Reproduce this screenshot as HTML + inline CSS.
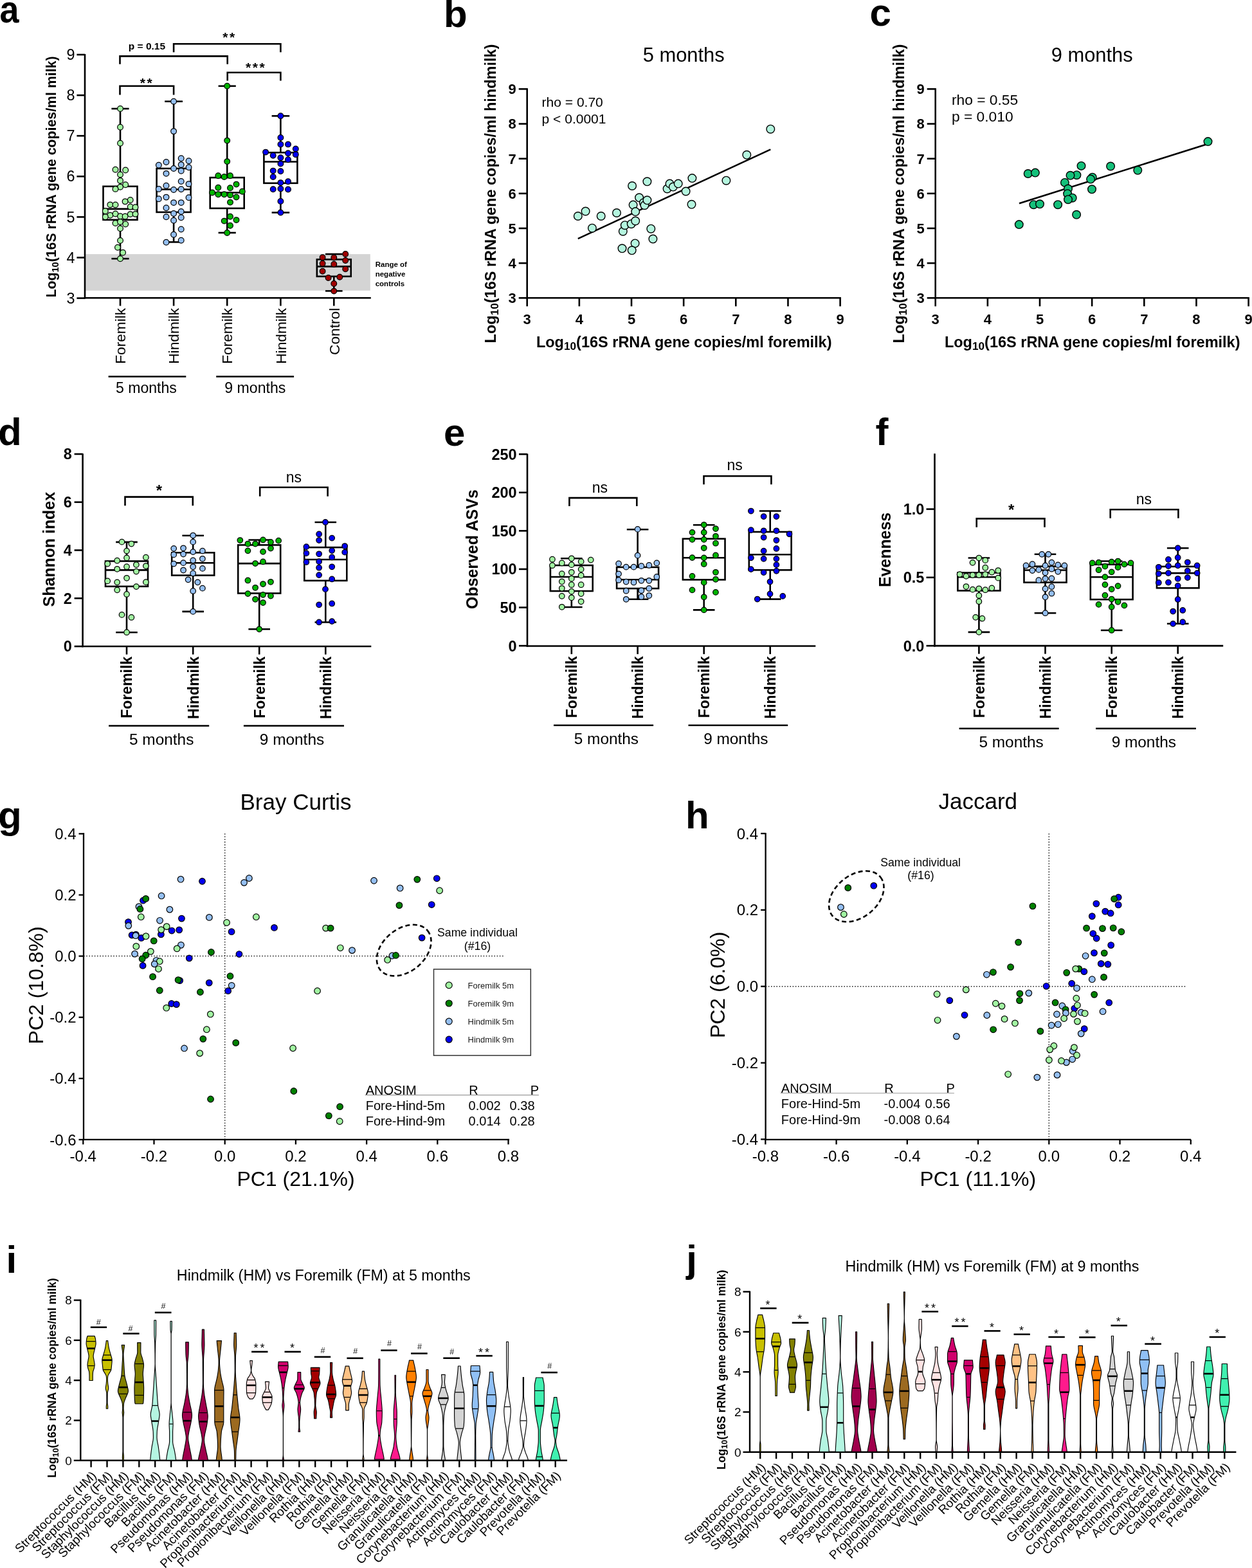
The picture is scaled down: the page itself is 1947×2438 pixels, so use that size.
<!DOCTYPE html>
<html><head><meta charset="utf-8"><title>Figure</title>
<style>html,body{margin:0;padding:0;background:#fff;}svg{display:block;}</style>
</head><body>
<svg width="1947" height="2438" viewBox="0 0 1947 2438" font-family="'Liberation Sans', Arial, sans-serif">
<rect width="1947" height="2438" fill="#fff"/>
<text transform="translate(-0.5 34.5) scale(0.9 1)" font-size="60" font-weight="bold">a</text>
<rect x="132" y="395.1" width="443.8" height="56.7" fill="#d4d4d4" stroke="none" stroke-width="0"/>
<line x1="132" y1="84" x2="132" y2="464.6" stroke="#000" stroke-width="2.6" stroke-linecap="butt"/>
<line x1="130.7" y1="463.3" x2="576.8" y2="463.3" stroke="#000" stroke-width="2.6" stroke-linecap="butt"/>
<line x1="119.4" y1="463.6" x2="132" y2="463.6" stroke="#000" stroke-width="2.6" stroke-linecap="butt"/>
<text x="116.5" y="471.7" font-size="23.4" text-anchor="end" fill="#000">3</text>
<line x1="119.4" y1="400.5" x2="132" y2="400.5" stroke="#000" stroke-width="2.6" stroke-linecap="butt"/>
<text x="116.5" y="408.6" font-size="23.4" text-anchor="end" fill="#000">4</text>
<line x1="119.4" y1="337.4" x2="132" y2="337.4" stroke="#000" stroke-width="2.6" stroke-linecap="butt"/>
<text x="116.5" y="345.5" font-size="23.4" text-anchor="end" fill="#000">5</text>
<line x1="119.4" y1="274.3" x2="132" y2="274.3" stroke="#000" stroke-width="2.6" stroke-linecap="butt"/>
<text x="116.5" y="282.4" font-size="23.4" text-anchor="end" fill="#000">6</text>
<line x1="119.4" y1="211.2" x2="132" y2="211.2" stroke="#000" stroke-width="2.6" stroke-linecap="butt"/>
<text x="116.5" y="219.3" font-size="23.4" text-anchor="end" fill="#000">7</text>
<line x1="119.4" y1="148.1" x2="132" y2="148.1" stroke="#000" stroke-width="2.6" stroke-linecap="butt"/>
<text x="116.5" y="156.2" font-size="23.4" text-anchor="end" fill="#000">8</text>
<line x1="119.4" y1="85" x2="132" y2="85" stroke="#000" stroke-width="2.6" stroke-linecap="butt"/>
<text x="116.5" y="93.1" font-size="23.4" text-anchor="end" fill="#000">9</text>
<line x1="187" y1="463.3" x2="187" y2="475.6" stroke="#000" stroke-width="2.6" stroke-linecap="butt"/>
<line x1="270.1" y1="463.3" x2="270.1" y2="475.6" stroke="#000" stroke-width="2.6" stroke-linecap="butt"/>
<line x1="353.2" y1="463.3" x2="353.2" y2="475.6" stroke="#000" stroke-width="2.6" stroke-linecap="butt"/>
<line x1="436.4" y1="463.3" x2="436.4" y2="475.6" stroke="#000" stroke-width="2.6" stroke-linecap="butt"/>
<line x1="519.3" y1="463.3" x2="519.3" y2="475.6" stroke="#000" stroke-width="2.6" stroke-linecap="butt"/>
<text transform="translate(86.6 275) rotate(-90)" font-size="21.3" font-weight="bold" text-anchor="middle" fill="#000">Log<tspan font-size="14.6" dy="4.2">10</tspan><tspan dy="-4.2">(16S rRNA gene copies/ml milk)</tspan></text>
<text transform="translate(195.2 478.8) rotate(-90)" font-size="22.7" text-anchor="end" fill="#000">Foremilk</text>
<text transform="translate(278.3 478.8) rotate(-90)" font-size="22.7" text-anchor="end" fill="#000">Hindmilk</text>
<text transform="translate(361.4 478.8) rotate(-90)" font-size="22.7" text-anchor="end" fill="#000">Foremilk</text>
<text transform="translate(444.6 478.8) rotate(-90)" font-size="22.7" text-anchor="end" fill="#000">Hindmilk</text>
<text transform="translate(527.5 478.8) rotate(-90)" font-size="22.7" text-anchor="end" fill="#000">Control</text>
<line x1="168.6" y1="585.5" x2="289.3" y2="585.5" stroke="#000" stroke-width="2.6" stroke-linecap="butt"/>
<line x1="336.2" y1="585.5" x2="457.1" y2="585.5" stroke="#000" stroke-width="2.6" stroke-linecap="butt"/>
<text x="227.4" y="611.2" font-size="23.1" text-anchor="middle" fill="#000">5 months</text>
<text x="396.8" y="611.2" font-size="23.1" text-anchor="middle" fill="#000">9 months</text>
<line x1="187" y1="169" x2="187" y2="289.8" stroke="#000" stroke-width="2.6" stroke-linecap="butt"/>
<line x1="187" y1="341.8" x2="187" y2="402.2" stroke="#000" stroke-width="2.6" stroke-linecap="butt"/>
<line x1="173.4" y1="169" x2="200.6" y2="169" stroke="#000" stroke-width="2.6" stroke-linecap="butt"/>
<line x1="173.4" y1="402.2" x2="200.6" y2="402.2" stroke="#000" stroke-width="2.6" stroke-linecap="butt"/>
<rect x="160.5" y="289.8" width="53" height="52" fill="none" stroke="#000" stroke-width="2.6"/>
<line x1="160.5" y1="324.9" x2="213.5" y2="324.9" stroke="#000" stroke-width="2.6" stroke-linecap="butt"/>
<line x1="270.1" y1="157.7" x2="270.1" y2="262" stroke="#000" stroke-width="2.6" stroke-linecap="butt"/>
<line x1="270.1" y1="329.9" x2="270.1" y2="376.4" stroke="#000" stroke-width="2.6" stroke-linecap="butt"/>
<line x1="256.2" y1="157.7" x2="284" y2="157.7" stroke="#000" stroke-width="2.6" stroke-linecap="butt"/>
<line x1="256.2" y1="376.4" x2="284" y2="376.4" stroke="#000" stroke-width="2.6" stroke-linecap="butt"/>
<rect x="243.6" y="262" width="53" height="67.9" fill="none" stroke="#000" stroke-width="2.6"/>
<line x1="243.6" y1="294.5" x2="296.6" y2="294.5" stroke="#000" stroke-width="2.6" stroke-linecap="butt"/>
<line x1="353.2" y1="133.8" x2="353.2" y2="276.1" stroke="#000" stroke-width="2.6" stroke-linecap="butt"/>
<line x1="353.2" y1="323.9" x2="353.2" y2="361.9" stroke="#000" stroke-width="2.6" stroke-linecap="butt"/>
<line x1="339.6" y1="133.8" x2="366.8" y2="133.8" stroke="#000" stroke-width="2.6" stroke-linecap="butt"/>
<line x1="339.6" y1="361.9" x2="366.8" y2="361.9" stroke="#000" stroke-width="2.6" stroke-linecap="butt"/>
<rect x="326.7" y="276.1" width="53" height="47.8" fill="none" stroke="#000" stroke-width="2.6"/>
<line x1="326.7" y1="299.5" x2="379.7" y2="299.5" stroke="#000" stroke-width="2.6" stroke-linecap="butt"/>
<line x1="436.4" y1="180.3" x2="436.4" y2="237.2" stroke="#000" stroke-width="2.6" stroke-linecap="butt"/>
<line x1="436.4" y1="284.8" x2="436.4" y2="330.5" stroke="#000" stroke-width="2.6" stroke-linecap="butt"/>
<line x1="422.6" y1="180.3" x2="450.2" y2="180.3" stroke="#000" stroke-width="2.6" stroke-linecap="butt"/>
<line x1="422.6" y1="330.5" x2="450.2" y2="330.5" stroke="#000" stroke-width="2.6" stroke-linecap="butt"/>
<rect x="410.4" y="237.2" width="52" height="47.6" fill="none" stroke="#000" stroke-width="2.6"/>
<line x1="410.4" y1="251.5" x2="462.4" y2="251.5" stroke="#000" stroke-width="2.6" stroke-linecap="butt"/>
<line x1="519.3" y1="395.1" x2="519.3" y2="403.4" stroke="#000" stroke-width="2.6" stroke-linecap="butt"/>
<line x1="519.3" y1="429.8" x2="519.3" y2="452.4" stroke="#000" stroke-width="2.6" stroke-linecap="butt"/>
<line x1="506" y1="395.1" x2="532.6" y2="395.1" stroke="#000" stroke-width="2.6" stroke-linecap="butt"/>
<line x1="506" y1="452.4" x2="532.6" y2="452.4" stroke="#000" stroke-width="2.6" stroke-linecap="butt"/>
<rect x="492.85" y="403.4" width="52.9" height="26.4" fill="none" stroke="#000" stroke-width="2.6"/>
<line x1="492.85" y1="414.4" x2="545.75" y2="414.4" stroke="#000" stroke-width="2.6" stroke-linecap="butt"/>
<circle cx="187.04" cy="169.04" r="4.35" fill="#a2f5a2" stroke="#000" stroke-width="1.25"/>
<circle cx="187.04" cy="197.72" r="4.35" fill="#a2f5a2" stroke="#000" stroke-width="1.25"/>
<circle cx="187.04" cy="222.69" r="4.35" fill="#a2f5a2" stroke="#000" stroke-width="1.25"/>
<circle cx="179.49" cy="263.69" r="4.35" fill="#a2f5a2" stroke="#000" stroke-width="1.25"/>
<circle cx="195.17" cy="264.51" r="4.35" fill="#a2f5a2" stroke="#000" stroke-width="1.25"/>
<circle cx="187.04" cy="271.48" r="4.35" fill="#a2f5a2" stroke="#000" stroke-width="1.25"/>
<circle cx="187.04" cy="280.88" r="4.35" fill="#a2f5a2" stroke="#000" stroke-width="1.25"/>
<circle cx="195.17" cy="287.27" r="4.35" fill="#a2f5a2" stroke="#000" stroke-width="1.25"/>
<circle cx="187.04" cy="290.75" r="4.35" fill="#a2f5a2" stroke="#000" stroke-width="1.25"/>
<circle cx="179.49" cy="293.89" r="4.35" fill="#a2f5a2" stroke="#000" stroke-width="1.25"/>
<circle cx="202.72" cy="311.03" r="4.35" fill="#a2f5a2" stroke="#000" stroke-width="1.25"/>
<circle cx="194.59" cy="313.36" r="4.35" fill="#a2f5a2" stroke="#000" stroke-width="1.25"/>
<circle cx="171.36" cy="318.35" r="4.35" fill="#a2f5a2" stroke="#000" stroke-width="1.25"/>
<circle cx="179.49" cy="318.58" r="4.35" fill="#a2f5a2" stroke="#000" stroke-width="1.25"/>
<circle cx="202.72" cy="321.49" r="4.35" fill="#a2f5a2" stroke="#000" stroke-width="1.25"/>
<circle cx="210.5" cy="322.3" r="4.35" fill="#a2f5a2" stroke="#000" stroke-width="1.25"/>
<circle cx="163.81" cy="328.22" r="4.35" fill="#a2f5a2" stroke="#000" stroke-width="1.25"/>
<circle cx="171.36" cy="334.84" r="4.35" fill="#a2f5a2" stroke="#000" stroke-width="1.25"/>
<circle cx="179.49" cy="332.52" r="4.35" fill="#a2f5a2" stroke="#000" stroke-width="1.25"/>
<circle cx="187.04" cy="336.24" r="4.35" fill="#a2f5a2" stroke="#000" stroke-width="1.25"/>
<circle cx="194.59" cy="336.59" r="4.35" fill="#a2f5a2" stroke="#000" stroke-width="1.25"/>
<circle cx="202.72" cy="333.1" r="4.35" fill="#a2f5a2" stroke="#000" stroke-width="1.25"/>
<circle cx="210.5" cy="332.87" r="4.35" fill="#a2f5a2" stroke="#000" stroke-width="1.25"/>
<circle cx="163.81" cy="337.17" r="4.35" fill="#a2f5a2" stroke="#000" stroke-width="1.25"/>
<circle cx="179.49" cy="347.04" r="4.35" fill="#a2f5a2" stroke="#000" stroke-width="1.25"/>
<circle cx="187.04" cy="345.06" r="4.35" fill="#a2f5a2" stroke="#000" stroke-width="1.25"/>
<circle cx="195.17" cy="348.55" r="4.35" fill="#a2f5a2" stroke="#000" stroke-width="1.25"/>
<circle cx="187.04" cy="355.17" r="4.35" fill="#a2f5a2" stroke="#000" stroke-width="1.25"/>
<circle cx="187.04" cy="373.98" r="4.35" fill="#a2f5a2" stroke="#000" stroke-width="1.25"/>
<circle cx="182.97" cy="384.79" r="4.35" fill="#a2f5a2" stroke="#000" stroke-width="1.25"/>
<circle cx="191.1" cy="392.68" r="4.35" fill="#a2f5a2" stroke="#000" stroke-width="1.25"/>
<circle cx="187.04" cy="402.21" r="4.35" fill="#a2f5a2" stroke="#000" stroke-width="1.25"/>
<circle cx="270.08" cy="157.65" r="4.35" fill="#94bff2" stroke="#000" stroke-width="1.25"/>
<circle cx="270.08" cy="204.11" r="4.35" fill="#94bff2" stroke="#000" stroke-width="1.25"/>
<circle cx="246.85" cy="256.72" r="4.35" fill="#94bff2" stroke="#000" stroke-width="1.25"/>
<circle cx="258.47" cy="252.08" r="4.35" fill="#94bff2" stroke="#000" stroke-width="1.25"/>
<circle cx="281.7" cy="246.27" r="4.35" fill="#94bff2" stroke="#000" stroke-width="1.25"/>
<circle cx="293.54" cy="250.34" r="4.35" fill="#94bff2" stroke="#000" stroke-width="1.25"/>
<circle cx="281.7" cy="256.14" r="4.35" fill="#94bff2" stroke="#000" stroke-width="1.25"/>
<circle cx="270.08" cy="261.95" r="4.35" fill="#94bff2" stroke="#000" stroke-width="1.25"/>
<circle cx="293.54" cy="260.21" r="4.35" fill="#94bff2" stroke="#000" stroke-width="1.25"/>
<circle cx="281.7" cy="265.67" r="4.35" fill="#94bff2" stroke="#000" stroke-width="1.25"/>
<circle cx="258.47" cy="269.85" r="4.35" fill="#94bff2" stroke="#000" stroke-width="1.25"/>
<circle cx="281.7" cy="281.93" r="4.35" fill="#94bff2" stroke="#000" stroke-width="1.25"/>
<circle cx="293.54" cy="286.11" r="4.35" fill="#94bff2" stroke="#000" stroke-width="1.25"/>
<circle cx="258.47" cy="288.66" r="4.35" fill="#94bff2" stroke="#000" stroke-width="1.25"/>
<circle cx="246.85" cy="293.89" r="4.35" fill="#94bff2" stroke="#000" stroke-width="1.25"/>
<circle cx="270.08" cy="295.05" r="4.35" fill="#94bff2" stroke="#000" stroke-width="1.25"/>
<circle cx="281.7" cy="294.24" r="4.35" fill="#94bff2" stroke="#000" stroke-width="1.25"/>
<circle cx="246.85" cy="309.29" r="4.35" fill="#94bff2" stroke="#000" stroke-width="1.25"/>
<circle cx="258.47" cy="306.62" r="4.35" fill="#94bff2" stroke="#000" stroke-width="1.25"/>
<circle cx="293.54" cy="307.2" r="4.35" fill="#94bff2" stroke="#000" stroke-width="1.25"/>
<circle cx="270.08" cy="315.1" r="4.35" fill="#94bff2" stroke="#000" stroke-width="1.25"/>
<circle cx="281.7" cy="315.1" r="4.35" fill="#94bff2" stroke="#000" stroke-width="1.25"/>
<circle cx="258.47" cy="323.23" r="4.35" fill="#94bff2" stroke="#000" stroke-width="1.25"/>
<circle cx="270.08" cy="331.94" r="4.35" fill="#94bff2" stroke="#000" stroke-width="1.25"/>
<circle cx="281.7" cy="329.04" r="4.35" fill="#94bff2" stroke="#000" stroke-width="1.25"/>
<circle cx="258.47" cy="337.17" r="4.35" fill="#94bff2" stroke="#000" stroke-width="1.25"/>
<circle cx="281.7" cy="338.33" r="4.35" fill="#94bff2" stroke="#000" stroke-width="1.25"/>
<circle cx="270.08" cy="342.74" r="4.35" fill="#94bff2" stroke="#000" stroke-width="1.25"/>
<circle cx="281.7" cy="356.56" r="4.35" fill="#94bff2" stroke="#000" stroke-width="1.25"/>
<circle cx="270.08" cy="364.81" r="4.35" fill="#94bff2" stroke="#000" stroke-width="1.25"/>
<circle cx="258.47" cy="376.66" r="4.35" fill="#94bff2" stroke="#000" stroke-width="1.25"/>
<circle cx="281.7" cy="373.75" r="4.35" fill="#94bff2" stroke="#000" stroke-width="1.25"/>
<circle cx="353.2" cy="133.8" r="4.35" fill="#00b400" stroke="#000" stroke-width="1.25"/>
<circle cx="353.2" cy="218.6" r="4.35" fill="#00b400" stroke="#000" stroke-width="1.25"/>
<circle cx="353.2" cy="251.1" r="4.35" fill="#00b400" stroke="#000" stroke-width="1.25"/>
<circle cx="339.3" cy="273.2" r="4.35" fill="#00b400" stroke="#000" stroke-width="1.25"/>
<circle cx="348.7" cy="274.9" r="4.35" fill="#00b400" stroke="#000" stroke-width="1.25"/>
<circle cx="358" cy="273.2" r="4.35" fill="#00b400" stroke="#000" stroke-width="1.25"/>
<circle cx="367.5" cy="286.6" r="4.35" fill="#00b400" stroke="#000" stroke-width="1.25"/>
<circle cx="339.3" cy="291.7" r="4.35" fill="#00b400" stroke="#000" stroke-width="1.25"/>
<circle cx="358" cy="292.2" r="4.35" fill="#00b400" stroke="#000" stroke-width="1.25"/>
<circle cx="330" cy="299.5" r="4.35" fill="#00b400" stroke="#000" stroke-width="1.25"/>
<circle cx="376.8" cy="297.8" r="4.35" fill="#00b400" stroke="#000" stroke-width="1.25"/>
<circle cx="339.3" cy="302.3" r="4.35" fill="#00b400" stroke="#000" stroke-width="1.25"/>
<circle cx="348.7" cy="302.3" r="4.35" fill="#00b400" stroke="#000" stroke-width="1.25"/>
<circle cx="358" cy="303.3" r="4.35" fill="#00b400" stroke="#000" stroke-width="1.25"/>
<circle cx="367.5" cy="306.5" r="4.35" fill="#00b400" stroke="#000" stroke-width="1.25"/>
<circle cx="358" cy="314.6" r="4.35" fill="#00b400" stroke="#000" stroke-width="1.25"/>
<circle cx="358" cy="336.7" r="4.35" fill="#00b400" stroke="#000" stroke-width="1.25"/>
<circle cx="348.7" cy="343.6" r="4.35" fill="#00b400" stroke="#000" stroke-width="1.25"/>
<circle cx="367.5" cy="342.1" r="4.35" fill="#00b400" stroke="#000" stroke-width="1.25"/>
<circle cx="358" cy="350.8" r="4.35" fill="#00b400" stroke="#000" stroke-width="1.25"/>
<circle cx="353.2" cy="361.9" r="4.35" fill="#00b400" stroke="#000" stroke-width="1.25"/>
<circle cx="436.4" cy="180.3" r="4.35" fill="#0000f0" stroke="#000" stroke-width="1.25"/>
<circle cx="436.4" cy="214" r="4.35" fill="#0000f0" stroke="#000" stroke-width="1.25"/>
<circle cx="436.4" cy="224.4" r="4.35" fill="#0000f0" stroke="#000" stroke-width="1.25"/>
<circle cx="448" cy="224.4" r="4.35" fill="#0000f0" stroke="#000" stroke-width="1.25"/>
<circle cx="459.8" cy="231.4" r="4.35" fill="#0000f0" stroke="#000" stroke-width="1.25"/>
<circle cx="413.1" cy="236.6" r="4.35" fill="#0000f0" stroke="#000" stroke-width="1.25"/>
<circle cx="424.7" cy="241.8" r="4.35" fill="#0000f0" stroke="#000" stroke-width="1.25"/>
<circle cx="448" cy="238.3" r="4.35" fill="#0000f0" stroke="#000" stroke-width="1.25"/>
<circle cx="459.8" cy="240.3" r="4.35" fill="#0000f0" stroke="#000" stroke-width="1.25"/>
<circle cx="436.4" cy="245.3" r="4.35" fill="#0000f0" stroke="#000" stroke-width="1.25"/>
<circle cx="448" cy="248.2" r="4.35" fill="#0000f0" stroke="#000" stroke-width="1.25"/>
<circle cx="436.4" cy="254.6" r="4.35" fill="#0000f0" stroke="#000" stroke-width="1.25"/>
<circle cx="424.7" cy="265.6" r="4.35" fill="#0000f0" stroke="#000" stroke-width="1.25"/>
<circle cx="436.4" cy="266.2" r="4.35" fill="#0000f0" stroke="#000" stroke-width="1.25"/>
<circle cx="424.7" cy="274.9" r="4.35" fill="#0000f0" stroke="#000" stroke-width="1.25"/>
<circle cx="436.4" cy="284.1" r="4.35" fill="#0000f0" stroke="#000" stroke-width="1.25"/>
<circle cx="448" cy="282.3" r="4.35" fill="#0000f0" stroke="#000" stroke-width="1.25"/>
<circle cx="424.7" cy="294.2" r="4.35" fill="#0000f0" stroke="#000" stroke-width="1.25"/>
<circle cx="436.4" cy="293.4" r="4.35" fill="#0000f0" stroke="#000" stroke-width="1.25"/>
<circle cx="448" cy="294.5" r="4.35" fill="#0000f0" stroke="#000" stroke-width="1.25"/>
<circle cx="436.4" cy="312.9" r="4.35" fill="#0000f0" stroke="#000" stroke-width="1.25"/>
<circle cx="436.4" cy="330.5" r="4.35" fill="#0000f0" stroke="#000" stroke-width="1.25"/>
<circle cx="501.6" cy="400.3" r="4.35" fill="#a00000" stroke="#000" stroke-width="1.25"/>
<circle cx="519.3" cy="400.5" r="4.35" fill="#a00000" stroke="#000" stroke-width="1.25"/>
<circle cx="537.2" cy="394.9" r="4.35" fill="#a00000" stroke="#000" stroke-width="1.25"/>
<circle cx="501.6" cy="409.7" r="4.35" fill="#a00000" stroke="#000" stroke-width="1.25"/>
<circle cx="519.3" cy="410.8" r="4.35" fill="#a00000" stroke="#000" stroke-width="1.25"/>
<circle cx="537.2" cy="405" r="4.35" fill="#a00000" stroke="#000" stroke-width="1.25"/>
<circle cx="501.6" cy="421.7" r="4.35" fill="#a00000" stroke="#000" stroke-width="1.25"/>
<circle cx="537.2" cy="418.3" r="4.35" fill="#a00000" stroke="#000" stroke-width="1.25"/>
<circle cx="510.6" cy="431.9" r="4.35" fill="#a00000" stroke="#000" stroke-width="1.25"/>
<circle cx="528.3" cy="430.8" r="4.35" fill="#a00000" stroke="#000" stroke-width="1.25"/>
<circle cx="519.3" cy="440.9" r="4.35" fill="#a00000" stroke="#000" stroke-width="1.25"/>
<circle cx="519.3" cy="452.6" r="4.35" fill="#a00000" stroke="#000" stroke-width="1.25"/>
<polyline points="270.1,81.3 270.1,68.2 436.4,68.2 436.4,81.3" fill="none" stroke="#000" stroke-width="2.6" stroke-linejoin="miter" stroke-linecap="butt"/>
<text x="356.9" y="65.2" font-size="21" font-weight="bold" text-anchor="middle" fill="#000" letter-spacing="2.6">**</text>
<polyline points="186.5,99.8 186.5,87.4 353.7,87.4 353.7,99.8" fill="none" stroke="#000" stroke-width="2.6" stroke-linejoin="miter" stroke-linecap="butt"/>
<text x="199.8" y="77.2" font-size="15.5" font-weight="bold" fill="#000">p = 0.15</text>
<polyline points="353.7,125.5 353.7,112.8 436.4,112.8 436.4,125.5" fill="none" stroke="#000" stroke-width="2.6" stroke-linejoin="miter" stroke-linecap="butt"/>
<text x="398.2" y="111.7" font-size="21" font-weight="bold" text-anchor="middle" fill="#000" letter-spacing="2.6">***</text>
<polyline points="186.5,147.4 186.5,133.8 270.1,133.8 270.1,147.4" fill="none" stroke="#000" stroke-width="2.6" stroke-linejoin="miter" stroke-linecap="butt"/>
<text x="228.6" y="135.9" font-size="21" font-weight="bold" text-anchor="middle" fill="#000" letter-spacing="2.6">**</text>
<text x="583.7" y="415.2" font-size="11.5" font-weight="bold" fill="#000">Range of</text>
<text x="583.7" y="430" font-size="11.5" font-weight="bold" fill="#000">negative</text>
<text x="583.7" y="444.7" font-size="11.5" font-weight="bold" fill="#000">controls</text>
<text x="690" y="41.8" font-size="60" font-weight="bold" fill="#000">b</text>
<line x1="819.7" y1="137.2" x2="819.7" y2="464.6" stroke="#000" stroke-width="2.6" stroke-linecap="butt"/>
<line x1="818.4" y1="463.3" x2="1307.9" y2="463.3" stroke="#000" stroke-width="2.6" stroke-linecap="butt"/>
<line x1="806.7" y1="463.3" x2="819.7" y2="463.3" stroke="#000" stroke-width="2.6" stroke-linecap="butt"/>
<text x="802.7" y="471.2" font-size="22" font-weight="bold" text-anchor="end" fill="#000">3</text>
<line x1="819.7" y1="463.3" x2="819.7" y2="476.3" stroke="#000" stroke-width="2.6" stroke-linecap="butt"/>
<text x="819.7" y="504" font-size="22" font-weight="bold" text-anchor="middle" fill="#000">3</text>
<line x1="806.7" y1="409.15" x2="819.7" y2="409.15" stroke="#000" stroke-width="2.6" stroke-linecap="butt"/>
<text x="802.7" y="417.05" font-size="22" font-weight="bold" text-anchor="end" fill="#000">4</text>
<line x1="900.85" y1="463.3" x2="900.85" y2="476.3" stroke="#000" stroke-width="2.6" stroke-linecap="butt"/>
<text x="900.85" y="504" font-size="22" font-weight="bold" text-anchor="middle" fill="#000">4</text>
<line x1="806.7" y1="355" x2="819.7" y2="355" stroke="#000" stroke-width="2.6" stroke-linecap="butt"/>
<text x="802.7" y="362.9" font-size="22" font-weight="bold" text-anchor="end" fill="#000">5</text>
<line x1="982" y1="463.3" x2="982" y2="476.3" stroke="#000" stroke-width="2.6" stroke-linecap="butt"/>
<text x="982" y="504" font-size="22" font-weight="bold" text-anchor="middle" fill="#000">5</text>
<line x1="806.7" y1="300.85" x2="819.7" y2="300.85" stroke="#000" stroke-width="2.6" stroke-linecap="butt"/>
<text x="802.7" y="308.75" font-size="22" font-weight="bold" text-anchor="end" fill="#000">6</text>
<line x1="1063.15" y1="463.3" x2="1063.15" y2="476.3" stroke="#000" stroke-width="2.6" stroke-linecap="butt"/>
<text x="1063.15" y="504" font-size="22" font-weight="bold" text-anchor="middle" fill="#000">6</text>
<line x1="806.7" y1="246.7" x2="819.7" y2="246.7" stroke="#000" stroke-width="2.6" stroke-linecap="butt"/>
<text x="802.7" y="254.6" font-size="22" font-weight="bold" text-anchor="end" fill="#000">7</text>
<line x1="1144.3" y1="463.3" x2="1144.3" y2="476.3" stroke="#000" stroke-width="2.6" stroke-linecap="butt"/>
<text x="1144.3" y="504" font-size="22" font-weight="bold" text-anchor="middle" fill="#000">7</text>
<line x1="806.7" y1="192.55" x2="819.7" y2="192.55" stroke="#000" stroke-width="2.6" stroke-linecap="butt"/>
<text x="802.7" y="200.45" font-size="22" font-weight="bold" text-anchor="end" fill="#000">8</text>
<line x1="1225.45" y1="463.3" x2="1225.45" y2="476.3" stroke="#000" stroke-width="2.6" stroke-linecap="butt"/>
<text x="1225.45" y="504" font-size="22" font-weight="bold" text-anchor="middle" fill="#000">8</text>
<line x1="806.7" y1="138.4" x2="819.7" y2="138.4" stroke="#000" stroke-width="2.6" stroke-linecap="butt"/>
<text x="802.7" y="146.3" font-size="22" font-weight="bold" text-anchor="end" fill="#000">9</text>
<line x1="1306.6" y1="463.3" x2="1306.6" y2="476.3" stroke="#000" stroke-width="2.6" stroke-linecap="butt"/>
<text x="1306.6" y="504" font-size="22" font-weight="bold" text-anchor="middle" fill="#000">9</text>
<text transform="translate(770.7 301) rotate(-90)" font-size="23.5" font-weight="bold" text-anchor="middle" fill="#000">Log<tspan font-size="17.2" dy="4.4">10</tspan><tspan dy="-4.4">(16S rRNA gene copies/ml hindmilk)</tspan></text>
<text x="1063.7" y="539.7" font-size="23.5" font-weight="bold" text-anchor="middle" fill="#000">Log<tspan font-size="17.2" dy="4.4">10</tspan><tspan dy="-4.4">(16S rRNA gene copies/ml foremilk)</tspan></text>
<text x="1063.2" y="96.4" font-size="30.9" text-anchor="middle" fill="#000">5 months</text>
<text x="842.6" y="166.3" font-size="21" fill="#000">rho = 0.70</text>
<text x="842.6" y="192" font-size="21" fill="#000">p &lt; 0.0001</text>
<line x1="898.8" y1="371.1" x2="1198.3" y2="232.3" stroke="#000" stroke-width="2.5" stroke-linecap="butt"/>
<circle cx="898.8" cy="336" r="6.3" fill="#b4f5de" stroke="#000" stroke-width="1.4"/>
<circle cx="910.6" cy="328.5" r="6.3" fill="#b4f5de" stroke="#000" stroke-width="1.4"/>
<circle cx="920.9" cy="354.7" r="6.3" fill="#b4f5de" stroke="#000" stroke-width="1.4"/>
<circle cx="934.7" cy="336" r="6.3" fill="#b4f5de" stroke="#000" stroke-width="1.4"/>
<circle cx="959" cy="331" r="6.3" fill="#b4f5de" stroke="#000" stroke-width="1.4"/>
<circle cx="968.8" cy="359.7" r="6.3" fill="#b4f5de" stroke="#000" stroke-width="1.4"/>
<circle cx="971.8" cy="350.2" r="6.3" fill="#b4f5de" stroke="#000" stroke-width="1.4"/>
<circle cx="981.7" cy="348.2" r="6.3" fill="#b4f5de" stroke="#000" stroke-width="1.4"/>
<circle cx="988.2" cy="343.5" r="6.3" fill="#b4f5de" stroke="#000" stroke-width="1.4"/>
<circle cx="983.1" cy="289" r="6.3" fill="#b4f5de" stroke="#000" stroke-width="1.4"/>
<circle cx="1006.4" cy="282.3" r="6.3" fill="#b4f5de" stroke="#000" stroke-width="1.4"/>
<circle cx="984.6" cy="318.6" r="6.3" fill="#b4f5de" stroke="#000" stroke-width="1.4"/>
<circle cx="988.2" cy="329.1" r="6.3" fill="#b4f5de" stroke="#000" stroke-width="1.4"/>
<circle cx="994.1" cy="307.3" r="6.3" fill="#b4f5de" stroke="#000" stroke-width="1.4"/>
<circle cx="1000.8" cy="315.2" r="6.3" fill="#b4f5de" stroke="#000" stroke-width="1.4"/>
<circle cx="1002.4" cy="319.2" r="6.3" fill="#b4f5de" stroke="#000" stroke-width="1.4"/>
<circle cx="1006.4" cy="311.3" r="6.3" fill="#b4f5de" stroke="#000" stroke-width="1.4"/>
<circle cx="1012.3" cy="355.7" r="6.3" fill="#b4f5de" stroke="#000" stroke-width="1.4"/>
<circle cx="1015.4" cy="371.5" r="6.3" fill="#b4f5de" stroke="#000" stroke-width="1.4"/>
<circle cx="987.6" cy="378.4" r="6.3" fill="#b4f5de" stroke="#000" stroke-width="1.4"/>
<circle cx="967.5" cy="386.3" r="6.3" fill="#b4f5de" stroke="#000" stroke-width="1.4"/>
<circle cx="982.7" cy="389.3" r="6.3" fill="#b4f5de" stroke="#000" stroke-width="1.4"/>
<circle cx="1037.6" cy="293.5" r="6.3" fill="#b4f5de" stroke="#000" stroke-width="1.4"/>
<circle cx="1041.5" cy="285.6" r="6.3" fill="#b4f5de" stroke="#000" stroke-width="1.4"/>
<circle cx="1046.8" cy="290.6" r="6.3" fill="#b4f5de" stroke="#000" stroke-width="1.4"/>
<circle cx="1054.7" cy="285.6" r="6.3" fill="#b4f5de" stroke="#000" stroke-width="1.4"/>
<circle cx="1066.6" cy="297.5" r="6.3" fill="#b4f5de" stroke="#000" stroke-width="1.4"/>
<circle cx="1076.4" cy="277.1" r="6.3" fill="#b4f5de" stroke="#000" stroke-width="1.4"/>
<circle cx="1075.5" cy="317.8" r="6.3" fill="#b4f5de" stroke="#000" stroke-width="1.4"/>
<circle cx="1129.4" cy="280.7" r="6.3" fill="#b4f5de" stroke="#000" stroke-width="1.4"/>
<circle cx="1161.3" cy="240.8" r="6.3" fill="#b4f5de" stroke="#000" stroke-width="1.4"/>
<circle cx="1198.3" cy="200.7" r="6.3" fill="#b4f5de" stroke="#000" stroke-width="1.4"/>
<text x="1352.5" y="39.6" font-size="60" font-weight="bold" fill="#000">c</text>
<line x1="1454.7" y1="137.2" x2="1454.7" y2="464.6" stroke="#000" stroke-width="2.6" stroke-linecap="butt"/>
<line x1="1453.4" y1="463.3" x2="1942.9" y2="463.3" stroke="#000" stroke-width="2.6" stroke-linecap="butt"/>
<line x1="1441.7" y1="463.3" x2="1454.7" y2="463.3" stroke="#000" stroke-width="2.6" stroke-linecap="butt"/>
<text x="1437.7" y="471.2" font-size="22" font-weight="bold" text-anchor="end" fill="#000">3</text>
<line x1="1454.7" y1="463.3" x2="1454.7" y2="476.3" stroke="#000" stroke-width="2.6" stroke-linecap="butt"/>
<text x="1454.7" y="504" font-size="22" font-weight="bold" text-anchor="middle" fill="#000">3</text>
<line x1="1441.7" y1="409.15" x2="1454.7" y2="409.15" stroke="#000" stroke-width="2.6" stroke-linecap="butt"/>
<text x="1437.7" y="417.05" font-size="22" font-weight="bold" text-anchor="end" fill="#000">4</text>
<line x1="1535.85" y1="463.3" x2="1535.85" y2="476.3" stroke="#000" stroke-width="2.6" stroke-linecap="butt"/>
<text x="1535.85" y="504" font-size="22" font-weight="bold" text-anchor="middle" fill="#000">4</text>
<line x1="1441.7" y1="355" x2="1454.7" y2="355" stroke="#000" stroke-width="2.6" stroke-linecap="butt"/>
<text x="1437.7" y="362.9" font-size="22" font-weight="bold" text-anchor="end" fill="#000">5</text>
<line x1="1617" y1="463.3" x2="1617" y2="476.3" stroke="#000" stroke-width="2.6" stroke-linecap="butt"/>
<text x="1617" y="504" font-size="22" font-weight="bold" text-anchor="middle" fill="#000">5</text>
<line x1="1441.7" y1="300.85" x2="1454.7" y2="300.85" stroke="#000" stroke-width="2.6" stroke-linecap="butt"/>
<text x="1437.7" y="308.75" font-size="22" font-weight="bold" text-anchor="end" fill="#000">6</text>
<line x1="1698.15" y1="463.3" x2="1698.15" y2="476.3" stroke="#000" stroke-width="2.6" stroke-linecap="butt"/>
<text x="1698.15" y="504" font-size="22" font-weight="bold" text-anchor="middle" fill="#000">6</text>
<line x1="1441.7" y1="246.7" x2="1454.7" y2="246.7" stroke="#000" stroke-width="2.6" stroke-linecap="butt"/>
<text x="1437.7" y="254.6" font-size="22" font-weight="bold" text-anchor="end" fill="#000">7</text>
<line x1="1779.3" y1="463.3" x2="1779.3" y2="476.3" stroke="#000" stroke-width="2.6" stroke-linecap="butt"/>
<text x="1779.3" y="504" font-size="22" font-weight="bold" text-anchor="middle" fill="#000">7</text>
<line x1="1441.7" y1="192.55" x2="1454.7" y2="192.55" stroke="#000" stroke-width="2.6" stroke-linecap="butt"/>
<text x="1437.7" y="200.45" font-size="22" font-weight="bold" text-anchor="end" fill="#000">8</text>
<line x1="1860.45" y1="463.3" x2="1860.45" y2="476.3" stroke="#000" stroke-width="2.6" stroke-linecap="butt"/>
<text x="1860.45" y="504" font-size="22" font-weight="bold" text-anchor="middle" fill="#000">8</text>
<line x1="1441.7" y1="138.4" x2="1454.7" y2="138.4" stroke="#000" stroke-width="2.6" stroke-linecap="butt"/>
<text x="1437.7" y="146.3" font-size="22" font-weight="bold" text-anchor="end" fill="#000">9</text>
<line x1="1941.6" y1="463.3" x2="1941.6" y2="476.3" stroke="#000" stroke-width="2.6" stroke-linecap="butt"/>
<text x="1941.6" y="504" font-size="22" font-weight="bold" text-anchor="middle" fill="#000">9</text>
<text transform="translate(1405.7 301) rotate(-90)" font-size="23.5" font-weight="bold" text-anchor="middle" fill="#000">Log<tspan font-size="17.2" dy="4.4">10</tspan><tspan dy="-4.4">(16S rRNA gene copies/ml hindmilk)</tspan></text>
<text x="1698.7" y="539.7" font-size="23.5" font-weight="bold" text-anchor="middle" fill="#000">Log<tspan font-size="17.2" dy="4.4">10</tspan><tspan dy="-4.4">(16S rRNA gene copies/ml foremilk)</tspan></text>
<text x="1698.2" y="96.4" font-size="30.9" text-anchor="middle" fill="#000">9 months</text>
<text x="1479.9" y="163" font-size="22.8" fill="#000">rho = 0.55</text>
<text x="1479.9" y="188.8" font-size="22.8" fill="#000">p = 0.010</text>
<line x1="1585" y1="316.3" x2="1877.6" y2="224" stroke="#000" stroke-width="2.5" stroke-linecap="butt"/>
<circle cx="1598.7" cy="270" r="6.3" fill="#14c07a" stroke="#000" stroke-width="1.4"/>
<circle cx="1609.9" cy="268.6" r="6.3" fill="#14c07a" stroke="#000" stroke-width="1.4"/>
<circle cx="1681.5" cy="257.9" r="6.3" fill="#14c07a" stroke="#000" stroke-width="1.4"/>
<circle cx="1727.1" cy="258.5" r="6.3" fill="#14c07a" stroke="#000" stroke-width="1.4"/>
<circle cx="1769.3" cy="264.8" r="6.3" fill="#14c07a" stroke="#000" stroke-width="1.4"/>
<circle cx="1674.4" cy="272.2" r="6.3" fill="#14c07a" stroke="#000" stroke-width="1.4"/>
<circle cx="1664.5" cy="272.8" r="6.3" fill="#14c07a" stroke="#000" stroke-width="1.4"/>
<circle cx="1655.9" cy="283.9" r="6.3" fill="#14c07a" stroke="#000" stroke-width="1.4"/>
<circle cx="1661" cy="293.5" r="6.3" fill="#14c07a" stroke="#000" stroke-width="1.4"/>
<circle cx="1660.1" cy="301.2" r="6.3" fill="#14c07a" stroke="#000" stroke-width="1.4"/>
<circle cx="1667.7" cy="307.7" r="6.3" fill="#14c07a" stroke="#000" stroke-width="1.4"/>
<circle cx="1661" cy="310.2" r="6.3" fill="#14c07a" stroke="#000" stroke-width="1.4"/>
<circle cx="1698.8" cy="275.7" r="6.3" fill="#14c07a" stroke="#000" stroke-width="1.4"/>
<circle cx="1696.1" cy="278.6" r="6.3" fill="#14c07a" stroke="#000" stroke-width="1.4"/>
<circle cx="1698" cy="294.3" r="6.3" fill="#14c07a" stroke="#000" stroke-width="1.4"/>
<circle cx="1607.4" cy="318.2" r="6.3" fill="#14c07a" stroke="#000" stroke-width="1.4"/>
<circle cx="1617" cy="317.3" r="6.3" fill="#14c07a" stroke="#000" stroke-width="1.4"/>
<circle cx="1645.1" cy="318.2" r="6.3" fill="#14c07a" stroke="#000" stroke-width="1.4"/>
<circle cx="1674.1" cy="333.8" r="6.3" fill="#14c07a" stroke="#000" stroke-width="1.4"/>
<circle cx="1584.8" cy="349.1" r="6.3" fill="#14c07a" stroke="#000" stroke-width="1.4"/>
<circle cx="1878.5" cy="220.1" r="6.3" fill="#14c07a" stroke="#000" stroke-width="1.4"/>
<text x="-3" y="692" font-size="60" font-weight="bold" fill="#000">d</text>
<line x1="128.6" y1="705.2" x2="128.6" y2="1006.3" stroke="#000" stroke-width="2.6" stroke-linecap="butt"/>
<line x1="127.3" y1="1005" x2="577.3" y2="1005" stroke="#000" stroke-width="2.6" stroke-linecap="butt"/>
<line x1="115.6" y1="1005" x2="128.6" y2="1005" stroke="#000" stroke-width="2.6" stroke-linecap="butt"/>
<text x="111.8" y="1013.4" font-size="23.5" font-weight="bold" text-anchor="end" fill="#000">0</text>
<line x1="115.6" y1="930.25" x2="128.6" y2="930.25" stroke="#000" stroke-width="2.6" stroke-linecap="butt"/>
<text x="111.8" y="938.65" font-size="23.5" font-weight="bold" text-anchor="end" fill="#000">2</text>
<line x1="115.6" y1="855.5" x2="128.6" y2="855.5" stroke="#000" stroke-width="2.6" stroke-linecap="butt"/>
<text x="111.8" y="863.9" font-size="23.5" font-weight="bold" text-anchor="end" fill="#000">4</text>
<line x1="115.6" y1="780.75" x2="128.6" y2="780.75" stroke="#000" stroke-width="2.6" stroke-linecap="butt"/>
<text x="111.8" y="789.15" font-size="23.5" font-weight="bold" text-anchor="end" fill="#000">6</text>
<line x1="115.6" y1="706" x2="128.6" y2="706" stroke="#000" stroke-width="2.6" stroke-linecap="butt"/>
<text x="111.8" y="714.4" font-size="23.5" font-weight="bold" text-anchor="end" fill="#000">8</text>
<text transform="translate(84.5 854.2) rotate(-90)" font-size="24.9" font-weight="bold" text-anchor="middle" fill="#000">Shannon index</text>
<line x1="197" y1="1005" x2="197" y2="1017.6" stroke="#000" stroke-width="2.6" stroke-linecap="butt"/>
<text transform="translate(205.3 1020.8) rotate(-90)" font-size="23" font-weight="bold" text-anchor="end" fill="#000">Foremilk</text>
<line x1="300.2" y1="1005" x2="300.2" y2="1017.6" stroke="#000" stroke-width="2.6" stroke-linecap="butt"/>
<text transform="translate(308.5 1020.8) rotate(-90)" font-size="23" font-weight="bold" text-anchor="end" fill="#000">Hindmilk</text>
<line x1="403.2" y1="1005" x2="403.2" y2="1017.6" stroke="#000" stroke-width="2.6" stroke-linecap="butt"/>
<text transform="translate(411.5 1020.8) rotate(-90)" font-size="23" font-weight="bold" text-anchor="end" fill="#000">Foremilk</text>
<line x1="506.3" y1="1005" x2="506.3" y2="1017.6" stroke="#000" stroke-width="2.6" stroke-linecap="butt"/>
<text transform="translate(514.6 1020.8) rotate(-90)" font-size="23" font-weight="bold" text-anchor="end" fill="#000">Hindmilk</text>
<line x1="169.1" y1="1128.5" x2="325.2" y2="1128.5" stroke="#000" stroke-width="2.6" stroke-linecap="butt"/>
<line x1="378.9" y1="1128.5" x2="535" y2="1128.5" stroke="#000" stroke-width="2.6" stroke-linecap="butt"/>
<text x="251.2" y="1158.2" font-size="24.4" text-anchor="middle" fill="#000">5 months</text>
<text x="454" y="1158.2" font-size="24.4" text-anchor="middle" fill="#000">9 months</text>
<polyline points="194.5,786.3 194.5,772.6 299.8,772.6 299.8,786.3" fill="none" stroke="#000" stroke-width="2.6" stroke-linejoin="miter" stroke-linecap="butt"/>
<text x="247.5" y="771.4" font-size="24" font-weight="bold" text-anchor="middle" fill="#000">*</text>
<polyline points="404.2,771.7 404.2,757.7 509.6,757.7 509.6,771.7" fill="none" stroke="#000" stroke-width="2.6" stroke-linejoin="miter" stroke-linecap="butt"/>
<text x="456.9" y="750" font-size="23" text-anchor="middle" fill="#000">ns</text>
<line x1="197" y1="842.9" x2="197" y2="872.5" stroke="#000" stroke-width="2.6" stroke-linecap="butt"/>
<line x1="197" y1="911.8" x2="197" y2="983.2" stroke="#000" stroke-width="2.6" stroke-linecap="butt"/>
<line x1="180.2" y1="842.9" x2="213.8" y2="842.9" stroke="#000" stroke-width="2.6" stroke-linecap="butt"/>
<line x1="180.2" y1="983.2" x2="213.8" y2="983.2" stroke="#000" stroke-width="2.6" stroke-linecap="butt"/>
<rect x="164" y="872.5" width="66" height="39.3" fill="none" stroke="#000" stroke-width="2.6"/>
<line x1="164" y1="886.4" x2="230" y2="886.4" stroke="#000" stroke-width="2.6" stroke-linecap="butt"/>
<line x1="300.2" y1="832.8" x2="300.2" y2="859.3" stroke="#000" stroke-width="2.6" stroke-linecap="butt"/>
<line x1="300.2" y1="894.6" x2="300.2" y2="950.9" stroke="#000" stroke-width="2.6" stroke-linecap="butt"/>
<line x1="283.4" y1="832.8" x2="317" y2="832.8" stroke="#000" stroke-width="2.6" stroke-linecap="butt"/>
<line x1="283.4" y1="950.9" x2="317" y2="950.9" stroke="#000" stroke-width="2.6" stroke-linecap="butt"/>
<rect x="267.2" y="859.3" width="66" height="35.3" fill="none" stroke="#000" stroke-width="2.6"/>
<line x1="267.2" y1="875.2" x2="333.2" y2="875.2" stroke="#000" stroke-width="2.6" stroke-linecap="butt"/>
<line x1="403.2" y1="839.5" x2="403.2" y2="847.4" stroke="#000" stroke-width="2.6" stroke-linecap="butt"/>
<line x1="403.2" y1="922.5" x2="403.2" y2="978.3" stroke="#000" stroke-width="2.6" stroke-linecap="butt"/>
<line x1="386.4" y1="839.5" x2="420" y2="839.5" stroke="#000" stroke-width="2.6" stroke-linecap="butt"/>
<line x1="386.4" y1="978.3" x2="420" y2="978.3" stroke="#000" stroke-width="2.6" stroke-linecap="butt"/>
<rect x="370.2" y="847.4" width="66" height="75.1" fill="none" stroke="#000" stroke-width="2.6"/>
<line x1="370.2" y1="876.1" x2="436.2" y2="876.1" stroke="#000" stroke-width="2.6" stroke-linecap="butt"/>
<line x1="506.3" y1="812" x2="506.3" y2="851.1" stroke="#000" stroke-width="2.6" stroke-linecap="butt"/>
<line x1="506.3" y1="902.8" x2="506.3" y2="967.5" stroke="#000" stroke-width="2.6" stroke-linecap="butt"/>
<line x1="489.5" y1="812" x2="523.1" y2="812" stroke="#000" stroke-width="2.6" stroke-linecap="butt"/>
<line x1="489.5" y1="967.5" x2="523.1" y2="967.5" stroke="#000" stroke-width="2.6" stroke-linecap="butt"/>
<rect x="473.3" y="851.1" width="66" height="51.7" fill="none" stroke="#000" stroke-width="2.6"/>
<line x1="473.3" y1="870" x2="539.3" y2="870" stroke="#000" stroke-width="2.6" stroke-linecap="butt"/>
<circle cx="189.49" cy="842.65" r="4.25" fill="#a2f5a2" stroke="#000" stroke-width="1.25"/>
<circle cx="204.36" cy="845.55" r="4.25" fill="#a2f5a2" stroke="#000" stroke-width="1.25"/>
<circle cx="197.04" cy="856.59" r="4.25" fill="#a2f5a2" stroke="#000" stroke-width="1.25"/>
<circle cx="197.04" cy="867.39" r="4.25" fill="#a2f5a2" stroke="#000" stroke-width="1.25"/>
<circle cx="226.89" cy="866.69" r="4.25" fill="#a2f5a2" stroke="#000" stroke-width="1.25"/>
<circle cx="182.17" cy="871.68" r="4.25" fill="#a2f5a2" stroke="#000" stroke-width="1.25"/>
<circle cx="167.19" cy="876.56" r="4.25" fill="#a2f5a2" stroke="#000" stroke-width="1.25"/>
<circle cx="211.9" cy="878.07" r="4.25" fill="#a2f5a2" stroke="#000" stroke-width="1.25"/>
<circle cx="197.04" cy="881.21" r="4.25" fill="#a2f5a2" stroke="#000" stroke-width="1.25"/>
<circle cx="226.89" cy="880.05" r="4.25" fill="#a2f5a2" stroke="#000" stroke-width="1.25"/>
<circle cx="182.17" cy="884.81" r="4.25" fill="#a2f5a2" stroke="#000" stroke-width="1.25"/>
<circle cx="211.9" cy="888.52" r="4.25" fill="#a2f5a2" stroke="#000" stroke-width="1.25"/>
<circle cx="197.04" cy="898.75" r="4.25" fill="#a2f5a2" stroke="#000" stroke-width="1.25"/>
<circle cx="167.19" cy="903.39" r="4.25" fill="#a2f5a2" stroke="#000" stroke-width="1.25"/>
<circle cx="182.17" cy="905.37" r="4.25" fill="#a2f5a2" stroke="#000" stroke-width="1.25"/>
<circle cx="226.89" cy="905.13" r="4.25" fill="#a2f5a2" stroke="#000" stroke-width="1.25"/>
<circle cx="211.9" cy="912.1" r="4.25" fill="#a2f5a2" stroke="#000" stroke-width="1.25"/>
<circle cx="182.17" cy="917.33" r="4.25" fill="#a2f5a2" stroke="#000" stroke-width="1.25"/>
<circle cx="197.04" cy="923.95" r="4.25" fill="#a2f5a2" stroke="#000" stroke-width="1.25"/>
<circle cx="189.49" cy="955.89" r="4.25" fill="#a2f5a2" stroke="#000" stroke-width="1.25"/>
<circle cx="204.36" cy="959.95" r="4.25" fill="#a2f5a2" stroke="#000" stroke-width="1.25"/>
<circle cx="197.04" cy="983.18" r="4.25" fill="#a2f5a2" stroke="#000" stroke-width="1.25"/>
<circle cx="300.17" cy="832.54" r="4.25" fill="#94bff2" stroke="#000" stroke-width="1.25"/>
<circle cx="300.17" cy="842.65" r="4.25" fill="#94bff2" stroke="#000" stroke-width="1.25"/>
<circle cx="270.21" cy="852.87" r="4.25" fill="#94bff2" stroke="#000" stroke-width="1.25"/>
<circle cx="285.08" cy="852.29" r="4.25" fill="#94bff2" stroke="#000" stroke-width="1.25"/>
<circle cx="300.17" cy="858.1" r="4.25" fill="#94bff2" stroke="#000" stroke-width="1.25"/>
<circle cx="314.92" cy="856.59" r="4.25" fill="#94bff2" stroke="#000" stroke-width="1.25"/>
<circle cx="270.21" cy="862.39" r="4.25" fill="#94bff2" stroke="#000" stroke-width="1.25"/>
<circle cx="285.08" cy="861.58" r="4.25" fill="#94bff2" stroke="#000" stroke-width="1.25"/>
<circle cx="314.92" cy="868.78" r="4.25" fill="#94bff2" stroke="#000" stroke-width="1.25"/>
<circle cx="300.17" cy="871.34" r="4.25" fill="#94bff2" stroke="#000" stroke-width="1.25"/>
<circle cx="270.21" cy="876.56" r="4.25" fill="#94bff2" stroke="#000" stroke-width="1.25"/>
<circle cx="285.08" cy="875.17" r="4.25" fill="#94bff2" stroke="#000" stroke-width="1.25"/>
<circle cx="300.17" cy="881.32" r="4.25" fill="#94bff2" stroke="#000" stroke-width="1.25"/>
<circle cx="314.92" cy="883.88" r="4.25" fill="#94bff2" stroke="#000" stroke-width="1.25"/>
<circle cx="285.08" cy="886.55" r="4.25" fill="#94bff2" stroke="#000" stroke-width="1.25"/>
<circle cx="300.17" cy="891.43" r="4.25" fill="#94bff2" stroke="#000" stroke-width="1.25"/>
<circle cx="292.62" cy="901.3" r="4.25" fill="#94bff2" stroke="#000" stroke-width="1.25"/>
<circle cx="307.38" cy="905.37" r="4.25" fill="#94bff2" stroke="#000" stroke-width="1.25"/>
<circle cx="314.92" cy="914.66" r="4.25" fill="#94bff2" stroke="#000" stroke-width="1.25"/>
<circle cx="300.17" cy="918.95" r="4.25" fill="#94bff2" stroke="#000" stroke-width="1.25"/>
<circle cx="300.17" cy="950.89" r="4.25" fill="#94bff2" stroke="#000" stroke-width="1.25"/>
<circle cx="373.35" cy="840.07" r="4.25" fill="#00b400" stroke="#000" stroke-width="1.25"/>
<circle cx="385.43" cy="845.53" r="4.25" fill="#00b400" stroke="#000" stroke-width="1.25"/>
<circle cx="397.04" cy="845.53" r="4.25" fill="#00b400" stroke="#000" stroke-width="1.25"/>
<circle cx="409.01" cy="839.49" r="4.25" fill="#00b400" stroke="#000" stroke-width="1.25"/>
<circle cx="420.97" cy="842.97" r="4.25" fill="#00b400" stroke="#000" stroke-width="1.25"/>
<circle cx="433.16" cy="840.65" r="4.25" fill="#00b400" stroke="#000" stroke-width="1.25"/>
<circle cx="385.43" cy="856.33" r="4.25" fill="#00b400" stroke="#000" stroke-width="1.25"/>
<circle cx="409.01" cy="857.84" r="4.25" fill="#00b400" stroke="#000" stroke-width="1.25"/>
<circle cx="420.97" cy="852.5" r="4.25" fill="#00b400" stroke="#000" stroke-width="1.25"/>
<circle cx="397.04" cy="876.07" r="4.25" fill="#00b400" stroke="#000" stroke-width="1.25"/>
<circle cx="409.01" cy="873.4" r="4.25" fill="#00b400" stroke="#000" stroke-width="1.25"/>
<circle cx="385.43" cy="902.44" r="4.25" fill="#00b400" stroke="#000" stroke-width="1.25"/>
<circle cx="409.01" cy="908.01" r="4.25" fill="#00b400" stroke="#000" stroke-width="1.25"/>
<circle cx="420.97" cy="904.76" r="4.25" fill="#00b400" stroke="#000" stroke-width="1.25"/>
<circle cx="397.04" cy="913.82" r="4.25" fill="#00b400" stroke="#000" stroke-width="1.25"/>
<circle cx="385.43" cy="923.11" r="4.25" fill="#00b400" stroke="#000" stroke-width="1.25"/>
<circle cx="409.01" cy="924.85" r="4.25" fill="#00b400" stroke="#000" stroke-width="1.25"/>
<circle cx="420.97" cy="926.6" r="4.25" fill="#00b400" stroke="#000" stroke-width="1.25"/>
<circle cx="397.04" cy="931.82" r="4.25" fill="#00b400" stroke="#000" stroke-width="1.25"/>
<circle cx="409.01" cy="937.05" r="4.25" fill="#00b400" stroke="#000" stroke-width="1.25"/>
<circle cx="403.2" cy="978.28" r="4.25" fill="#00b400" stroke="#000" stroke-width="1.25"/>
<circle cx="505.99" cy="811.96" r="4.25" fill="#0000f0" stroke="#000" stroke-width="1.25"/>
<circle cx="496.11" cy="830.43" r="4.25" fill="#0000f0" stroke="#000" stroke-width="1.25"/>
<circle cx="516.21" cy="836.59" r="4.25" fill="#0000f0" stroke="#000" stroke-width="1.25"/>
<circle cx="496.11" cy="840.07" r="4.25" fill="#0000f0" stroke="#000" stroke-width="1.25"/>
<circle cx="476.37" cy="850.17" r="4.25" fill="#0000f0" stroke="#000" stroke-width="1.25"/>
<circle cx="536.18" cy="849.01" r="4.25" fill="#0000f0" stroke="#000" stroke-width="1.25"/>
<circle cx="516.21" cy="856.1" r="4.25" fill="#0000f0" stroke="#000" stroke-width="1.25"/>
<circle cx="536.18" cy="858.65" r="4.25" fill="#0000f0" stroke="#000" stroke-width="1.25"/>
<circle cx="476.37" cy="860.16" r="4.25" fill="#0000f0" stroke="#000" stroke-width="1.25"/>
<circle cx="496.11" cy="861.32" r="4.25" fill="#0000f0" stroke="#000" stroke-width="1.25"/>
<circle cx="516.21" cy="866.43" r="4.25" fill="#0000f0" stroke="#000" stroke-width="1.25"/>
<circle cx="476.37" cy="873.98" r="4.25" fill="#0000f0" stroke="#000" stroke-width="1.25"/>
<circle cx="496.11" cy="873.17" r="4.25" fill="#0000f0" stroke="#000" stroke-width="1.25"/>
<circle cx="496.11" cy="882.69" r="4.25" fill="#0000f0" stroke="#000" stroke-width="1.25"/>
<circle cx="516.21" cy="881.3" r="4.25" fill="#0000f0" stroke="#000" stroke-width="1.25"/>
<circle cx="496.11" cy="894.08" r="4.25" fill="#0000f0" stroke="#000" stroke-width="1.25"/>
<circle cx="516.21" cy="900.46" r="4.25" fill="#0000f0" stroke="#000" stroke-width="1.25"/>
<circle cx="505.99" cy="916.14" r="4.25" fill="#0000f0" stroke="#000" stroke-width="1.25"/>
<circle cx="496.11" cy="940.3" r="4.25" fill="#0000f0" stroke="#000" stroke-width="1.25"/>
<circle cx="516.21" cy="938.44" r="4.25" fill="#0000f0" stroke="#000" stroke-width="1.25"/>
<circle cx="496.11" cy="967.48" r="4.25" fill="#0000f0" stroke="#000" stroke-width="1.25"/>
<circle cx="516.21" cy="966.09" r="4.25" fill="#0000f0" stroke="#000" stroke-width="1.25"/>
<text x="690" y="693" font-size="60" font-weight="bold" fill="#000">e</text>
<line x1="820" y1="705.4" x2="820" y2="1005.8" stroke="#000" stroke-width="2.6" stroke-linecap="butt"/>
<line x1="818.7" y1="1004.5" x2="1268.3" y2="1004.5" stroke="#000" stroke-width="2.6" stroke-linecap="butt"/>
<line x1="807" y1="1004.1" x2="820" y2="1004.1" stroke="#000" stroke-width="2.6" stroke-linecap="butt"/>
<text x="803.6" y="1012.5" font-size="23.5" font-weight="bold" text-anchor="end" fill="#000">0</text>
<line x1="807" y1="944.52" x2="820" y2="944.52" stroke="#000" stroke-width="2.6" stroke-linecap="butt"/>
<text x="803.6" y="952.92" font-size="23.5" font-weight="bold" text-anchor="end" fill="#000">50</text>
<line x1="807" y1="884.94" x2="820" y2="884.94" stroke="#000" stroke-width="2.6" stroke-linecap="butt"/>
<text x="803.6" y="893.34" font-size="23.5" font-weight="bold" text-anchor="end" fill="#000">100</text>
<line x1="807" y1="825.36" x2="820" y2="825.36" stroke="#000" stroke-width="2.6" stroke-linecap="butt"/>
<text x="803.6" y="833.76" font-size="23.5" font-weight="bold" text-anchor="end" fill="#000">150</text>
<line x1="807" y1="765.78" x2="820" y2="765.78" stroke="#000" stroke-width="2.6" stroke-linecap="butt"/>
<text x="803.6" y="774.18" font-size="23.5" font-weight="bold" text-anchor="end" fill="#000">200</text>
<line x1="807" y1="706.2" x2="820" y2="706.2" stroke="#000" stroke-width="2.6" stroke-linecap="butt"/>
<text x="803.6" y="714.6" font-size="23.5" font-weight="bold" text-anchor="end" fill="#000">250</text>
<text transform="translate(742.5 854) rotate(-90)" font-size="24.9" font-weight="bold" text-anchor="middle" fill="#000">Observed ASVs</text>
<line x1="888.8" y1="1004.5" x2="888.8" y2="1017.1" stroke="#000" stroke-width="2.6" stroke-linecap="butt"/>
<text transform="translate(897.1 1020.3) rotate(-90)" font-size="23" font-weight="bold" text-anchor="end" fill="#000">Foremilk</text>
<line x1="991.6" y1="1004.5" x2="991.6" y2="1017.1" stroke="#000" stroke-width="2.6" stroke-linecap="butt"/>
<text transform="translate(999.9 1020.3) rotate(-90)" font-size="23" font-weight="bold" text-anchor="end" fill="#000">Hindmilk</text>
<line x1="1094.7" y1="1004.5" x2="1094.7" y2="1017.1" stroke="#000" stroke-width="2.6" stroke-linecap="butt"/>
<text transform="translate(1103 1020.3) rotate(-90)" font-size="23" font-weight="bold" text-anchor="end" fill="#000">Foremilk</text>
<line x1="1197.7" y1="1004.5" x2="1197.7" y2="1017.1" stroke="#000" stroke-width="2.6" stroke-linecap="butt"/>
<text transform="translate(1206 1020.3) rotate(-90)" font-size="23" font-weight="bold" text-anchor="end" fill="#000">Hindmilk</text>
<line x1="861" y1="1127.8" x2="1016.1" y2="1127.8" stroke="#000" stroke-width="2.6" stroke-linecap="butt"/>
<line x1="1070.5" y1="1127.8" x2="1225.2" y2="1127.8" stroke="#000" stroke-width="2.6" stroke-linecap="butt"/>
<text x="942.9" y="1157.4" font-size="24.4" text-anchor="middle" fill="#000">5 months</text>
<text x="1144.3" y="1157.4" font-size="24.4" text-anchor="middle" fill="#000">9 months</text>
<polyline points="885.4,787 885.4,774.1 990.3,774.1 990.3,787" fill="none" stroke="#000" stroke-width="2.6" stroke-linejoin="miter" stroke-linecap="butt"/>
<text x="932.8" y="766.1" font-size="23" text-anchor="middle" fill="#000">ns</text>
<polyline points="1094.5,753.2 1094.5,740.3 1199.4,740.3 1199.4,753.2" fill="none" stroke="#000" stroke-width="2.6" stroke-linejoin="miter" stroke-linecap="butt"/>
<text x="1142.6" y="731.3" font-size="23" text-anchor="middle" fill="#000">ns</text>
<line x1="888.8" y1="868.3" x2="888.8" y2="879" stroke="#000" stroke-width="2.6" stroke-linecap="butt"/>
<line x1="888.8" y1="919" x2="888.8" y2="944" stroke="#000" stroke-width="2.6" stroke-linecap="butt"/>
<line x1="872" y1="868.3" x2="905.6" y2="868.3" stroke="#000" stroke-width="2.6" stroke-linecap="butt"/>
<line x1="872" y1="944" x2="905.6" y2="944" stroke="#000" stroke-width="2.6" stroke-linecap="butt"/>
<rect x="855.9" y="879" width="65.8" height="40" fill="none" stroke="#000" stroke-width="2.6"/>
<line x1="855.9" y1="897" x2="921.7" y2="897" stroke="#000" stroke-width="2.6" stroke-linecap="butt"/>
<line x1="991.6" y1="823.2" x2="991.6" y2="881.9" stroke="#000" stroke-width="2.6" stroke-linecap="butt"/>
<line x1="991.6" y1="915" x2="991.6" y2="931.8" stroke="#000" stroke-width="2.6" stroke-linecap="butt"/>
<line x1="974.8" y1="823.2" x2="1008.4" y2="823.2" stroke="#000" stroke-width="2.6" stroke-linecap="butt"/>
<line x1="974.8" y1="931.8" x2="1008.4" y2="931.8" stroke="#000" stroke-width="2.6" stroke-linecap="butt"/>
<rect x="959.1" y="881.9" width="65" height="33.1" fill="none" stroke="#000" stroke-width="2.6"/>
<line x1="959.1" y1="901.3" x2="1024.1" y2="901.3" stroke="#000" stroke-width="2.6" stroke-linecap="butt"/>
<line x1="1094.7" y1="816.2" x2="1094.7" y2="837.7" stroke="#000" stroke-width="2.6" stroke-linecap="butt"/>
<line x1="1094.7" y1="901.4" x2="1094.7" y2="948.4" stroke="#000" stroke-width="2.6" stroke-linecap="butt"/>
<line x1="1077.9" y1="816.2" x2="1111.5" y2="816.2" stroke="#000" stroke-width="2.6" stroke-linecap="butt"/>
<line x1="1077.9" y1="948.4" x2="1111.5" y2="948.4" stroke="#000" stroke-width="2.6" stroke-linecap="butt"/>
<rect x="1061.9" y="837.7" width="65.6" height="63.7" fill="none" stroke="#000" stroke-width="2.6"/>
<line x1="1061.9" y1="867.3" x2="1127.5" y2="867.3" stroke="#000" stroke-width="2.6" stroke-linecap="butt"/>
<line x1="1197.7" y1="794.5" x2="1197.7" y2="827" stroke="#000" stroke-width="2.6" stroke-linecap="butt"/>
<line x1="1197.7" y1="886.3" x2="1197.7" y2="931.6" stroke="#000" stroke-width="2.6" stroke-linecap="butt"/>
<line x1="1180.9" y1="794.5" x2="1214.5" y2="794.5" stroke="#000" stroke-width="2.6" stroke-linecap="butt"/>
<line x1="1180.9" y1="931.6" x2="1214.5" y2="931.6" stroke="#000" stroke-width="2.6" stroke-linecap="butt"/>
<rect x="1164.8" y="827" width="65.8" height="59.3" fill="none" stroke="#000" stroke-width="2.6"/>
<line x1="1164.8" y1="862.2" x2="1230.6" y2="862.2" stroke="#000" stroke-width="2.6" stroke-linecap="butt"/>
<circle cx="858.94" cy="869.69" r="4.25" fill="#a2f5a2" stroke="#000" stroke-width="1.25"/>
<circle cx="888.79" cy="868.29" r="4.25" fill="#a2f5a2" stroke="#000" stroke-width="1.25"/>
<circle cx="918.75" cy="870.62" r="4.25" fill="#a2f5a2" stroke="#000" stroke-width="1.25"/>
<circle cx="873.8" cy="875.49" r="4.25" fill="#a2f5a2" stroke="#000" stroke-width="1.25"/>
<circle cx="903.65" cy="873.17" r="4.25" fill="#a2f5a2" stroke="#000" stroke-width="1.25"/>
<circle cx="858.94" cy="879.21" r="4.25" fill="#a2f5a2" stroke="#000" stroke-width="1.25"/>
<circle cx="888.79" cy="878.16" r="4.25" fill="#a2f5a2" stroke="#000" stroke-width="1.25"/>
<circle cx="903.65" cy="885.13" r="4.25" fill="#a2f5a2" stroke="#000" stroke-width="1.25"/>
<circle cx="873.8" cy="892.1" r="4.25" fill="#a2f5a2" stroke="#000" stroke-width="1.25"/>
<circle cx="888.79" cy="889.78" r="4.25" fill="#a2f5a2" stroke="#000" stroke-width="1.25"/>
<circle cx="903.65" cy="894.66" r="4.25" fill="#a2f5a2" stroke="#000" stroke-width="1.25"/>
<circle cx="888.79" cy="899.65" r="4.25" fill="#a2f5a2" stroke="#000" stroke-width="1.25"/>
<circle cx="873.8" cy="904.3" r="4.25" fill="#a2f5a2" stroke="#000" stroke-width="1.25"/>
<circle cx="888.79" cy="909.18" r="4.25" fill="#a2f5a2" stroke="#000" stroke-width="1.25"/>
<circle cx="903.65" cy="909.18" r="4.25" fill="#a2f5a2" stroke="#000" stroke-width="1.25"/>
<circle cx="873.8" cy="914.75" r="4.25" fill="#a2f5a2" stroke="#000" stroke-width="1.25"/>
<circle cx="888.79" cy="919.63" r="4.25" fill="#a2f5a2" stroke="#000" stroke-width="1.25"/>
<circle cx="903.65" cy="923.11" r="4.25" fill="#a2f5a2" stroke="#000" stroke-width="1.25"/>
<circle cx="873.8" cy="926.83" r="4.25" fill="#a2f5a2" stroke="#000" stroke-width="1.25"/>
<circle cx="888.79" cy="929.27" r="4.25" fill="#a2f5a2" stroke="#000" stroke-width="1.25"/>
<circle cx="903.65" cy="935.31" r="4.25" fill="#a2f5a2" stroke="#000" stroke-width="1.25"/>
<circle cx="873.8" cy="943.79" r="4.25" fill="#a2f5a2" stroke="#000" stroke-width="1.25"/>
<circle cx="991.57" cy="822.88" r="4.25" fill="#94bff2" stroke="#000" stroke-width="1.25"/>
<circle cx="991.57" cy="863.65" r="4.25" fill="#94bff2" stroke="#000" stroke-width="1.25"/>
<circle cx="962.07" cy="876.42" r="4.25" fill="#94bff2" stroke="#000" stroke-width="1.25"/>
<circle cx="973.69" cy="881.65" r="4.25" fill="#94bff2" stroke="#000" stroke-width="1.25"/>
<circle cx="985.53" cy="881.65" r="4.25" fill="#94bff2" stroke="#000" stroke-width="1.25"/>
<circle cx="997.38" cy="880.14" r="4.25" fill="#94bff2" stroke="#000" stroke-width="1.25"/>
<circle cx="1009.34" cy="878.98" r="4.25" fill="#94bff2" stroke="#000" stroke-width="1.25"/>
<circle cx="1021.31" cy="875.49" r="4.25" fill="#94bff2" stroke="#000" stroke-width="1.25"/>
<circle cx="962.07" cy="892.33" r="4.25" fill="#94bff2" stroke="#000" stroke-width="1.25"/>
<circle cx="1021.31" cy="896.98" r="4.25" fill="#94bff2" stroke="#000" stroke-width="1.25"/>
<circle cx="962.07" cy="901.97" r="4.25" fill="#94bff2" stroke="#000" stroke-width="1.25"/>
<circle cx="973.69" cy="904.53" r="4.25" fill="#94bff2" stroke="#000" stroke-width="1.25"/>
<circle cx="985.53" cy="905.46" r="4.25" fill="#94bff2" stroke="#000" stroke-width="1.25"/>
<circle cx="997.38" cy="902.79" r="4.25" fill="#94bff2" stroke="#000" stroke-width="1.25"/>
<circle cx="1009.34" cy="902.79" r="4.25" fill="#94bff2" stroke="#000" stroke-width="1.25"/>
<circle cx="973.69" cy="918.7" r="4.25" fill="#94bff2" stroke="#000" stroke-width="1.25"/>
<circle cx="997.38" cy="918.23" r="4.25" fill="#94bff2" stroke="#000" stroke-width="1.25"/>
<circle cx="1009.34" cy="914.98" r="4.25" fill="#94bff2" stroke="#000" stroke-width="1.25"/>
<circle cx="997.38" cy="927.99" r="4.25" fill="#94bff2" stroke="#000" stroke-width="1.25"/>
<circle cx="1009.34" cy="926.02" r="4.25" fill="#94bff2" stroke="#000" stroke-width="1.25"/>
<circle cx="973.69" cy="931.82" r="4.25" fill="#94bff2" stroke="#000" stroke-width="1.25"/>
<circle cx="1094.72" cy="816" r="4.25" fill="#00b400" stroke="#000" stroke-width="1.25"/>
<circle cx="1112.95" cy="822.04" r="4.25" fill="#00b400" stroke="#000" stroke-width="1.25"/>
<circle cx="1076.48" cy="827.85" r="4.25" fill="#00b400" stroke="#000" stroke-width="1.25"/>
<circle cx="1094.72" cy="827.85" r="4.25" fill="#00b400" stroke="#000" stroke-width="1.25"/>
<circle cx="1112.95" cy="833.77" r="4.25" fill="#00b400" stroke="#000" stroke-width="1.25"/>
<circle cx="1076.48" cy="838.89" r="4.25" fill="#00b400" stroke="#000" stroke-width="1.25"/>
<circle cx="1094.72" cy="838.89" r="4.25" fill="#00b400" stroke="#000" stroke-width="1.25"/>
<circle cx="1112.95" cy="844.69" r="4.25" fill="#00b400" stroke="#000" stroke-width="1.25"/>
<circle cx="1094.72" cy="852.01" r="4.25" fill="#00b400" stroke="#000" stroke-width="1.25"/>
<circle cx="1076.48" cy="867.11" r="4.25" fill="#00b400" stroke="#000" stroke-width="1.25"/>
<circle cx="1094.72" cy="867.34" r="4.25" fill="#00b400" stroke="#000" stroke-width="1.25"/>
<circle cx="1112.95" cy="863.39" r="4.25" fill="#00b400" stroke="#000" stroke-width="1.25"/>
<circle cx="1094.72" cy="876.98" r="4.25" fill="#00b400" stroke="#000" stroke-width="1.25"/>
<circle cx="1112.95" cy="889.76" r="4.25" fill="#00b400" stroke="#000" stroke-width="1.25"/>
<circle cx="1076.48" cy="895.91" r="4.25" fill="#00b400" stroke="#000" stroke-width="1.25"/>
<circle cx="1112.95" cy="900.79" r="4.25" fill="#00b400" stroke="#000" stroke-width="1.25"/>
<circle cx="1094.72" cy="905.67" r="4.25" fill="#00b400" stroke="#000" stroke-width="1.25"/>
<circle cx="1076.48" cy="917.4" r="4.25" fill="#00b400" stroke="#000" stroke-width="1.25"/>
<circle cx="1112.95" cy="920.88" r="4.25" fill="#00b400" stroke="#000" stroke-width="1.25"/>
<circle cx="1094.72" cy="928.32" r="4.25" fill="#00b400" stroke="#000" stroke-width="1.25"/>
<circle cx="1094.72" cy="948.41" r="4.25" fill="#00b400" stroke="#000" stroke-width="1.25"/>
<circle cx="1167.89" cy="794.52" r="4.25" fill="#0000f0" stroke="#000" stroke-width="1.25"/>
<circle cx="1187.63" cy="803" r="4.25" fill="#0000f0" stroke="#000" stroke-width="1.25"/>
<circle cx="1207.38" cy="803" r="4.25" fill="#0000f0" stroke="#000" stroke-width="1.25"/>
<circle cx="1167.89" cy="824.13" r="4.25" fill="#0000f0" stroke="#000" stroke-width="1.25"/>
<circle cx="1187.63" cy="825.3" r="4.25" fill="#0000f0" stroke="#000" stroke-width="1.25"/>
<circle cx="1207.38" cy="825.3" r="4.25" fill="#0000f0" stroke="#000" stroke-width="1.25"/>
<circle cx="1227.47" cy="830.29" r="4.25" fill="#0000f0" stroke="#000" stroke-width="1.25"/>
<circle cx="1187.63" cy="835.52" r="4.25" fill="#0000f0" stroke="#000" stroke-width="1.25"/>
<circle cx="1207.38" cy="840.05" r="4.25" fill="#0000f0" stroke="#000" stroke-width="1.25"/>
<circle cx="1207.38" cy="852.94" r="4.25" fill="#0000f0" stroke="#000" stroke-width="1.25"/>
<circle cx="1187.63" cy="856.66" r="4.25" fill="#0000f0" stroke="#000" stroke-width="1.25"/>
<circle cx="1167.89" cy="867.34" r="4.25" fill="#0000f0" stroke="#000" stroke-width="1.25"/>
<circle cx="1187.63" cy="868.85" r="4.25" fill="#0000f0" stroke="#000" stroke-width="1.25"/>
<circle cx="1207.38" cy="868.85" r="4.25" fill="#0000f0" stroke="#000" stroke-width="1.25"/>
<circle cx="1207.38" cy="878.14" r="4.25" fill="#0000f0" stroke="#000" stroke-width="1.25"/>
<circle cx="1167.89" cy="885.11" r="4.25" fill="#0000f0" stroke="#000" stroke-width="1.25"/>
<circle cx="1187.63" cy="890.1" r="4.25" fill="#0000f0" stroke="#000" stroke-width="1.25"/>
<circle cx="1207.38" cy="887.78" r="4.25" fill="#0000f0" stroke="#000" stroke-width="1.25"/>
<circle cx="1197.5" cy="904.51" r="4.25" fill="#0000f0" stroke="#000" stroke-width="1.25"/>
<circle cx="1197.5" cy="923.44" r="4.25" fill="#0000f0" stroke="#000" stroke-width="1.25"/>
<circle cx="1217.25" cy="926.92" r="4.25" fill="#0000f0" stroke="#000" stroke-width="1.25"/>
<circle cx="1177.76" cy="931.57" r="4.25" fill="#0000f0" stroke="#000" stroke-width="1.25"/>
<text x="1361.5" y="692.2" font-size="60" font-weight="bold" fill="#000">f</text>
<line x1="1453.5" y1="705.2" x2="1453.5" y2="1005.4" stroke="#000" stroke-width="2.6" stroke-linecap="butt"/>
<line x1="1452.2" y1="1004.1" x2="1902.2" y2="1004.1" stroke="#000" stroke-width="2.6" stroke-linecap="butt"/>
<line x1="1440.5" y1="1004.1" x2="1453.5" y2="1004.1" stroke="#000" stroke-width="2.6" stroke-linecap="butt"/>
<text x="1437.4" y="1012.5" font-size="23.5" font-weight="bold" text-anchor="end" fill="#000">0.0</text>
<line x1="1440.5" y1="897.85" x2="1453.5" y2="897.85" stroke="#000" stroke-width="2.6" stroke-linecap="butt"/>
<text x="1437.4" y="906.25" font-size="23.5" font-weight="bold" text-anchor="end" fill="#000">0.5</text>
<line x1="1440.5" y1="791.6" x2="1453.5" y2="791.6" stroke="#000" stroke-width="2.6" stroke-linecap="butt"/>
<text x="1437.4" y="800" font-size="23.5" font-weight="bold" text-anchor="end" fill="#000">1.0</text>
<text transform="translate(1384.7 855) rotate(-90)" font-size="24.9" font-weight="bold" text-anchor="middle" fill="#000">Evenness</text>
<line x1="1522.4" y1="1004.1" x2="1522.4" y2="1016.7" stroke="#000" stroke-width="2.6" stroke-linecap="butt"/>
<text transform="translate(1530.7 1020.3) rotate(-90)" font-size="23" font-weight="bold" text-anchor="end" fill="#000">Foremilk</text>
<line x1="1625.5" y1="1004.1" x2="1625.5" y2="1016.7" stroke="#000" stroke-width="2.6" stroke-linecap="butt"/>
<text transform="translate(1633.8 1020.3) rotate(-90)" font-size="23" font-weight="bold" text-anchor="end" fill="#000">Hindmilk</text>
<line x1="1728.7" y1="1004.1" x2="1728.7" y2="1016.7" stroke="#000" stroke-width="2.6" stroke-linecap="butt"/>
<text transform="translate(1737 1020.3) rotate(-90)" font-size="23" font-weight="bold" text-anchor="end" fill="#000">Foremilk</text>
<line x1="1831.7" y1="1004.1" x2="1831.7" y2="1016.7" stroke="#000" stroke-width="2.6" stroke-linecap="butt"/>
<text transform="translate(1840 1020.3) rotate(-90)" font-size="23" font-weight="bold" text-anchor="end" fill="#000">Hindmilk</text>
<line x1="1491.6" y1="1132.8" x2="1646.7" y2="1132.8" stroke="#000" stroke-width="2.6" stroke-linecap="butt"/>
<line x1="1704.1" y1="1132.8" x2="1859.9" y2="1132.8" stroke="#000" stroke-width="2.6" stroke-linecap="butt"/>
<text x="1572.6" y="1161.7" font-size="24.4" text-anchor="middle" fill="#000">5 months</text>
<text x="1778.8" y="1161.7" font-size="24.4" text-anchor="middle" fill="#000">9 months</text>
<polyline points="1518.7,819.8 1518.7,806.4 1624.5,806.4 1624.5,819.8" fill="none" stroke="#000" stroke-width="2.6" stroke-linejoin="miter" stroke-linecap="butt"/>
<text x="1572.6" y="800.8" font-size="24" font-weight="bold" text-anchor="middle" fill="#000">*</text>
<polyline points="1726.7,805.7 1726.7,792.3 1832.4,792.3 1832.4,805.7" fill="none" stroke="#000" stroke-width="2.6" stroke-linejoin="miter" stroke-linecap="butt"/>
<text x="1778.8" y="783.8" font-size="23" text-anchor="middle" fill="#000">ns</text>
<line x1="1522.4" y1="867.5" x2="1522.4" y2="890.5" stroke="#000" stroke-width="2.6" stroke-linecap="butt"/>
<line x1="1522.4" y1="918.4" x2="1522.4" y2="982.9" stroke="#000" stroke-width="2.6" stroke-linecap="butt"/>
<line x1="1505.6" y1="867.5" x2="1539.2" y2="867.5" stroke="#000" stroke-width="2.6" stroke-linecap="butt"/>
<line x1="1505.6" y1="982.9" x2="1539.2" y2="982.9" stroke="#000" stroke-width="2.6" stroke-linecap="butt"/>
<rect x="1489.4" y="890.5" width="66" height="27.9" fill="none" stroke="#000" stroke-width="2.6"/>
<line x1="1489.4" y1="897.3" x2="1555.4" y2="897.3" stroke="#000" stroke-width="2.6" stroke-linecap="butt"/>
<line x1="1625.5" y1="861.8" x2="1625.5" y2="880.6" stroke="#000" stroke-width="2.6" stroke-linecap="butt"/>
<line x1="1625.5" y1="905.6" x2="1625.5" y2="953.2" stroke="#000" stroke-width="2.6" stroke-linecap="butt"/>
<line x1="1608.7" y1="861.8" x2="1642.3" y2="861.8" stroke="#000" stroke-width="2.6" stroke-linecap="butt"/>
<line x1="1608.7" y1="953.2" x2="1642.3" y2="953.2" stroke="#000" stroke-width="2.6" stroke-linecap="butt"/>
<rect x="1592.5" y="880.6" width="66" height="25" fill="none" stroke="#000" stroke-width="2.6"/>
<line x1="1592.5" y1="886.5" x2="1658.5" y2="886.5" stroke="#000" stroke-width="2.6" stroke-linecap="butt"/>
<line x1="1728.7" y1="872.5" x2="1728.7" y2="877.7" stroke="#000" stroke-width="2.6" stroke-linecap="butt"/>
<line x1="1728.7" y1="932.1" x2="1728.7" y2="980" stroke="#000" stroke-width="2.6" stroke-linecap="butt"/>
<line x1="1711.9" y1="872.5" x2="1745.5" y2="872.5" stroke="#000" stroke-width="2.6" stroke-linecap="butt"/>
<line x1="1711.9" y1="980" x2="1745.5" y2="980" stroke="#000" stroke-width="2.6" stroke-linecap="butt"/>
<rect x="1695.8" y="877.7" width="65.8" height="54.4" fill="none" stroke="#000" stroke-width="2.6"/>
<line x1="1695.8" y1="897.3" x2="1761.6" y2="897.3" stroke="#000" stroke-width="2.6" stroke-linecap="butt"/>
<line x1="1831.7" y1="852.2" x2="1831.7" y2="880.9" stroke="#000" stroke-width="2.6" stroke-linecap="butt"/>
<line x1="1831.7" y1="914.3" x2="1831.7" y2="969.8" stroke="#000" stroke-width="2.6" stroke-linecap="butt"/>
<line x1="1814.9" y1="852.2" x2="1848.5" y2="852.2" stroke="#000" stroke-width="2.6" stroke-linecap="butt"/>
<line x1="1814.9" y1="969.8" x2="1848.5" y2="969.8" stroke="#000" stroke-width="2.6" stroke-linecap="butt"/>
<rect x="1798.95" y="880.9" width="65.5" height="33.4" fill="none" stroke="#000" stroke-width="2.6"/>
<line x1="1798.95" y1="891.1" x2="1864.45" y2="891.1" stroke="#000" stroke-width="2.6" stroke-linecap="butt"/>
<circle cx="1522.39" cy="867.53" r="4.25" fill="#a2f5a2" stroke="#000" stroke-width="1.25"/>
<circle cx="1512.52" cy="874.84" r="4.25" fill="#a2f5a2" stroke="#000" stroke-width="1.25"/>
<circle cx="1532.26" cy="871.13" r="4.25" fill="#a2f5a2" stroke="#000" stroke-width="1.25"/>
<circle cx="1532.26" cy="882.74" r="4.25" fill="#a2f5a2" stroke="#000" stroke-width="1.25"/>
<circle cx="1542.37" cy="889.71" r="4.25" fill="#a2f5a2" stroke="#000" stroke-width="1.25"/>
<circle cx="1552.24" cy="887.04" r="4.25" fill="#a2f5a2" stroke="#000" stroke-width="1.25"/>
<circle cx="1492.54" cy="893.08" r="4.25" fill="#a2f5a2" stroke="#000" stroke-width="1.25"/>
<circle cx="1502.42" cy="895.75" r="4.25" fill="#a2f5a2" stroke="#000" stroke-width="1.25"/>
<circle cx="1512.52" cy="894.01" r="4.25" fill="#a2f5a2" stroke="#000" stroke-width="1.25"/>
<circle cx="1522.39" cy="894.01" r="4.25" fill="#a2f5a2" stroke="#000" stroke-width="1.25"/>
<circle cx="1532.26" cy="893.08" r="4.25" fill="#a2f5a2" stroke="#000" stroke-width="1.25"/>
<circle cx="1552.24" cy="898.65" r="4.25" fill="#a2f5a2" stroke="#000" stroke-width="1.25"/>
<circle cx="1502.42" cy="912.01" r="4.25" fill="#a2f5a2" stroke="#000" stroke-width="1.25"/>
<circle cx="1512.52" cy="916.66" r="4.25" fill="#a2f5a2" stroke="#000" stroke-width="1.25"/>
<circle cx="1522.39" cy="915.26" r="4.25" fill="#a2f5a2" stroke="#000" stroke-width="1.25"/>
<circle cx="1532.26" cy="917.24" r="4.25" fill="#a2f5a2" stroke="#000" stroke-width="1.25"/>
<circle cx="1542.37" cy="914.33" r="4.25" fill="#a2f5a2" stroke="#000" stroke-width="1.25"/>
<circle cx="1522.39" cy="925.95" r="4.25" fill="#a2f5a2" stroke="#000" stroke-width="1.25"/>
<circle cx="1522.39" cy="935.24" r="4.25" fill="#a2f5a2" stroke="#000" stroke-width="1.25"/>
<circle cx="1517.17" cy="959.86" r="4.25" fill="#a2f5a2" stroke="#000" stroke-width="1.25"/>
<circle cx="1527.39" cy="961.72" r="4.25" fill="#a2f5a2" stroke="#000" stroke-width="1.25"/>
<circle cx="1522.39" cy="982.86" r="4.25" fill="#a2f5a2" stroke="#000" stroke-width="1.25"/>
<circle cx="1620.3" cy="861.84" r="4.25" fill="#94bff2" stroke="#000" stroke-width="1.25"/>
<circle cx="1630.41" cy="861.84" r="4.25" fill="#94bff2" stroke="#000" stroke-width="1.25"/>
<circle cx="1595.56" cy="879.49" r="4.25" fill="#94bff2" stroke="#000" stroke-width="1.25"/>
<circle cx="1605.44" cy="877.17" r="4.25" fill="#94bff2" stroke="#000" stroke-width="1.25"/>
<circle cx="1625.53" cy="879.49" r="4.25" fill="#94bff2" stroke="#000" stroke-width="1.25"/>
<circle cx="1635.4" cy="874.61" r="4.25" fill="#94bff2" stroke="#000" stroke-width="1.25"/>
<circle cx="1645.27" cy="878.33" r="4.25" fill="#94bff2" stroke="#000" stroke-width="1.25"/>
<circle cx="1655.38" cy="879.49" r="4.25" fill="#94bff2" stroke="#000" stroke-width="1.25"/>
<circle cx="1605.44" cy="887.04" r="4.25" fill="#94bff2" stroke="#000" stroke-width="1.25"/>
<circle cx="1615.31" cy="885.88" r="4.25" fill="#94bff2" stroke="#000" stroke-width="1.25"/>
<circle cx="1635.4" cy="884.72" r="4.25" fill="#94bff2" stroke="#000" stroke-width="1.25"/>
<circle cx="1645.27" cy="888.78" r="4.25" fill="#94bff2" stroke="#000" stroke-width="1.25"/>
<circle cx="1625.53" cy="890.52" r="4.25" fill="#94bff2" stroke="#000" stroke-width="1.25"/>
<circle cx="1615.31" cy="902.14" r="4.25" fill="#94bff2" stroke="#000" stroke-width="1.25"/>
<circle cx="1625.53" cy="899.81" r="4.25" fill="#94bff2" stroke="#000" stroke-width="1.25"/>
<circle cx="1635.4" cy="899.47" r="4.25" fill="#94bff2" stroke="#000" stroke-width="1.25"/>
<circle cx="1635.4" cy="912.24" r="4.25" fill="#94bff2" stroke="#000" stroke-width="1.25"/>
<circle cx="1625.53" cy="915.49" r="4.25" fill="#94bff2" stroke="#000" stroke-width="1.25"/>
<circle cx="1635.4" cy="922.69" r="4.25" fill="#94bff2" stroke="#000" stroke-width="1.25"/>
<circle cx="1625.53" cy="928.27" r="4.25" fill="#94bff2" stroke="#000" stroke-width="1.25"/>
<circle cx="1625.53" cy="953.24" r="4.25" fill="#94bff2" stroke="#000" stroke-width="1.25"/>
<circle cx="1698.71" cy="875.42" r="4.25" fill="#00b400" stroke="#000" stroke-width="1.25"/>
<circle cx="1708.58" cy="874.61" r="4.25" fill="#00b400" stroke="#000" stroke-width="1.25"/>
<circle cx="1728.68" cy="873.68" r="4.25" fill="#00b400" stroke="#000" stroke-width="1.25"/>
<circle cx="1738.55" cy="872.52" r="4.25" fill="#00b400" stroke="#000" stroke-width="1.25"/>
<circle cx="1748.42" cy="877.4" r="4.25" fill="#00b400" stroke="#000" stroke-width="1.25"/>
<circle cx="1758.52" cy="875.42" r="4.25" fill="#00b400" stroke="#000" stroke-width="1.25"/>
<circle cx="1718.46" cy="880.65" r="4.25" fill="#00b400" stroke="#000" stroke-width="1.25"/>
<circle cx="1738.55" cy="882.04" r="4.25" fill="#00b400" stroke="#000" stroke-width="1.25"/>
<circle cx="1708.58" cy="886.23" r="4.25" fill="#00b400" stroke="#000" stroke-width="1.25"/>
<circle cx="1728.68" cy="889.36" r="4.25" fill="#00b400" stroke="#000" stroke-width="1.25"/>
<circle cx="1718.46" cy="897.14" r="4.25" fill="#00b400" stroke="#000" stroke-width="1.25"/>
<circle cx="1718.46" cy="909.11" r="4.25" fill="#00b400" stroke="#000" stroke-width="1.25"/>
<circle cx="1738.55" cy="911.08" r="4.25" fill="#00b400" stroke="#000" stroke-width="1.25"/>
<circle cx="1728.68" cy="916.07" r="4.25" fill="#00b400" stroke="#000" stroke-width="1.25"/>
<circle cx="1718.46" cy="925.71" r="4.25" fill="#00b400" stroke="#000" stroke-width="1.25"/>
<circle cx="1728.68" cy="931.52" r="4.25" fill="#00b400" stroke="#000" stroke-width="1.25"/>
<circle cx="1738.55" cy="935.82" r="4.25" fill="#00b400" stroke="#000" stroke-width="1.25"/>
<circle cx="1708.58" cy="939.88" r="4.25" fill="#00b400" stroke="#000" stroke-width="1.25"/>
<circle cx="1728.68" cy="943.72" r="4.25" fill="#00b400" stroke="#000" stroke-width="1.25"/>
<circle cx="1748.42" cy="941.39" r="4.25" fill="#00b400" stroke="#000" stroke-width="1.25"/>
<circle cx="1728.68" cy="979.95" r="4.25" fill="#00b400" stroke="#000" stroke-width="1.25"/>
<circle cx="1831.7" cy="852.2" r="4.25" fill="#0000f0" stroke="#000" stroke-width="1.25"/>
<circle cx="1831.7" cy="866.95" r="4.25" fill="#0000f0" stroke="#000" stroke-width="1.25"/>
<circle cx="1816.95" cy="869.97" r="4.25" fill="#0000f0" stroke="#000" stroke-width="1.25"/>
<circle cx="1846.79" cy="874.26" r="4.25" fill="#0000f0" stroke="#000" stroke-width="1.25"/>
<circle cx="1801.85" cy="881.81" r="4.25" fill="#0000f0" stroke="#000" stroke-width="1.25"/>
<circle cx="1816.95" cy="880.07" r="4.25" fill="#0000f0" stroke="#000" stroke-width="1.25"/>
<circle cx="1831.7" cy="879.26" r="4.25" fill="#0000f0" stroke="#000" stroke-width="1.25"/>
<circle cx="1861.66" cy="879.49" r="4.25" fill="#0000f0" stroke="#000" stroke-width="1.25"/>
<circle cx="1846.79" cy="887.62" r="4.25" fill="#0000f0" stroke="#000" stroke-width="1.25"/>
<circle cx="1801.85" cy="892.03" r="4.25" fill="#0000f0" stroke="#000" stroke-width="1.25"/>
<circle cx="1816.95" cy="891.1" r="4.25" fill="#0000f0" stroke="#000" stroke-width="1.25"/>
<circle cx="1861.66" cy="891.1" r="4.25" fill="#0000f0" stroke="#000" stroke-width="1.25"/>
<circle cx="1846.79" cy="898.07" r="4.25" fill="#0000f0" stroke="#000" stroke-width="1.25"/>
<circle cx="1831.7" cy="899.81" r="4.25" fill="#0000f0" stroke="#000" stroke-width="1.25"/>
<circle cx="1801.85" cy="905.97" r="4.25" fill="#0000f0" stroke="#000" stroke-width="1.25"/>
<circle cx="1816.95" cy="905.62" r="4.25" fill="#0000f0" stroke="#000" stroke-width="1.25"/>
<circle cx="1831.7" cy="910.85" r="4.25" fill="#0000f0" stroke="#000" stroke-width="1.25"/>
<circle cx="1831.7" cy="931.99" r="4.25" fill="#0000f0" stroke="#000" stroke-width="1.25"/>
<circle cx="1824.15" cy="950.57" r="4.25" fill="#0000f0" stroke="#000" stroke-width="1.25"/>
<circle cx="1839.25" cy="948.94" r="4.25" fill="#0000f0" stroke="#000" stroke-width="1.25"/>
<circle cx="1824.15" cy="969.85" r="4.25" fill="#0000f0" stroke="#000" stroke-width="1.25"/>
<circle cx="1839.25" cy="967.18" r="4.25" fill="#0000f0" stroke="#000" stroke-width="1.25"/>
<text x="-3" y="1287.6" font-size="60" font-weight="bold" fill="#000">g</text>
<line x1="349.7" y1="1296" x2="349.7" y2="1771.9" stroke="#222" stroke-width="1.5" stroke-linecap="butt" stroke-dasharray="1.6 2.6"/>
<line x1="130" y1="1486.6" x2="784" y2="1486.6" stroke="#222" stroke-width="1.5" stroke-linecap="butt" stroke-dasharray="1.6 2.6"/>
<line x1="130" y1="1295" x2="130" y2="1773" stroke="#000" stroke-width="2.3" stroke-linecap="butt"/>
<line x1="128.9" y1="1771.9" x2="792" y2="1771.9" stroke="#000" stroke-width="2.3" stroke-linecap="butt"/>
<line x1="122.5" y1="1296.36" x2="130" y2="1296.36" stroke="#000" stroke-width="2.3" stroke-linecap="butt"/>
<text x="118.5" y="1304.96" font-size="24" text-anchor="end" fill="#000">0.4</text>
<line x1="122.5" y1="1391.48" x2="130" y2="1391.48" stroke="#000" stroke-width="2.3" stroke-linecap="butt"/>
<text x="118.5" y="1400.08" font-size="24" text-anchor="end" fill="#000">0.2</text>
<line x1="122.5" y1="1486.6" x2="130" y2="1486.6" stroke="#000" stroke-width="2.3" stroke-linecap="butt"/>
<text x="118.5" y="1495.2" font-size="24" text-anchor="end" fill="#000">0.0</text>
<line x1="122.5" y1="1581.72" x2="130" y2="1581.72" stroke="#000" stroke-width="2.3" stroke-linecap="butt"/>
<text x="118.5" y="1590.32" font-size="24" text-anchor="end" fill="#000">-0.2</text>
<line x1="122.5" y1="1676.84" x2="130" y2="1676.84" stroke="#000" stroke-width="2.3" stroke-linecap="butt"/>
<text x="118.5" y="1685.44" font-size="24" text-anchor="end" fill="#000">-0.4</text>
<line x1="122.5" y1="1771.96" x2="130" y2="1771.96" stroke="#000" stroke-width="2.3" stroke-linecap="butt"/>
<text x="118.5" y="1780.56" font-size="24" text-anchor="end" fill="#000">-0.6</text>
<line x1="129.3" y1="1771.9" x2="129.3" y2="1779.4" stroke="#000" stroke-width="2.3" stroke-linecap="butt"/>
<text x="129.3" y="1806.4" font-size="24" text-anchor="middle" fill="#000">-0.4</text>
<line x1="239.5" y1="1771.9" x2="239.5" y2="1779.4" stroke="#000" stroke-width="2.3" stroke-linecap="butt"/>
<text x="239.5" y="1806.4" font-size="24" text-anchor="middle" fill="#000">-0.2</text>
<line x1="349.7" y1="1771.9" x2="349.7" y2="1779.4" stroke="#000" stroke-width="2.3" stroke-linecap="butt"/>
<text x="349.7" y="1806.4" font-size="24" text-anchor="middle" fill="#000">0.0</text>
<line x1="459.9" y1="1771.9" x2="459.9" y2="1779.4" stroke="#000" stroke-width="2.3" stroke-linecap="butt"/>
<text x="459.9" y="1806.4" font-size="24" text-anchor="middle" fill="#000">0.2</text>
<line x1="570.1" y1="1771.9" x2="570.1" y2="1779.4" stroke="#000" stroke-width="2.3" stroke-linecap="butt"/>
<text x="570.1" y="1806.4" font-size="24" text-anchor="middle" fill="#000">0.4</text>
<line x1="680.3" y1="1771.9" x2="680.3" y2="1779.4" stroke="#000" stroke-width="2.3" stroke-linecap="butt"/>
<text x="680.3" y="1806.4" font-size="24" text-anchor="middle" fill="#000">0.6</text>
<line x1="790.5" y1="1771.9" x2="790.5" y2="1779.4" stroke="#000" stroke-width="2.3" stroke-linecap="butt"/>
<text x="790.5" y="1806.4" font-size="24" text-anchor="middle" fill="#000">0.8</text>
<text x="460" y="1258.5" font-size="35" text-anchor="middle" fill="#000">Bray Curtis</text>
<text x="460" y="1844" font-size="32" text-anchor="middle" fill="#000">PC1 (21.1%)</text>
<text transform="translate(66.5 1532) rotate(-90)" font-size="32" text-anchor="middle" fill="#000">PC2 (10.8%)</text>
<rect x="674.5" y="1507" width="150.8" height="134.1" fill="#fff" stroke="#333" stroke-width="1.5"/>
<circle cx="698.2" cy="1531.9" r="5" fill="#a2f5a2" stroke="#000" stroke-width="1.2"/>
<text x="727.6" y="1536.6" font-size="13" fill="#1a1a1a">Foremilk 5m</text>
<circle cx="698.2" cy="1560" r="5" fill="#008000" stroke="#000" stroke-width="1.2"/>
<text x="727.6" y="1564.7" font-size="13" fill="#1a1a1a">Foremilk 9m</text>
<circle cx="698.2" cy="1588.1" r="5" fill="#94bff2" stroke="#000" stroke-width="1.2"/>
<text x="727.6" y="1592.8" font-size="13" fill="#1a1a1a">Hindmilk 5m</text>
<circle cx="698.2" cy="1616.2" r="5" fill="#0000f0" stroke="#000" stroke-width="1.2"/>
<text x="727.6" y="1620.9" font-size="13" fill="#1a1a1a">Hindmilk 9m</text>
<text x="568.7" y="1701.6" font-size="20" fill="#000">ANOSIM</text>
<text x="729.3" y="1701.6" font-size="20" fill="#000">R</text>
<text x="824.8" y="1701.6" font-size="20" fill="#000">P</text>
<line x1="567.7" y1="1702.6" x2="837.9" y2="1702.6" stroke="#9a9a9a" stroke-width="1.1" stroke-linecap="butt"/>
<text x="568.7" y="1726" font-size="20" fill="#000">Fore-Hind-5m</text>
<text x="728.6" y="1726" font-size="20" fill="#000">0.002</text>
<text x="792.6" y="1726" font-size="20" fill="#000">0.38</text>
<text x="568.7" y="1750.4" font-size="20" fill="#000">Fore-Hind-9m</text>
<text x="728.6" y="1750.4" font-size="20" fill="#000">0.014</text>
<text x="792.6" y="1750.4" font-size="20" fill="#000">0.28</text>
<ellipse cx="628.2" cy="1477.6" rx="47.8" ry="33" transform="rotate(-40 628.2 1477.6)" fill="none" stroke="#000" stroke-width="2.6" stroke-dasharray="7 4.5"/>
<text x="680" y="1456.4" font-size="17.7" fill="#000">Same individual</text>
<text x="742.5" y="1477" font-size="17.7" text-anchor="middle" fill="#000">(#16)</text>
<circle cx="281.05" cy="1367.18" r="4.8" fill="#94bff2" stroke="#000" stroke-width="1.2"/>
<circle cx="314.49" cy="1370.24" r="4.8" fill="#0000f0" stroke="#000" stroke-width="1.2"/>
<circle cx="387.39" cy="1365.51" r="4.8" fill="#94bff2" stroke="#000" stroke-width="1.2"/>
<circle cx="379.58" cy="1372.33" r="4.8" fill="#94bff2" stroke="#000" stroke-width="1.2"/>
<circle cx="251.08" cy="1392.96" r="4.8" fill="#94bff2" stroke="#000" stroke-width="1.2"/>
<circle cx="222.51" cy="1400.21" r="4.8" fill="#0000f0" stroke="#000" stroke-width="1.2"/>
<circle cx="226.69" cy="1397.42" r="4.8" fill="#008000" stroke="#000" stroke-width="1.2"/>
<circle cx="215.96" cy="1409.69" r="4.8" fill="#94bff2" stroke="#000" stroke-width="1.2"/>
<circle cx="217.91" cy="1413.45" r="4.8" fill="#008000" stroke="#000" stroke-width="1.2"/>
<circle cx="263.9" cy="1414.15" r="4.8" fill="#94bff2" stroke="#000" stroke-width="1.2"/>
<circle cx="219.3" cy="1425.71" r="4.8" fill="#a2f5a2" stroke="#000" stroke-width="1.2"/>
<circle cx="325.37" cy="1426.41" r="4.8" fill="#94bff2" stroke="#000" stroke-width="1.2"/>
<circle cx="398.4" cy="1425.71" r="4.8" fill="#a2f5a2" stroke="#000" stroke-width="1.2"/>
<circle cx="199.51" cy="1433.66" r="4.8" fill="#0000f0" stroke="#000" stroke-width="1.2"/>
<circle cx="199.79" cy="1439.37" r="4.8" fill="#94bff2" stroke="#000" stroke-width="1.2"/>
<circle cx="248.57" cy="1431.29" r="4.8" fill="#94bff2" stroke="#000" stroke-width="1.2"/>
<circle cx="282.44" cy="1428.08" r="4.8" fill="#0000f0" stroke="#000" stroke-width="1.2"/>
<circle cx="352.54" cy="1434.49" r="4.8" fill="#a2f5a2" stroke="#000" stroke-width="1.2"/>
<circle cx="259.16" cy="1440.63" r="4.8" fill="#a2f5a2" stroke="#000" stroke-width="1.2"/>
<circle cx="250.38" cy="1452.89" r="4.8" fill="#0000f0" stroke="#000" stroke-width="1.2"/>
<circle cx="250.66" cy="1445.64" r="4.8" fill="#a2f5a2" stroke="#000" stroke-width="1.2"/>
<circle cx="267.11" cy="1447.04" r="4.8" fill="#0000f0" stroke="#000" stroke-width="1.2"/>
<circle cx="278.68" cy="1445.92" r="4.8" fill="#0000f0" stroke="#000" stroke-width="1.2"/>
<circle cx="360.07" cy="1448.71" r="4.8" fill="#0000f0" stroke="#000" stroke-width="1.2"/>
<circle cx="205.09" cy="1454.01" r="4.8" fill="#0000f0" stroke="#000" stroke-width="1.2"/>
<circle cx="211.36" cy="1453.17" r="4.8" fill="#0000f0" stroke="#000" stroke-width="1.2"/>
<circle cx="210.94" cy="1454.7" r="4.8" fill="#94bff2" stroke="#000" stroke-width="1.2"/>
<circle cx="219.72" cy="1458.47" r="4.8" fill="#0000f0" stroke="#000" stroke-width="1.2"/>
<circle cx="226.97" cy="1455.68" r="4.8" fill="#a2f5a2" stroke="#000" stroke-width="1.2"/>
<circle cx="239.23" cy="1462.93" r="4.8" fill="#008000" stroke="#000" stroke-width="1.2"/>
<circle cx="211.78" cy="1471.43" r="4.8" fill="#a2f5a2" stroke="#000" stroke-width="1.2"/>
<circle cx="281.46" cy="1469.34" r="4.8" fill="#94bff2" stroke="#000" stroke-width="1.2"/>
<circle cx="275.19" cy="1474.91" r="4.8" fill="#a2f5a2" stroke="#000" stroke-width="1.2"/>
<circle cx="209.55" cy="1483.14" r="4.8" fill="#94bff2" stroke="#000" stroke-width="1.2"/>
<circle cx="234.36" cy="1479.37" r="4.8" fill="#a2f5a2" stroke="#000" stroke-width="1.2"/>
<circle cx="226.69" cy="1485.23" r="4.8" fill="#008000" stroke="#000" stroke-width="1.2"/>
<circle cx="221.11" cy="1490.94" r="4.8" fill="#008000" stroke="#000" stroke-width="1.2"/>
<circle cx="328.43" cy="1480.49" r="4.8" fill="#008000" stroke="#000" stroke-width="1.2"/>
<circle cx="371.92" cy="1483.55" r="4.8" fill="#0000f0" stroke="#000" stroke-width="1.2"/>
<circle cx="294.29" cy="1489.83" r="4.8" fill="#0000f0" stroke="#000" stroke-width="1.2"/>
<circle cx="243" cy="1493.31" r="4.8" fill="#94bff2" stroke="#000" stroke-width="1.2"/>
<circle cx="248.29" cy="1494.7" r="4.8" fill="#a2f5a2" stroke="#000" stroke-width="1.2"/>
<circle cx="240.21" cy="1498.89" r="4.8" fill="#94bff2" stroke="#000" stroke-width="1.2"/>
<circle cx="222.09" cy="1501.39" r="4.8" fill="#0000f0" stroke="#000" stroke-width="1.2"/>
<circle cx="246.48" cy="1506.55" r="4.8" fill="#a2f5a2" stroke="#000" stroke-width="1.2"/>
<circle cx="237.56" cy="1518.68" r="4.8" fill="#008000" stroke="#000" stroke-width="1.2"/>
<circle cx="357.98" cy="1517.7" r="4.8" fill="#008000" stroke="#000" stroke-width="1.2"/>
<circle cx="279.65" cy="1524.67" r="4.8" fill="#0000f0" stroke="#000" stroke-width="1.2"/>
<circle cx="277.14" cy="1523.69" r="4.8" fill="#008000" stroke="#000" stroke-width="1.2"/>
<circle cx="325.23" cy="1528.15" r="4.8" fill="#0000f0" stroke="#000" stroke-width="1.2"/>
<circle cx="360.21" cy="1532.33" r="4.8" fill="#94bff2" stroke="#000" stroke-width="1.2"/>
<circle cx="354.63" cy="1540.7" r="4.8" fill="#0000f0" stroke="#000" stroke-width="1.2"/>
<circle cx="248.29" cy="1540" r="4.8" fill="#008000" stroke="#000" stroke-width="1.2"/>
<circle cx="311.43" cy="1542.51" r="4.8" fill="#008000" stroke="#000" stroke-width="1.2"/>
<circle cx="266.69" cy="1560.49" r="4.8" fill="#0000f0" stroke="#000" stroke-width="1.2"/>
<circle cx="274.36" cy="1561.6" r="4.8" fill="#0000f0" stroke="#000" stroke-width="1.2"/>
<circle cx="258.75" cy="1567.18" r="4.8" fill="#a2f5a2" stroke="#000" stroke-width="1.2"/>
<circle cx="327.32" cy="1576.93" r="4.8" fill="#a2f5a2" stroke="#000" stroke-width="1.2"/>
<circle cx="321.39" cy="1600.7" r="4.8" fill="#a2f5a2" stroke="#000" stroke-width="1.2"/>
<circle cx="315.82" cy="1615.33" r="4.8" fill="#008000" stroke="#000" stroke-width="1.2"/>
<circle cx="286.55" cy="1629.97" r="4.8" fill="#94bff2" stroke="#000" stroke-width="1.2"/>
<circle cx="310.66" cy="1637.63" r="4.8" fill="#a2f5a2" stroke="#000" stroke-width="1.2"/>
<circle cx="581.53" cy="1369.27" r="4.8" fill="#94bff2" stroke="#000" stroke-width="1.2"/>
<circle cx="622.13" cy="1380.94" r="4.8" fill="#94bff2" stroke="#000" stroke-width="1.2"/>
<circle cx="648.78" cy="1367.35" r="4.8" fill="#008000" stroke="#000" stroke-width="1.2"/>
<circle cx="679.27" cy="1365.78" r="4.8" fill="#0000f0" stroke="#000" stroke-width="1.2"/>
<circle cx="683.62" cy="1384.77" r="4.8" fill="#a2f5a2" stroke="#000" stroke-width="1.2"/>
<circle cx="620.91" cy="1407.6" r="4.8" fill="#008000" stroke="#000" stroke-width="1.2"/>
<circle cx="671.25" cy="1406.55" r="4.8" fill="#0000f0" stroke="#000" stroke-width="1.2"/>
<circle cx="426.48" cy="1442.44" r="4.8" fill="#0000f0" stroke="#000" stroke-width="1.2"/>
<circle cx="506.62" cy="1443.14" r="4.8" fill="#a2f5a2" stroke="#000" stroke-width="1.2"/>
<circle cx="514.11" cy="1443.14" r="4.8" fill="#008000" stroke="#000" stroke-width="1.2"/>
<circle cx="529.27" cy="1473.8" r="4.8" fill="#a2f5a2" stroke="#000" stroke-width="1.2"/>
<circle cx="547.56" cy="1477.63" r="4.8" fill="#94bff2" stroke="#000" stroke-width="1.2"/>
<circle cx="609.93" cy="1485.99" r="4.8" fill="#94bff2" stroke="#000" stroke-width="1.2"/>
<circle cx="615.51" cy="1485.47" r="4.8" fill="#008000" stroke="#000" stroke-width="1.2"/>
<circle cx="602.61" cy="1492.44" r="4.8" fill="#a2f5a2" stroke="#000" stroke-width="1.2"/>
<circle cx="656.1" cy="1458.12" r="4.8" fill="#0000f0" stroke="#000" stroke-width="1.2"/>
<circle cx="493.55" cy="1540.7" r="4.8" fill="#a2f5a2" stroke="#000" stroke-width="1.2"/>
<circle cx="366.72" cy="1621.39" r="4.8" fill="#008000" stroke="#000" stroke-width="1.2"/>
<circle cx="455.57" cy="1629.76" r="4.8" fill="#a2f5a2" stroke="#000" stroke-width="1.2"/>
<circle cx="456.79" cy="1696.48" r="4.8" fill="#008000" stroke="#000" stroke-width="1.2"/>
<circle cx="327.53" cy="1709.02" r="4.8" fill="#008000" stroke="#000" stroke-width="1.2"/>
<circle cx="528.57" cy="1720.7" r="4.8" fill="#008000" stroke="#000" stroke-width="1.2"/>
<circle cx="511.32" cy="1734.81" r="4.8" fill="#008000" stroke="#000" stroke-width="1.2"/>
<circle cx="528.22" cy="1743.52" r="4.8" fill="#a2f5a2" stroke="#000" stroke-width="1.2"/>
<text x="1066" y="1288" font-size="60" font-weight="bold" fill="#000">h</text>
<line x1="1631.3" y1="1296" x2="1631.3" y2="1771.9" stroke="#222" stroke-width="1.5" stroke-linecap="butt" stroke-dasharray="1.6 2.6"/>
<line x1="1190.6" y1="1533.7" x2="1844" y2="1533.7" stroke="#222" stroke-width="1.5" stroke-linecap="butt" stroke-dasharray="1.6 2.6"/>
<line x1="1190.6" y1="1295" x2="1190.6" y2="1773" stroke="#000" stroke-width="2.3" stroke-linecap="butt"/>
<line x1="1189.5" y1="1771.9" x2="1852" y2="1771.9" stroke="#000" stroke-width="2.3" stroke-linecap="butt"/>
<line x1="1183.1" y1="1295.98" x2="1190.6" y2="1295.98" stroke="#000" stroke-width="2.3" stroke-linecap="butt"/>
<text x="1179.1" y="1304.58" font-size="24" text-anchor="end" fill="#000">0.4</text>
<line x1="1183.1" y1="1414.84" x2="1190.6" y2="1414.84" stroke="#000" stroke-width="2.3" stroke-linecap="butt"/>
<text x="1179.1" y="1423.44" font-size="24" text-anchor="end" fill="#000">0.2</text>
<line x1="1183.1" y1="1533.7" x2="1190.6" y2="1533.7" stroke="#000" stroke-width="2.3" stroke-linecap="butt"/>
<text x="1179.1" y="1542.3" font-size="24" text-anchor="end" fill="#000">0.0</text>
<line x1="1183.1" y1="1652.56" x2="1190.6" y2="1652.56" stroke="#000" stroke-width="2.3" stroke-linecap="butt"/>
<text x="1179.1" y="1661.16" font-size="24" text-anchor="end" fill="#000">-0.2</text>
<line x1="1183.1" y1="1771.42" x2="1190.6" y2="1771.42" stroke="#000" stroke-width="2.3" stroke-linecap="butt"/>
<text x="1179.1" y="1780.02" font-size="24" text-anchor="end" fill="#000">-0.4</text>
<line x1="1190.34" y1="1771.9" x2="1190.34" y2="1779.4" stroke="#000" stroke-width="2.3" stroke-linecap="butt"/>
<text x="1190.34" y="1806.4" font-size="24" text-anchor="middle" fill="#000">-0.8</text>
<line x1="1300.58" y1="1771.9" x2="1300.58" y2="1779.4" stroke="#000" stroke-width="2.3" stroke-linecap="butt"/>
<text x="1300.58" y="1806.4" font-size="24" text-anchor="middle" fill="#000">-0.6</text>
<line x1="1410.82" y1="1771.9" x2="1410.82" y2="1779.4" stroke="#000" stroke-width="2.3" stroke-linecap="butt"/>
<text x="1410.82" y="1806.4" font-size="24" text-anchor="middle" fill="#000">-0.4</text>
<line x1="1521.06" y1="1771.9" x2="1521.06" y2="1779.4" stroke="#000" stroke-width="2.3" stroke-linecap="butt"/>
<text x="1521.06" y="1806.4" font-size="24" text-anchor="middle" fill="#000">-0.2</text>
<line x1="1631.3" y1="1771.9" x2="1631.3" y2="1779.4" stroke="#000" stroke-width="2.3" stroke-linecap="butt"/>
<text x="1631.3" y="1806.4" font-size="24" text-anchor="middle" fill="#000">0.0</text>
<line x1="1741.54" y1="1771.9" x2="1741.54" y2="1779.4" stroke="#000" stroke-width="2.3" stroke-linecap="butt"/>
<text x="1741.54" y="1806.4" font-size="24" text-anchor="middle" fill="#000">0.2</text>
<line x1="1851.78" y1="1771.9" x2="1851.78" y2="1779.4" stroke="#000" stroke-width="2.3" stroke-linecap="butt"/>
<text x="1851.78" y="1806.4" font-size="24" text-anchor="middle" fill="#000">0.4</text>
<text x="1520.8" y="1257.7" font-size="35" text-anchor="middle" fill="#000">Jaccard</text>
<text x="1520.8" y="1844" font-size="32" text-anchor="middle" fill="#000">PC1 (11.1%)</text>
<text transform="translate(1127.4 1531.4) rotate(-90)" font-size="32" text-anchor="middle" fill="#000">PC2 (6.0%)</text>
<text x="1214.8" y="1698.7" font-size="20" fill="#000">ANOSIM</text>
<text x="1375.2" y="1698.7" font-size="20" fill="#000">R</text>
<text x="1471.4" y="1698.7" font-size="20" fill="#000">P</text>
<line x1="1213.8" y1="1699.7" x2="1483.9" y2="1699.7" stroke="#9a9a9a" stroke-width="1.1" stroke-linecap="butt"/>
<text x="1214.8" y="1723.1" font-size="20" fill="#000">Fore-Hind-5m</text>
<text x="1374.6" y="1723.1" font-size="20" fill="#000">-0.004</text>
<text x="1438.6" y="1723.1" font-size="20" fill="#000">0.56</text>
<text x="1214.8" y="1747.5" font-size="20" fill="#000">Fore-Hind-9m</text>
<text x="1374.6" y="1747.5" font-size="20" fill="#000">-0.008</text>
<text x="1438.6" y="1747.5" font-size="20" fill="#000">0.64</text>
<ellipse cx="1331.8" cy="1393.8" rx="48" ry="32.9" transform="rotate(-38.8 1331.8 1393.8)" fill="none" stroke="#000" stroke-width="2.6" stroke-dasharray="7 4.5"/>
<text x="1369.2" y="1346.9" font-size="17.7" fill="#000">Same individual</text>
<text x="1432" y="1367.2" font-size="17.7" text-anchor="middle" fill="#000">(#16)</text>
<circle cx="1318.75" cy="1380.38" r="4.8" fill="#008000" stroke="#000" stroke-width="1.2"/>
<circle cx="1358.75" cy="1377.18" r="4.8" fill="#0000f0" stroke="#000" stroke-width="1.2"/>
<circle cx="1307.46" cy="1410.63" r="4.8" fill="#94bff2" stroke="#000" stroke-width="1.2"/>
<circle cx="1312.33" cy="1421.5" r="4.8" fill="#a2f5a2" stroke="#000" stroke-width="1.2"/>
<circle cx="1739.2" cy="1395.24" r="4.8" fill="#0000f0" stroke="#000" stroke-width="1.2"/>
<circle cx="1732.7" cy="1397.65" r="4.8" fill="#008000" stroke="#000" stroke-width="1.2"/>
<circle cx="1704.82" cy="1405.09" r="4.8" fill="#0000f0" stroke="#000" stroke-width="1.2"/>
<circle cx="1739.2" cy="1406.95" r="4.8" fill="#0000f0" stroke="#000" stroke-width="1.2"/>
<circle cx="1718.76" cy="1417.17" r="4.8" fill="#0000f0" stroke="#000" stroke-width="1.2"/>
<circle cx="1727.12" cy="1419.96" r="4.8" fill="#0000f0" stroke="#000" stroke-width="1.2"/>
<circle cx="1698.32" cy="1424.6" r="4.8" fill="#0000f0" stroke="#000" stroke-width="1.2"/>
<circle cx="1605.95" cy="1408.81" r="4.8" fill="#008000" stroke="#000" stroke-width="1.2"/>
<circle cx="1689.58" cy="1443.19" r="4.8" fill="#008000" stroke="#000" stroke-width="1.2"/>
<circle cx="1714.48" cy="1443.56" r="4.8" fill="#008000" stroke="#000" stroke-width="1.2"/>
<circle cx="1731.21" cy="1442.81" r="4.8" fill="#008000" stroke="#000" stroke-width="1.2"/>
<circle cx="1743.85" cy="1448.76" r="4.8" fill="#008000" stroke="#000" stroke-width="1.2"/>
<circle cx="1699.8" cy="1451.55" r="4.8" fill="#0000f0" stroke="#000" stroke-width="1.2"/>
<circle cx="1705.19" cy="1458.98" r="4.8" fill="#0000f0" stroke="#000" stroke-width="1.2"/>
<circle cx="1583.65" cy="1465.11" r="4.8" fill="#008000" stroke="#000" stroke-width="1.2"/>
<circle cx="1727.68" cy="1469.57" r="4.8" fill="#0000f0" stroke="#000" stroke-width="1.2"/>
<circle cx="1701.48" cy="1481.65" r="4.8" fill="#0000f0" stroke="#000" stroke-width="1.2"/>
<circle cx="1717.27" cy="1481.84" r="4.8" fill="#008000" stroke="#000" stroke-width="1.2"/>
<circle cx="1688.1" cy="1486.3" r="4.8" fill="#94bff2" stroke="#000" stroke-width="1.2"/>
<circle cx="1571.57" cy="1503.58" r="4.8" fill="#008000" stroke="#000" stroke-width="1.2"/>
<circle cx="1712.25" cy="1498.38" r="4.8" fill="#0000f0" stroke="#000" stroke-width="1.2"/>
<circle cx="1722.85" cy="1499.31" r="4.8" fill="#0000f0" stroke="#000" stroke-width="1.2"/>
<circle cx="1534.41" cy="1515.29" r="4.8" fill="#94bff2" stroke="#000" stroke-width="1.2"/>
<circle cx="1544.44" cy="1511.57" r="4.8" fill="#008000" stroke="#000" stroke-width="1.2"/>
<circle cx="1677.87" cy="1506.37" r="4.8" fill="#008000" stroke="#000" stroke-width="1.2"/>
<circle cx="1672.67" cy="1506.37" r="4.8" fill="#a2f5a2" stroke="#000" stroke-width="1.2"/>
<circle cx="1685.87" cy="1510.64" r="4.8" fill="#0000f0" stroke="#000" stroke-width="1.2"/>
<circle cx="1658.73" cy="1512.32" r="4.8" fill="#008000" stroke="#000" stroke-width="1.2"/>
<circle cx="1698.32" cy="1522.72" r="4.8" fill="#94bff2" stroke="#000" stroke-width="1.2"/>
<circle cx="1716.53" cy="1519.38" r="4.8" fill="#008000" stroke="#000" stroke-width="1.2"/>
<circle cx="1627.14" cy="1533.32" r="4.8" fill="#0000f0" stroke="#000" stroke-width="1.2"/>
<circle cx="1666.72" cy="1529.23" r="4.8" fill="#0000f0" stroke="#000" stroke-width="1.2"/>
<circle cx="1674.53" cy="1536.48" r="4.8" fill="#94bff2" stroke="#000" stroke-width="1.2"/>
<circle cx="1502.26" cy="1538.89" r="4.8" fill="#a2f5a2" stroke="#000" stroke-width="1.2"/>
<circle cx="1457.1" cy="1545.77" r="4.8" fill="#a2f5a2" stroke="#000" stroke-width="1.2"/>
<circle cx="1585.88" cy="1544.84" r="4.8" fill="#008000" stroke="#000" stroke-width="1.2"/>
<circle cx="1599.82" cy="1544.1" r="4.8" fill="#94bff2" stroke="#000" stroke-width="1.2"/>
<circle cx="1701.66" cy="1546.33" r="4.8" fill="#008000" stroke="#000" stroke-width="1.2"/>
<circle cx="1476.8" cy="1555.62" r="4.8" fill="#0000f0" stroke="#000" stroke-width="1.2"/>
<circle cx="1585.51" cy="1555.62" r="4.8" fill="#008000" stroke="#000" stroke-width="1.2"/>
<circle cx="1673.79" cy="1552.27" r="4.8" fill="#a2f5a2" stroke="#000" stroke-width="1.2"/>
<circle cx="1641.08" cy="1558.96" r="4.8" fill="#008000" stroke="#000" stroke-width="1.2"/>
<circle cx="1724.71" cy="1558.96" r="4.8" fill="#0000f0" stroke="#000" stroke-width="1.2"/>
<circle cx="1548.34" cy="1560.26" r="4.8" fill="#a2f5a2" stroke="#000" stroke-width="1.2"/>
<circle cx="1558.01" cy="1564.35" r="4.8" fill="#a2f5a2" stroke="#000" stroke-width="1.2"/>
<circle cx="1651.86" cy="1563.98" r="4.8" fill="#94bff2" stroke="#000" stroke-width="1.2"/>
<circle cx="1670.81" cy="1568.07" r="4.8" fill="#0000f0" stroke="#000" stroke-width="1.2"/>
<circle cx="1675.46" cy="1563.05" r="4.8" fill="#a2f5a2" stroke="#000" stroke-width="1.2"/>
<circle cx="1657.06" cy="1569.56" r="4.8" fill="#008000" stroke="#000" stroke-width="1.2"/>
<circle cx="1500.03" cy="1578.29" r="4.8" fill="#0000f0" stroke="#000" stroke-width="1.2"/>
<circle cx="1534.78" cy="1578.48" r="4.8" fill="#94bff2" stroke="#000" stroke-width="1.2"/>
<circle cx="1657.43" cy="1575.13" r="4.8" fill="#94bff2" stroke="#000" stroke-width="1.2"/>
<circle cx="1643.49" cy="1576.99" r="4.8" fill="#94bff2" stroke="#000" stroke-width="1.2"/>
<circle cx="1669.51" cy="1576.62" r="4.8" fill="#a2f5a2" stroke="#000" stroke-width="1.2"/>
<circle cx="1681.22" cy="1574.2" r="4.8" fill="#94bff2" stroke="#000" stroke-width="1.2"/>
<circle cx="1687.17" cy="1575.69" r="4.8" fill="#a2f5a2" stroke="#000" stroke-width="1.2"/>
<circle cx="1715.04" cy="1572.72" r="4.8" fill="#94bff2" stroke="#000" stroke-width="1.2"/>
<circle cx="1458.03" cy="1586.28" r="4.8" fill="#a2f5a2" stroke="#000" stroke-width="1.2"/>
<circle cx="1562.1" cy="1584.42" r="4.8" fill="#a2f5a2" stroke="#000" stroke-width="1.2"/>
<circle cx="1654.64" cy="1583.49" r="4.8" fill="#a2f5a2" stroke="#000" stroke-width="1.2"/>
<circle cx="1675.46" cy="1588.14" r="4.8" fill="#a2f5a2" stroke="#000" stroke-width="1.2"/>
<circle cx="1578.45" cy="1590.93" r="4.8" fill="#a2f5a2" stroke="#000" stroke-width="1.2"/>
<circle cx="1635.13" cy="1594.27" r="4.8" fill="#94bff2" stroke="#000" stroke-width="1.2"/>
<circle cx="1645.35" cy="1592.79" r="4.8" fill="#94bff2" stroke="#000" stroke-width="1.2"/>
<circle cx="1544.63" cy="1600.78" r="4.8" fill="#008000" stroke="#000" stroke-width="1.2"/>
<circle cx="1617.85" cy="1603.38" r="4.8" fill="#008000" stroke="#000" stroke-width="1.2"/>
<circle cx="1686.24" cy="1599.66" r="4.8" fill="#0000f0" stroke="#000" stroke-width="1.2"/>
<circle cx="1681.22" cy="1607.1" r="4.8" fill="#94bff2" stroke="#000" stroke-width="1.2"/>
<circle cx="1487.39" cy="1611.37" r="4.8" fill="#94bff2" stroke="#000" stroke-width="1.2"/>
<circle cx="1638.85" cy="1626.24" r="4.8" fill="#a2f5a2" stroke="#000" stroke-width="1.2"/>
<circle cx="1632.72" cy="1631.81" r="4.8" fill="#a2f5a2" stroke="#000" stroke-width="1.2"/>
<circle cx="1668.21" cy="1634.23" r="4.8" fill="#94bff2" stroke="#000" stroke-width="1.2"/>
<circle cx="1670.44" cy="1628.65" r="4.8" fill="#a2f5a2" stroke="#000" stroke-width="1.2"/>
<circle cx="1674.53" cy="1640.73" r="4.8" fill="#a2f5a2" stroke="#000" stroke-width="1.2"/>
<circle cx="1667.65" cy="1647.05" r="4.8" fill="#94bff2" stroke="#000" stroke-width="1.2"/>
<circle cx="1631.41" cy="1648.17" r="4.8" fill="#a2f5a2" stroke="#000" stroke-width="1.2"/>
<circle cx="1658.36" cy="1651.88" r="4.8" fill="#94bff2" stroke="#000" stroke-width="1.2"/>
<circle cx="1650.56" cy="1649.47" r="4.8" fill="#a2f5a2" stroke="#000" stroke-width="1.2"/>
<circle cx="1567.67" cy="1670.28" r="4.8" fill="#a2f5a2" stroke="#000" stroke-width="1.2"/>
<circle cx="1612.83" cy="1675.11" r="4.8" fill="#94bff2" stroke="#000" stroke-width="1.2"/>
<circle cx="1644.05" cy="1671.4" r="4.8" fill="#94bff2" stroke="#000" stroke-width="1.2"/>
<text x="9.6" y="1978.6" font-size="60" font-weight="bold" fill="#000">i</text>
<line x1="125.3" y1="2020.6" x2="125.3" y2="2272" stroke="#000" stroke-width="2.4" stroke-linecap="butt"/>
<line x1="124.1" y1="2270.8" x2="882" y2="2270.8" stroke="#000" stroke-width="2.4" stroke-linecap="butt"/>
<line x1="114.8" y1="2270.8" x2="125.3" y2="2270.8" stroke="#000" stroke-width="2.4" stroke-linecap="butt"/>
<text x="111.8" y="2277.64" font-size="19" text-anchor="end" fill="#000">0</text>
<line x1="114.8" y1="2208.5" x2="125.3" y2="2208.5" stroke="#000" stroke-width="2.4" stroke-linecap="butt"/>
<text x="111.8" y="2215.34" font-size="19" text-anchor="end" fill="#000">2</text>
<line x1="114.8" y1="2146.2" x2="125.3" y2="2146.2" stroke="#000" stroke-width="2.4" stroke-linecap="butt"/>
<text x="111.8" y="2153.04" font-size="19" text-anchor="end" fill="#000">4</text>
<line x1="114.8" y1="2083.9" x2="125.3" y2="2083.9" stroke="#000" stroke-width="2.4" stroke-linecap="butt"/>
<text x="111.8" y="2090.74" font-size="19" text-anchor="end" fill="#000">6</text>
<line x1="114.8" y1="2021.6" x2="125.3" y2="2021.6" stroke="#000" stroke-width="2.4" stroke-linecap="butt"/>
<text x="111.8" y="2028.44" font-size="19" text-anchor="end" fill="#000">8</text>
<line x1="141.6" y1="2270.8" x2="141.6" y2="2281.3" stroke="#000" stroke-width="2.4" stroke-linecap="butt"/>
<line x1="166.5" y1="2270.8" x2="166.5" y2="2281.3" stroke="#000" stroke-width="2.4" stroke-linecap="butt"/>
<line x1="191.4" y1="2270.8" x2="191.4" y2="2281.3" stroke="#000" stroke-width="2.4" stroke-linecap="butt"/>
<line x1="216.3" y1="2270.8" x2="216.3" y2="2281.3" stroke="#000" stroke-width="2.4" stroke-linecap="butt"/>
<line x1="241.2" y1="2270.8" x2="241.2" y2="2281.3" stroke="#000" stroke-width="2.4" stroke-linecap="butt"/>
<line x1="266.1" y1="2270.8" x2="266.1" y2="2281.3" stroke="#000" stroke-width="2.4" stroke-linecap="butt"/>
<line x1="291" y1="2270.8" x2="291" y2="2281.3" stroke="#000" stroke-width="2.4" stroke-linecap="butt"/>
<line x1="315.9" y1="2270.8" x2="315.9" y2="2281.3" stroke="#000" stroke-width="2.4" stroke-linecap="butt"/>
<line x1="340.8" y1="2270.8" x2="340.8" y2="2281.3" stroke="#000" stroke-width="2.4" stroke-linecap="butt"/>
<line x1="365.7" y1="2270.8" x2="365.7" y2="2281.3" stroke="#000" stroke-width="2.4" stroke-linecap="butt"/>
<line x1="390.6" y1="2270.8" x2="390.6" y2="2281.3" stroke="#000" stroke-width="2.4" stroke-linecap="butt"/>
<line x1="415.5" y1="2270.8" x2="415.5" y2="2281.3" stroke="#000" stroke-width="2.4" stroke-linecap="butt"/>
<line x1="440.4" y1="2270.8" x2="440.4" y2="2281.3" stroke="#000" stroke-width="2.4" stroke-linecap="butt"/>
<line x1="465.3" y1="2270.8" x2="465.3" y2="2281.3" stroke="#000" stroke-width="2.4" stroke-linecap="butt"/>
<line x1="490.2" y1="2270.8" x2="490.2" y2="2281.3" stroke="#000" stroke-width="2.4" stroke-linecap="butt"/>
<line x1="515.1" y1="2270.8" x2="515.1" y2="2281.3" stroke="#000" stroke-width="2.4" stroke-linecap="butt"/>
<line x1="540" y1="2270.8" x2="540" y2="2281.3" stroke="#000" stroke-width="2.4" stroke-linecap="butt"/>
<line x1="564.9" y1="2270.8" x2="564.9" y2="2281.3" stroke="#000" stroke-width="2.4" stroke-linecap="butt"/>
<line x1="589.8" y1="2270.8" x2="589.8" y2="2281.3" stroke="#000" stroke-width="2.4" stroke-linecap="butt"/>
<line x1="614.7" y1="2270.8" x2="614.7" y2="2281.3" stroke="#000" stroke-width="2.4" stroke-linecap="butt"/>
<line x1="639.6" y1="2270.8" x2="639.6" y2="2281.3" stroke="#000" stroke-width="2.4" stroke-linecap="butt"/>
<line x1="664.5" y1="2270.8" x2="664.5" y2="2281.3" stroke="#000" stroke-width="2.4" stroke-linecap="butt"/>
<line x1="689.4" y1="2270.8" x2="689.4" y2="2281.3" stroke="#000" stroke-width="2.4" stroke-linecap="butt"/>
<line x1="714.3" y1="2270.8" x2="714.3" y2="2281.3" stroke="#000" stroke-width="2.4" stroke-linecap="butt"/>
<line x1="739.2" y1="2270.8" x2="739.2" y2="2281.3" stroke="#000" stroke-width="2.4" stroke-linecap="butt"/>
<line x1="764.1" y1="2270.8" x2="764.1" y2="2281.3" stroke="#000" stroke-width="2.4" stroke-linecap="butt"/>
<line x1="789" y1="2270.8" x2="789" y2="2281.3" stroke="#000" stroke-width="2.4" stroke-linecap="butt"/>
<line x1="813.9" y1="2270.8" x2="813.9" y2="2281.3" stroke="#000" stroke-width="2.4" stroke-linecap="butt"/>
<line x1="838.8" y1="2270.8" x2="838.8" y2="2281.3" stroke="#000" stroke-width="2.4" stroke-linecap="butt"/>
<line x1="863.7" y1="2270.8" x2="863.7" y2="2281.3" stroke="#000" stroke-width="2.4" stroke-linecap="butt"/>
<text transform="translate(87.4 2142.5) rotate(-90)" font-size="17.6" font-weight="bold" text-anchor="middle" fill="#000">Log<tspan font-size="12.6" dy="3.6">10</tspan><tspan dy="-3.6">(16S rRNA gene copies/ml milk)</tspan></text>
<text x="503.3" y="1990.8" font-size="23.3" text-anchor="middle" fill="#000">Hindmilk (HM) vs Foremilk (FM) at 5 months</text>
<text transform="translate(151 2295.7) rotate(-45)" font-size="19.2" text-anchor="end" fill="#000">Streptococcus (HM)</text>
<text transform="translate(175.9 2295.7) rotate(-45)" font-size="19.2" text-anchor="end" fill="#000">Streptococcus (FM)</text>
<text transform="translate(200.8 2295.7) rotate(-45)" font-size="19.2" text-anchor="end" fill="#000">Staphylococcus (HM)</text>
<text transform="translate(225.7 2295.7) rotate(-45)" font-size="19.2" text-anchor="end" fill="#000">Staphylococcus (FM)</text>
<text transform="translate(250.6 2295.7) rotate(-45)" font-size="19.2" text-anchor="end" fill="#000">Bacillus (HM)</text>
<text transform="translate(275.5 2295.7) rotate(-45)" font-size="19.2" text-anchor="end" fill="#000">Bacillus (FM)</text>
<text transform="translate(300.4 2295.7) rotate(-45)" font-size="19.2" text-anchor="end" fill="#000">Pseudomonas (HM)</text>
<text transform="translate(325.3 2295.7) rotate(-45)" font-size="19.2" text-anchor="end" fill="#000">Pseudomonas (FM)</text>
<text transform="translate(350.2 2295.7) rotate(-45)" font-size="19.2" text-anchor="end" fill="#000">Acinetobacter (HM)</text>
<text transform="translate(375.1 2295.7) rotate(-45)" font-size="19.2" text-anchor="end" fill="#000">Acinetobacter (FM)</text>
<text transform="translate(400 2295.7) rotate(-45)" font-size="19.2" text-anchor="end" fill="#000">Propionibacterium (HM)</text>
<text transform="translate(424.9 2295.7) rotate(-45)" font-size="19.2" text-anchor="end" fill="#000">Propionibacterium (FM)</text>
<text transform="translate(449.8 2295.7) rotate(-45)" font-size="19.2" text-anchor="end" fill="#000">Veillonella (HM)</text>
<text transform="translate(474.7 2295.7) rotate(-45)" font-size="19.2" text-anchor="end" fill="#000">Veillonella (FM)</text>
<text transform="translate(499.6 2295.7) rotate(-45)" font-size="19.2" text-anchor="end" fill="#000">Rothia (HM)</text>
<text transform="translate(524.5 2295.7) rotate(-45)" font-size="19.2" text-anchor="end" fill="#000">Rothia (FM)</text>
<text transform="translate(549.4 2295.7) rotate(-45)" font-size="19.2" text-anchor="end" fill="#000">Gemella (HM)</text>
<text transform="translate(574.3 2295.7) rotate(-45)" font-size="19.2" text-anchor="end" fill="#000">Gemella (FM)</text>
<text transform="translate(599.2 2295.7) rotate(-45)" font-size="19.2" text-anchor="end" fill="#000">Neisseria (HM)</text>
<text transform="translate(624.1 2295.7) rotate(-45)" font-size="19.2" text-anchor="end" fill="#000">Neisseria (FM)</text>
<text transform="translate(649 2295.7) rotate(-45)" font-size="19.2" text-anchor="end" fill="#000">Granulicatella (HM)</text>
<text transform="translate(673.9 2295.7) rotate(-45)" font-size="19.2" text-anchor="end" fill="#000">Granulicatella (FM)</text>
<text transform="translate(698.8 2295.7) rotate(-45)" font-size="19.2" text-anchor="end" fill="#000">Corynebacterium (HM)</text>
<text transform="translate(723.7 2295.7) rotate(-45)" font-size="19.2" text-anchor="end" fill="#000">Corynebacterium (FM)</text>
<text transform="translate(748.6 2295.7) rotate(-45)" font-size="19.2" text-anchor="end" fill="#000">Actinomyces (HM)</text>
<text transform="translate(773.5 2295.7) rotate(-45)" font-size="19.2" text-anchor="end" fill="#000">Actinomyces (FM)</text>
<text transform="translate(798.4 2295.7) rotate(-45)" font-size="19.2" text-anchor="end" fill="#000">Caulobacter (HM)</text>
<text transform="translate(823.3 2295.7) rotate(-45)" font-size="19.2" text-anchor="end" fill="#000">Caulobacter (FM)</text>
<text transform="translate(848.2 2295.7) rotate(-45)" font-size="19.2" text-anchor="end" fill="#000">Prevotella (HM)</text>
<text transform="translate(873.1 2295.7) rotate(-45)" font-size="19.2" text-anchor="end" fill="#000">Prevotella (FM)</text>
<path d="M136 2077.31 L147.2 2077.31 C147.4 2078.72 148.19 2080.12 148.4 2081.53 C148.77 2084.05 149.1 2086.57 149.1 2089.08 C149.1 2091.6 148.16 2094.12 147.6 2096.63 C147.15 2098.65 146.5 2100.66 146.1 2102.67 C145.7 2104.69 145.1 2106.7 145.1 2108.71 C145.1 2110.73 145.79 2112.74 146.1 2114.75 C146.49 2117.27 147.2 2119.78 147.2 2122.3 C147.2 2124.31 146.58 2126.33 146.1 2128.34 C145.74 2129.85 144.77 2131.36 144.6 2132.87 C144.37 2134.88 144.2 2136.9 144.2 2138.91 C144.2 2141.43 144.2 2143.94 144.2 2146.46 L139 2146.46 C139 2143.94 139 2141.43 139 2138.91 C139 2136.9 138.83 2134.88 138.6 2132.87 C138.43 2131.36 137.46 2129.85 137.1 2128.34 C136.62 2126.33 136 2124.31 136 2122.3 C136 2119.78 136.71 2117.27 137.1 2114.75 C137.41 2112.74 138.1 2110.73 138.1 2108.71 C138.1 2106.7 137.5 2104.69 137.1 2102.67 C136.7 2100.66 136.05 2098.65 135.6 2096.63 C135.04 2094.12 134.1 2091.6 134.1 2089.08 C134.1 2086.57 134.43 2084.05 134.8 2081.53 C135.01 2080.12 135.8 2078.72 136 2077.31Z" fill="#c8c000" stroke="#000" stroke-width="1.15" stroke-linejoin="round"/>
<line x1="134.54" y1="2085.61" x2="148.66" y2="2085.61" stroke="#000" stroke-width="1.25" stroke-linecap="butt"/>
<line x1="135.9" y1="2096.63" x2="147.3" y2="2096.63" stroke="#000" stroke-width="2.6" stroke-linecap="butt"/>
<line x1="136.41" y1="2123.51" x2="146.79" y2="2123.51" stroke="#000" stroke-width="1.25" stroke-linecap="butt"/>
<path d="M165.3 2084.55 L167.7 2084.55 C167.83 2086.57 168.2 2088.58 168.5 2090.59 C168.8 2092.61 169.09 2094.62 169.5 2096.63 C170.11 2099.65 171.22 2102.67 172 2105.69 C172.78 2108.71 174.2 2111.73 174.2 2114.75 C174.2 2117.77 173.78 2120.79 173.5 2123.81 C173.31 2125.82 173.19 2127.84 172.8 2129.85 C172.42 2131.86 170.52 2133.88 169.5 2135.89 C168.86 2137.15 167.87 2138.41 167.7 2139.66 C167.46 2141.43 167.3 2143.19 167.3 2144.95 C167.3 2146.96 167.52 2148.98 167.7 2150.99 C167.92 2153.51 168.7 2156.02 168.7 2158.54 C168.7 2161.05 167.14 2163.57 167.1 2166.09 C167.03 2171.12 167 2176.15 167 2181.19 C167 2183.2 167.7 2185.21 167.7 2187.23 C167.7 2188.23 167.7 2189.24 167.7 2190.25 L165.3 2190.25 C165.3 2189.24 165.3 2188.23 165.3 2187.23 C165.3 2185.21 166 2183.2 166 2181.19 C166 2176.15 165.97 2171.12 165.9 2166.09 C165.86 2163.57 164.3 2161.05 164.3 2158.54 C164.3 2156.02 165.08 2153.51 165.3 2150.99 C165.48 2148.98 165.7 2146.96 165.7 2144.95 C165.7 2143.19 165.54 2141.43 165.3 2139.66 C165.13 2138.41 164.14 2137.15 163.5 2135.89 C162.48 2133.88 160.58 2131.86 160.2 2129.85 C159.81 2127.84 159.69 2125.82 159.5 2123.81 C159.22 2120.79 158.8 2117.77 158.8 2114.75 C158.8 2111.73 160.22 2108.71 161 2105.69 C161.78 2102.67 162.89 2099.65 163.5 2096.63 C163.91 2094.62 164.2 2092.61 164.5 2090.59 C164.8 2088.58 165.17 2086.57 165.3 2084.55Z" fill="#c8c000" stroke="#000" stroke-width="1.15" stroke-linejoin="round"/>
<line x1="160.96" y1="2106.9" x2="172.04" y2="2106.9" stroke="#000" stroke-width="1.25" stroke-linecap="butt"/>
<line x1="159.1" y1="2114.75" x2="173.9" y2="2114.75" stroke="#000" stroke-width="2.6" stroke-linecap="butt"/>
<line x1="160.43" y1="2129.55" x2="172.57" y2="2129.55" stroke="#000" stroke-width="1.25" stroke-linecap="butt"/>
<path d="M189.2 2091.35 L193.6 2091.35 C193.48 2093.11 193.11 2094.87 192.9 2096.63 C192.53 2099.65 191.9 2102.67 191.9 2105.69 C191.9 2110.73 192.4 2115.76 192.7 2120.79 C193.05 2126.83 193.24 2132.87 193.9 2138.91 C194.34 2142.94 195.99 2146.96 196.9 2150.99 C197.81 2155.02 199.4 2159.04 199.4 2163.07 C199.4 2166.59 196.64 2170.11 195.4 2173.64 C194.34 2176.66 192.67 2179.68 192.4 2182.7 C192.18 2185.21 192 2187.73 192 2190.25 C192 2192.26 192.6 2194.27 192.6 2196.29 C192.6 2198.8 191.8 2201.32 191.8 2203.84 C191.8 2221.45 191.8 2239.07 191.8 2256.68 C191.8 2259.7 192.4 2262.72 192.4 2265.74 C192.4 2267.5 192.23 2269.26 192.2 2271.03 L190.6 2271.03 C190.57 2269.26 190.4 2267.5 190.4 2265.74 C190.4 2262.72 191 2259.7 191 2256.68 C191 2239.07 191 2221.45 191 2203.84 C191 2201.32 190.2 2198.8 190.2 2196.29 C190.2 2194.27 190.8 2192.26 190.8 2190.25 C190.8 2187.73 190.62 2185.21 190.4 2182.7 C190.13 2179.68 188.46 2176.66 187.4 2173.64 C186.16 2170.11 183.4 2166.59 183.4 2163.07 C183.4 2159.04 184.99 2155.02 185.9 2150.99 C186.81 2146.96 188.46 2142.94 188.9 2138.91 C189.56 2132.87 189.75 2126.83 190.1 2120.79 C190.4 2115.76 190.9 2110.73 190.9 2105.69 C190.9 2102.67 190.27 2099.65 189.9 2096.63 C189.69 2094.87 189.32 2093.11 189.2 2091.35Z" fill="#828000" stroke="#000" stroke-width="1.15" stroke-linejoin="round"/>
<line x1="189.15" y1="2139.21" x2="193.65" y2="2139.21" stroke="#000" stroke-width="1.25" stroke-linecap="butt"/>
<line x1="184.51" y1="2157.03" x2="198.29" y2="2157.03" stroke="#000" stroke-width="2.6" stroke-linecap="butt"/>
<line x1="184.85" y1="2167.3" x2="197.95" y2="2167.3" stroke="#000" stroke-width="1.25" stroke-linecap="butt"/>
<path d="M213.7 2087.57 L218.9 2087.57 C218.88 2092.61 218.8 2097.64 218.8 2102.67 C218.8 2105.69 220.58 2108.71 221.3 2111.73 C222.14 2115.25 223.5 2118.78 223.5 2122.3 C223.5 2126.83 222.3 2131.36 222.3 2135.89 C222.3 2138.41 222.65 2140.92 222.8 2143.44 C223.1 2148.47 223.6 2153.51 223.6 2158.54 C223.6 2163.57 223.46 2168.6 223.3 2173.64 C223.22 2176.15 223.13 2178.67 222.8 2181.19 C222.73 2181.69 222.38 2182.19 222.3 2182.7 L210.3 2182.7 C210.22 2182.19 209.87 2181.69 209.8 2181.19 C209.47 2178.67 209.38 2176.15 209.3 2173.64 C209.14 2168.6 209 2163.57 209 2158.54 C209 2153.51 209.5 2148.47 209.8 2143.44 C209.95 2140.92 210.3 2138.41 210.3 2135.89 C210.3 2131.36 209.1 2126.83 209.1 2122.3 C209.1 2118.78 210.46 2115.25 211.3 2111.73 C212.02 2108.71 213.8 2105.69 213.8 2102.67 C213.8 2097.64 213.72 2092.61 213.7 2087.57Z" fill="#828000" stroke="#000" stroke-width="1.15" stroke-linejoin="round"/>
<line x1="209.57" y1="2120.49" x2="223.03" y2="2120.49" stroke="#000" stroke-width="1.25" stroke-linecap="butt"/>
<line x1="209.74" y1="2149.18" x2="222.86" y2="2149.18" stroke="#000" stroke-width="2.6" stroke-linecap="butt"/>
<line x1="209.45" y1="2169.41" x2="223.15" y2="2169.41" stroke="#000" stroke-width="1.25" stroke-linecap="butt"/>
<path d="M239.8 2052.85 L242.6 2052.85 C242.58 2060.4 242.57 2067.95 242.5 2075.49 C242.46 2079.52 241.8 2083.55 241.7 2087.57 C241.43 2098.65 241.26 2109.72 241.26 2120.79 C241.26 2125.82 241.88 2130.86 242.2 2135.89 C242.84 2145.96 243.48 2156.02 244.2 2166.09 C244.67 2172.63 244.98 2179.17 245.7 2185.72 C246.2 2190.25 248.2 2194.78 248.2 2199.31 C248.2 2202.83 247.21 2206.35 246.7 2209.87 C245.89 2215.41 244.4 2220.95 244.2 2226.48 C244.09 2229.5 244 2232.52 244 2235.54 C244 2240.07 245.57 2244.6 246.2 2249.13 C247.17 2256.18 248.28 2263.22 248.7 2270.27 L233.7 2270.27 C234.12 2263.22 235.23 2256.18 236.2 2249.13 C236.83 2244.6 238.4 2240.07 238.4 2235.54 C238.4 2232.52 238.31 2229.5 238.2 2226.48 C238 2220.95 236.51 2215.41 235.7 2209.87 C235.19 2206.35 234.2 2202.83 234.2 2199.31 C234.2 2194.78 236.2 2190.25 236.7 2185.72 C237.42 2179.17 237.73 2172.63 238.2 2166.09 C238.92 2156.02 239.56 2145.96 240.2 2135.89 C240.52 2130.86 241.14 2125.82 241.14 2120.79 C241.14 2109.72 240.97 2098.65 240.7 2087.57 C240.6 2083.55 239.94 2079.52 239.9 2075.49 C239.83 2067.95 239.82 2060.4 239.8 2052.85Z" fill="#b4f5e1" stroke="#000" stroke-width="1.15" stroke-linejoin="round"/>
<line x1="237.03" y1="2185.41" x2="245.37" y2="2185.41" stroke="#000" stroke-width="1.25" stroke-linecap="butt"/>
<line x1="235.95" y1="2209.57" x2="246.45" y2="2209.57" stroke="#000" stroke-width="2.6" stroke-linecap="butt"/>
<path d="M264.9 2054.36 L267.3 2054.36 C267.27 2058.89 267.24 2063.42 267.1 2067.95 C267.04 2069.96 266.16 2071.97 266.16 2073.98 C266.16 2109.72 266.16 2145.45 266.16 2181.19 C266.16 2186.22 267.15 2191.25 267.6 2196.29 C268.14 2202.33 269.1 2208.36 269.1 2214.4 C269.1 2218.43 268.6 2222.46 268.6 2226.48 C268.6 2231.52 268.6 2236.55 268.6 2241.58 C268.6 2246.62 270.75 2251.65 271.6 2256.68 C272.36 2261.21 273.27 2265.74 273.6 2270.27 L258.6 2270.27 C258.93 2265.74 259.84 2261.21 260.6 2256.68 C261.45 2251.65 263.6 2246.62 263.6 2241.58 C263.6 2236.55 263.6 2231.52 263.6 2226.48 C263.6 2222.46 263.1 2218.43 263.1 2214.4 C263.1 2208.36 264.06 2202.33 264.6 2196.29 C265.05 2191.25 266.04 2186.22 266.04 2181.19 C266.04 2145.45 266.04 2109.72 266.04 2073.98 C266.04 2071.97 265.16 2069.96 265.1 2067.95 C264.96 2063.42 264.93 2058.89 264.9 2054.36Z" fill="#b4f5e1" stroke="#000" stroke-width="1.15" stroke-linejoin="round"/>
<line x1="263.41" y1="2214.1" x2="268.79" y2="2214.1" stroke="#000" stroke-width="1.25" stroke-linecap="butt"/>
<path d="M288.7 2086.82 L293.3 2086.82 C293.25 2093.11 293.18 2099.4 293 2105.69 C292.86 2110.73 291.67 2115.76 291.6 2120.79 C291.46 2130.86 291.4 2140.92 291.4 2150.99 C291.4 2156.02 291.99 2161.05 292.5 2166.09 C293.01 2171.12 294.14 2176.15 295 2181.19 C296.12 2187.73 298.5 2194.27 298.5 2200.82 C298.5 2204.34 297.59 2207.86 297 2211.38 C296.15 2216.42 294.65 2221.45 293.8 2226.48 C293.29 2229.5 292.5 2232.52 292.5 2235.54 C292.5 2240.07 293.77 2244.6 294.5 2249.13 C295.63 2256.18 297.67 2263.22 298.3 2270.27 L283.7 2270.27 C284.33 2263.22 286.37 2256.18 287.5 2249.13 C288.23 2244.6 289.5 2240.07 289.5 2235.54 C289.5 2232.52 288.71 2229.5 288.2 2226.48 C287.35 2221.45 285.85 2216.42 285 2211.38 C284.41 2207.86 283.5 2204.34 283.5 2200.82 C283.5 2194.27 285.88 2187.73 287 2181.19 C287.86 2176.15 288.99 2171.12 289.5 2166.09 C290.01 2161.05 290.6 2156.02 290.6 2150.99 C290.6 2140.92 290.54 2130.86 290.4 2120.79 C290.33 2115.76 289.14 2110.73 289 2105.69 C288.82 2099.4 288.75 2093.11 288.7 2086.82Z" fill="#a0004c" stroke="#000" stroke-width="1.15" stroke-linejoin="round"/>
<line x1="284.39" y1="2195.83" x2="297.61" y2="2195.83" stroke="#000" stroke-width="1.25" stroke-linecap="butt"/>
<line x1="284.84" y1="2209.12" x2="297.16" y2="2209.12" stroke="#000" stroke-width="2.6" stroke-linecap="butt"/>
<path d="M314.4 2067.19 L317.4 2067.19 C317.48 2074.99 317.9 2082.79 317.9 2090.59 C317.9 2098.65 316.59 2106.7 316.5 2114.75 C316.37 2126.83 316.3 2138.91 316.3 2150.99 C316.3 2156.02 316.89 2161.05 317.4 2166.09 C317.91 2171.12 319.09 2176.15 319.9 2181.19 C321.03 2188.23 323.2 2195.28 323.2 2202.33 C323.2 2206.35 322.46 2210.38 321.9 2214.4 C321.12 2219.94 319.28 2225.48 318.4 2231.01 C318 2233.53 317.4 2236.05 317.4 2238.56 C317.4 2243.6 318.97 2248.63 319.9 2253.66 C320.92 2259.2 322.82 2264.73 323.4 2270.27 L308.4 2270.27 C308.98 2264.73 310.88 2259.2 311.9 2253.66 C312.83 2248.63 314.4 2243.6 314.4 2238.56 C314.4 2236.05 313.8 2233.53 313.4 2231.01 C312.52 2225.48 310.68 2219.94 309.9 2214.4 C309.34 2210.38 308.6 2206.35 308.6 2202.33 C308.6 2195.28 310.77 2188.23 311.9 2181.19 C312.71 2176.15 313.89 2171.12 314.4 2166.09 C314.91 2161.05 315.5 2156.02 315.5 2150.99 C315.5 2138.91 315.43 2126.83 315.3 2114.75 C315.21 2106.7 313.9 2098.65 313.9 2090.59 C313.9 2082.79 314.32 2074.99 314.4 2067.19Z" fill="#a0004c" stroke="#000" stroke-width="1.15" stroke-linejoin="round"/>
<line x1="309.5" y1="2196.59" x2="322.3" y2="2196.59" stroke="#000" stroke-width="1.25" stroke-linecap="butt"/>
<line x1="309.5" y1="2210.33" x2="322.3" y2="2210.33" stroke="#000" stroke-width="2.6" stroke-linecap="butt"/>
<path d="M337.2 2084.55 L344.4 2084.55 C344.22 2088.58 343.66 2092.61 343.3 2096.63 C342.66 2103.68 341.4 2110.73 341.4 2117.77 C341.4 2122.3 341.87 2126.83 342.3 2131.36 C342.68 2135.39 343.57 2139.41 344.3 2143.44 C345.4 2149.48 348 2155.52 348 2161.56 C348 2168.1 347.8 2174.64 347.8 2181.19 C347.8 2191.25 347.8 2201.32 347.8 2211.38 C347.8 2216.42 344.78 2221.45 344.3 2226.48 C343.58 2234.03 343 2241.58 343 2249.13 C343 2256.18 344.92 2263.22 345.3 2270.27 L336.3 2270.27 C336.68 2263.22 338.6 2256.18 338.6 2249.13 C338.6 2241.58 338.02 2234.03 337.3 2226.48 C336.82 2221.45 333.8 2216.42 333.8 2211.38 C333.8 2201.32 333.8 2191.25 333.8 2181.19 C333.8 2174.64 333.6 2168.1 333.6 2161.56 C333.6 2155.52 336.2 2149.48 337.3 2143.44 C338.03 2139.41 338.92 2135.39 339.3 2131.36 C339.73 2126.83 340.2 2122.3 340.2 2117.77 C340.2 2110.73 338.94 2103.68 338.3 2096.63 C337.94 2092.61 337.38 2088.58 337.2 2084.55Z" fill="#9c6a20" stroke="#000" stroke-width="1.15" stroke-linejoin="round"/>
<line x1="333.9" y1="2161.56" x2="347.7" y2="2161.56" stroke="#000" stroke-width="1.25" stroke-linecap="butt"/>
<line x1="334.05" y1="2186.47" x2="347.55" y2="2186.47" stroke="#000" stroke-width="2.6" stroke-linecap="butt"/>
<line x1="334.05" y1="2210.63" x2="347.55" y2="2210.63" stroke="#000" stroke-width="1.25" stroke-linecap="butt"/>
<path d="M364.2 2072.47 L367.2 2072.47 C367.28 2078.51 367.7 2084.55 367.7 2090.59 C367.7 2097.14 366.41 2103.68 366.3 2110.22 C366.18 2117.27 366.1 2124.31 366.1 2131.36 C366.1 2137.9 366.76 2144.45 367.2 2150.99 C367.6 2157.03 368.15 2163.07 368.7 2169.11 C369.3 2175.65 369.96 2182.19 370.7 2188.74 C371.38 2194.78 373 2200.82 373 2206.85 C373 2213.4 371.52 2219.94 370.7 2226.48 C370.07 2231.52 369.33 2236.55 368.7 2241.58 C368.07 2246.62 367.03 2251.65 366.9 2256.68 C366.78 2261.21 366.73 2265.74 366.7 2270.27 L364.7 2270.27 C364.67 2265.74 364.62 2261.21 364.5 2256.68 C364.37 2251.65 363.33 2246.62 362.7 2241.58 C362.07 2236.55 361.33 2231.52 360.7 2226.48 C359.88 2219.94 358.4 2213.4 358.4 2206.85 C358.4 2200.82 360.02 2194.78 360.7 2188.74 C361.44 2182.19 362.1 2175.65 362.7 2169.11 C363.25 2163.07 363.8 2157.03 364.2 2150.99 C364.64 2144.45 365.3 2137.9 365.3 2131.36 C365.3 2124.31 365.22 2117.27 365.1 2110.22 C364.99 2103.68 363.7 2097.14 363.7 2090.59 C363.7 2084.55 364.12 2078.51 364.2 2072.47Z" fill="#9c6a20" stroke="#000" stroke-width="1.15" stroke-linejoin="round"/>
<line x1="363.03" y1="2168.81" x2="368.37" y2="2168.81" stroke="#000" stroke-width="1.25" stroke-linecap="butt"/>
<line x1="358.83" y1="2203.84" x2="372.57" y2="2203.84" stroke="#000" stroke-width="2.6" stroke-linecap="butt"/>
<line x1="360.96" y1="2226.18" x2="370.44" y2="2226.18" stroke="#000" stroke-width="1.25" stroke-linecap="butt"/>
<path d="M388.8 2115.56 L392.4 2115.56 C392.27 2118.18 391.89 2120.8 391.6 2123.42 C391.32 2125.93 390.66 2128.45 390.66 2130.96 C390.66 2132.98 391.43 2134.99 392.1 2137 C392.94 2139.52 395.93 2142.04 396.6 2144.55 C397.27 2147.07 397.9 2149.59 397.9 2152.1 C397.9 2156.63 397.81 2161.16 397.6 2165.69 C397.51 2167.71 396.56 2169.72 395.6 2171.73 C395.07 2172.84 393.52 2173.95 393.1 2175.05 L388.1 2175.05 C387.68 2173.95 386.13 2172.84 385.6 2171.73 C384.64 2169.72 383.69 2167.71 383.6 2165.69 C383.39 2161.16 383.3 2156.63 383.3 2152.1 C383.3 2149.59 383.93 2147.07 384.6 2144.55 C385.27 2142.04 388.26 2139.52 389.1 2137 C389.78 2134.99 390.54 2132.98 390.54 2130.96 C390.54 2128.45 389.88 2125.93 389.6 2123.42 C389.31 2120.8 388.93 2118.18 388.8 2115.56Z" fill="#ffe3e3" stroke="#000" stroke-width="1.15" stroke-linejoin="round"/>
<line x1="384.59" y1="2145.61" x2="396.61" y2="2145.61" stroke="#000" stroke-width="1.25" stroke-linecap="butt"/>
<line x1="383.53" y1="2153.92" x2="397.67" y2="2153.92" stroke="#000" stroke-width="2.6" stroke-linecap="butt"/>
<line x1="383.9" y1="2165.69" x2="397.3" y2="2165.69" stroke="#000" stroke-width="1.25" stroke-linecap="butt"/>
<path d="M412.5 2148.33 L418.5 2148.33 C418.33 2151.6 417.5 2154.87 417.5 2158.14 C417.5 2160.16 419.17 2162.17 420 2164.18 C421.04 2166.7 423.1 2169.22 423.1 2171.73 C423.1 2174.75 422.85 2177.77 422.5 2180.79 C422.21 2183.31 420.71 2185.82 419.5 2188.34 C418.89 2189.6 417.67 2190.86 417.3 2192.12 L413.7 2192.12 C413.33 2190.86 412.11 2189.6 411.5 2188.34 C410.29 2185.82 408.79 2183.31 408.5 2180.79 C408.15 2177.77 407.9 2174.75 407.9 2171.73 C407.9 2169.22 409.96 2166.7 411 2164.18 C411.83 2162.17 413.5 2160.16 413.5 2158.14 C413.5 2154.87 412.67 2151.6 412.5 2148.33Z" fill="#ffe3e3" stroke="#000" stroke-width="1.15" stroke-linejoin="round"/>
<line x1="411.16" y1="2164.48" x2="419.84" y2="2164.48" stroke="#000" stroke-width="1.25" stroke-linecap="butt"/>
<line x1="408.14" y1="2172.49" x2="422.86" y2="2172.49" stroke="#000" stroke-width="2.6" stroke-linecap="butt"/>
<line x1="408.8" y1="2180.79" x2="422.2" y2="2180.79" stroke="#000" stroke-width="1.25" stroke-linecap="butt"/>
<path d="M433.2 2117.38 L447.6 2117.38 C447.7 2119.89 448.2 2122.41 448.2 2124.93 C448.2 2127.95 447.05 2130.96 446.4 2133.98 C445.64 2137.51 444.55 2141.03 443.9 2144.55 C443.07 2149.08 442.29 2153.61 441.9 2158.14 C441.42 2163.68 440.9 2169.22 440.9 2174.75 C440.9 2178.27 441.9 2181.8 441.9 2185.32 C441.9 2188.84 441.15 2192.37 440.9 2195.89 C440.72 2198.41 440.46 2200.92 440.46 2203.44 C440.46 2223.07 440.46 2242.7 440.46 2262.33 C440.46 2264.84 441.24 2267.36 441.4 2269.87 L439.4 2269.87 C439.56 2267.36 440.34 2264.84 440.34 2262.33 C440.34 2242.7 440.34 2223.07 440.34 2203.44 C440.34 2200.92 440.08 2198.41 439.9 2195.89 C439.65 2192.37 438.9 2188.84 438.9 2185.32 C438.9 2181.8 439.9 2178.27 439.9 2174.75 C439.9 2169.22 439.38 2163.68 438.9 2158.14 C438.51 2153.61 437.73 2149.08 436.9 2144.55 C436.25 2141.03 435.16 2137.51 434.4 2133.98 C433.75 2130.96 432.6 2127.95 432.6 2124.93 C432.6 2122.41 433.1 2119.89 433.2 2117.38Z" fill="#d0006c" stroke="#000" stroke-width="1.15" stroke-linejoin="round"/>
<line x1="432.92" y1="2123.42" x2="447.88" y2="2123.42" stroke="#000" stroke-width="1.25" stroke-linecap="butt"/>
<line x1="434.63" y1="2133.68" x2="446.17" y2="2133.68" stroke="#000" stroke-width="2.6" stroke-linecap="butt"/>
<line x1="439.2" y1="2158.14" x2="441.6" y2="2158.14" stroke="#000" stroke-width="1.25" stroke-linecap="butt"/>
<path d="M462.9 2133.68 L467.7 2133.68 C467.72 2137.31 467.73 2140.93 467.8 2144.55 C467.84 2146.57 469.48 2148.58 470.3 2150.59 C471.32 2153.11 473.3 2155.63 473.3 2158.14 C473.3 2160.66 470.68 2163.18 469.8 2165.69 C468.75 2168.71 467.83 2171.73 467.3 2174.75 C466.95 2176.76 466.5 2178.78 466.5 2180.79 C466.5 2184.31 467.6 2187.84 467.6 2191.36 C467.6 2195.39 466.62 2199.41 466.3 2203.44 C466.1 2205.96 465.8 2208.47 465.8 2210.99 C465.8 2214.01 465.8 2217.03 465.8 2220.05 C465.8 2222.06 466.47 2224.07 466.6 2226.09 L464 2226.09 C464.13 2224.07 464.8 2222.06 464.8 2220.05 C464.8 2217.03 464.8 2214.01 464.8 2210.99 C464.8 2208.47 464.5 2205.96 464.3 2203.44 C463.98 2199.41 463 2195.39 463 2191.36 C463 2187.84 464.1 2184.31 464.1 2180.79 C464.1 2178.78 463.65 2176.76 463.3 2174.75 C462.77 2171.73 461.85 2168.71 460.8 2165.69 C459.92 2163.18 457.3 2160.66 457.3 2158.14 C457.3 2155.63 459.28 2153.11 460.3 2150.59 C461.12 2148.58 462.76 2146.57 462.8 2144.55 C462.87 2140.93 462.88 2137.31 462.9 2133.68Z" fill="#d0006c" stroke="#000" stroke-width="1.15" stroke-linejoin="round"/>
<line x1="459.33" y1="2153.16" x2="471.27" y2="2153.16" stroke="#000" stroke-width="1.25" stroke-linecap="butt"/>
<line x1="457.96" y1="2159.35" x2="472.64" y2="2159.35" stroke="#000" stroke-width="2.6" stroke-linecap="butt"/>
<line x1="464.4" y1="2180.79" x2="466.2" y2="2180.79" stroke="#000" stroke-width="1.25" stroke-linecap="butt"/>
<path d="M483.4 2126.44 L497 2126.44 C496.95 2129.45 496.87 2132.47 496.7 2135.49 C496.58 2137.51 495.7 2139.52 495.7 2141.53 C495.7 2144.55 498 2147.57 498 2150.59 C498 2153.11 496.17 2155.63 495.2 2158.14 C494.23 2160.66 492.54 2163.18 492.2 2165.69 C491.32 2172.24 490.8 2178.78 490.8 2185.32 C490.8 2188.84 492.2 2192.37 492.2 2195.89 C492.2 2199.16 491.78 2202.43 491.7 2205.7 L488.7 2205.7 C488.62 2202.43 488.2 2199.16 488.2 2195.89 C488.2 2192.37 489.6 2188.84 489.6 2185.32 C489.6 2178.78 489.08 2172.24 488.2 2165.69 C487.86 2163.18 486.17 2160.66 485.2 2158.14 C484.23 2155.63 482.4 2153.11 482.4 2150.59 C482.4 2147.57 484.7 2144.55 484.7 2141.53 C484.7 2139.52 483.82 2137.51 483.7 2135.49 C483.53 2132.47 483.45 2129.45 483.4 2126.44Z" fill="#a50000" stroke="#000" stroke-width="1.15" stroke-linejoin="round"/>
<line x1="483.81" y1="2131.72" x2="496.59" y2="2131.72" stroke="#000" stroke-width="1.25" stroke-linecap="butt"/>
<line x1="482.83" y1="2149.54" x2="497.57" y2="2149.54" stroke="#000" stroke-width="2.6" stroke-linecap="butt"/>
<line x1="485.97" y1="2159.2" x2="494.43" y2="2159.2" stroke="#000" stroke-width="1.25" stroke-linecap="butt"/>
<path d="M513.6 2118.58 L516.6 2118.58 C516.57 2123.21 516.4 2127.84 516.4 2132.47 C516.4 2136.5 517.34 2140.53 518.1 2144.55 C518.67 2147.57 520.04 2150.59 520.6 2153.61 C521.53 2158.65 522.6 2163.68 522.6 2168.71 C522.6 2171.73 520.33 2174.75 519.6 2177.77 C518.75 2181.29 518.23 2184.82 517.6 2188.34 C517.15 2190.86 516.3 2193.37 516.3 2195.89 C516.3 2198.66 516.55 2201.43 516.6 2204.19 L513.6 2204.19 C513.65 2201.43 513.9 2198.66 513.9 2195.89 C513.9 2193.37 513.05 2190.86 512.6 2188.34 C511.97 2184.82 511.45 2181.29 510.6 2177.77 C509.87 2174.75 507.6 2171.73 507.6 2168.71 C507.6 2163.68 508.67 2158.65 509.6 2153.61 C510.16 2150.59 511.53 2147.57 512.1 2144.55 C512.86 2140.53 513.8 2136.5 513.8 2132.47 C513.8 2127.84 513.63 2123.21 513.6 2118.58Z" fill="#a50000" stroke="#000" stroke-width="1.15" stroke-linejoin="round"/>
<line x1="509.84" y1="2153.92" x2="520.36" y2="2153.92" stroke="#000" stroke-width="1.25" stroke-linecap="butt"/>
<line x1="507.9" y1="2167.96" x2="522.3" y2="2167.96" stroke="#000" stroke-width="2.6" stroke-linecap="butt"/>
<line x1="509.8" y1="2174.75" x2="520.4" y2="2174.75" stroke="#000" stroke-width="1.25" stroke-linecap="butt"/>
<path d="M537.2 2124.17 L542.8 2124.17 C543.08 2126.94 543.93 2129.71 544.5 2132.47 C545.53 2137.51 547.6 2142.54 547.6 2147.57 C547.6 2150.59 545.5 2153.61 545.5 2156.63 C545.5 2159.65 546.5 2162.67 546.5 2165.69 C546.5 2168.71 545.2 2171.73 544.5 2174.75 C543.8 2177.77 542.3 2180.79 542.3 2183.81 C542.3 2186.83 542.3 2189.85 542.3 2192.87 L537.7 2192.87 C537.7 2189.85 537.7 2186.83 537.7 2183.81 C537.7 2180.79 536.2 2177.77 535.5 2174.75 C534.8 2171.73 533.5 2168.71 533.5 2165.69 C533.5 2162.67 534.5 2159.65 534.5 2156.63 C534.5 2153.61 532.4 2150.59 532.4 2147.57 C532.4 2142.54 534.47 2137.51 535.5 2132.47 C536.07 2129.71 536.92 2126.94 537.2 2124.17Z" fill="#ffc285" stroke="#000" stroke-width="1.15" stroke-linejoin="round"/>
<line x1="532.97" y1="2144.86" x2="547.03" y2="2144.86" stroke="#000" stroke-width="1.25" stroke-linecap="butt"/>
<line x1="534.43" y1="2154.67" x2="545.57" y2="2154.67" stroke="#000" stroke-width="2.6" stroke-linecap="butt"/>
<line x1="535.22" y1="2172.49" x2="544.78" y2="2172.49" stroke="#000" stroke-width="1.25" stroke-linecap="butt"/>
<path d="M563.4 2132.17 L566.4 2132.17 C566.57 2136.3 566.9 2140.43 567.4 2144.55 C567.77 2147.57 568.7 2150.59 569.4 2153.61 C570.34 2157.64 572.4 2161.67 572.4 2165.69 C572.4 2170.73 571.44 2175.76 570.4 2180.79 C569.67 2184.31 566.1 2187.84 566.1 2191.36 C566.1 2195.39 566.1 2199.41 566.1 2203.44 C566.1 2206.96 565.47 2210.49 565.4 2214.01 C565.09 2229.61 564.96 2245.21 564.96 2260.82 C564.96 2263.58 565.91 2266.35 566.1 2269.12 L563.7 2269.12 C563.89 2266.35 564.84 2263.58 564.84 2260.82 C564.84 2245.21 564.71 2229.61 564.4 2214.01 C564.33 2210.49 563.7 2206.96 563.7 2203.44 C563.7 2199.41 563.7 2195.39 563.7 2191.36 C563.7 2187.84 560.13 2184.31 559.4 2180.79 C558.36 2175.76 557.4 2170.73 557.4 2165.69 C557.4 2161.67 559.46 2157.64 560.4 2153.61 C561.1 2150.59 562.03 2147.57 562.4 2144.55 C562.9 2140.43 563.23 2136.3 563.4 2132.17Z" fill="#ffc285" stroke="#000" stroke-width="1.15" stroke-linejoin="round"/>
<line x1="558.99" y1="2159.35" x2="570.81" y2="2159.35" stroke="#000" stroke-width="1.25" stroke-linecap="butt"/>
<line x1="557.75" y1="2169.01" x2="572.05" y2="2169.01" stroke="#000" stroke-width="2.6" stroke-linecap="butt"/>
<line x1="559.7" y1="2180.79" x2="570.1" y2="2180.79" stroke="#000" stroke-width="1.25" stroke-linecap="butt"/>
<path d="M588.8 2113.15 L590.8 2113.15 C590.8 2120.6 590.8 2128.05 590.8 2135.49 C590.8 2141.53 590.88 2147.57 591 2153.61 C591.14 2160.66 592.25 2167.71 592.8 2174.75 C593.35 2181.8 594.3 2188.84 594.3 2195.89 C594.3 2200.92 594.08 2205.96 593.8 2210.99 C593.52 2216.02 591.66 2221.05 591.3 2226.09 C591.16 2228.1 591 2230.11 591 2232.13 C591 2237.66 592.41 2243.2 593.3 2248.74 C594.4 2255.53 596.63 2262.33 597.3 2269.12 L582.3 2269.12 C582.97 2262.33 585.2 2255.53 586.3 2248.74 C587.19 2243.2 588.6 2237.66 588.6 2232.13 C588.6 2230.11 588.44 2228.1 588.3 2226.09 C587.94 2221.05 586.08 2216.02 585.8 2210.99 C585.52 2205.96 585.3 2200.92 585.3 2195.89 C585.3 2188.84 586.25 2181.8 586.8 2174.75 C587.35 2167.71 588.46 2160.66 588.6 2153.61 C588.72 2147.57 588.8 2141.53 588.8 2135.49 C588.8 2128.05 588.8 2120.6 588.8 2113.15Z" fill="#ff1a8c" stroke="#000" stroke-width="1.15" stroke-linejoin="round"/>
<line x1="585.68" y1="2193.63" x2="593.92" y2="2193.63" stroke="#000" stroke-width="1.25" stroke-linecap="butt"/>
<line x1="588.9" y1="2232.13" x2="590.7" y2="2232.13" stroke="#000" stroke-width="2.6" stroke-linecap="butt"/>
<path d="M613.9 2138.21 L615.5 2138.21 C615.45 2147.37 615.2 2156.53 615.2 2165.69 C615.2 2170.73 615.87 2175.76 616.2 2180.79 C616.53 2185.82 617.2 2190.86 617.2 2195.89 C617.2 2200.92 617.2 2205.96 617.2 2210.99 C617.2 2218.54 615.7 2226.09 615.7 2233.64 C615.7 2238.67 616.5 2243.7 617.2 2248.74 C618.14 2255.53 621.37 2262.33 622.2 2269.12 L607.2 2269.12 C608.03 2262.33 611.26 2255.53 612.2 2248.74 C612.9 2243.7 613.7 2238.67 613.7 2233.64 C613.7 2226.09 612.2 2218.54 612.2 2210.99 C612.2 2205.96 612.2 2200.92 612.2 2195.89 C612.2 2190.86 612.87 2185.82 613.2 2180.79 C613.53 2175.76 614.2 2170.73 614.2 2165.69 C614.2 2156.53 613.95 2147.37 613.9 2138.21Z" fill="#ff1a8c" stroke="#000" stroke-width="1.15" stroke-linejoin="round"/>
<line x1="612.38" y1="2206.46" x2="617.02" y2="2206.46" stroke="#000" stroke-width="1.25" stroke-linecap="butt"/>
<path d="M636.4 2115.19 L642.8 2115.19 C643.18 2118.74 644.47 2122.3 645.1 2125.85 C646.02 2131.08 647.4 2136.3 647.4 2141.53 C647.4 2144.67 646.6 2147.8 646.1 2150.94 C645.27 2156.16 644.01 2161.39 643.1 2166.62 C642.19 2171.84 640.6 2177.07 640.6 2182.3 C640.6 2186.48 640.8 2190.66 640.8 2194.84 C640.8 2199.02 640.07 2203.2 640 2207.38 C639.77 2220.97 639.66 2234.56 639.66 2248.15 C639.66 2250.76 640.26 2253.37 640.6 2255.99 C641.21 2260.69 642.27 2265.39 642.6 2270.1 L636.6 2270.1 C636.93 2265.39 637.99 2260.69 638.6 2255.99 C638.94 2253.37 639.54 2250.76 639.54 2248.15 C639.54 2234.56 639.43 2220.97 639.2 2207.38 C639.13 2203.2 638.4 2199.02 638.4 2194.84 C638.4 2190.66 638.6 2186.48 638.6 2182.3 C638.6 2177.07 637.01 2171.84 636.1 2166.62 C635.19 2161.39 633.93 2156.16 633.1 2150.94 C632.6 2147.8 631.8 2144.67 631.8 2141.53 C631.8 2136.3 633.18 2131.08 634.1 2125.85 C634.73 2122.3 636.02 2118.74 636.4 2115.19Z" fill="#ff8000" stroke="#000" stroke-width="1.15" stroke-linejoin="round"/>
<line x1="633.26" y1="2132.12" x2="645.94" y2="2132.12" stroke="#000" stroke-width="1.25" stroke-linecap="butt"/>
<line x1="633.01" y1="2148.9" x2="646.19" y2="2148.9" stroke="#000" stroke-width="2.6" stroke-linecap="butt"/>
<line x1="637.18" y1="2170.85" x2="642.02" y2="2170.85" stroke="#000" stroke-width="1.25" stroke-linecap="butt"/>
<path d="M663 2129.46 L666 2129.46 C666 2135.57 666 2141.69 666 2147.8 C666 2150.94 667.53 2154.07 668.5 2157.21 C669.47 2160.34 672 2163.48 672 2166.62 C672 2169.75 670.28 2172.89 669.5 2176.02 C668.07 2181.77 665.5 2187.52 665.5 2193.27 C665.5 2196.93 667 2200.59 667 2204.25 C667 2208.43 666.06 2212.61 665.5 2216.79 C665.22 2218.88 664.56 2220.97 664.56 2223.06 C664.56 2235.6 664.56 2248.15 664.56 2260.69 C664.56 2263.83 665.34 2266.96 665.5 2270.1 L663.5 2270.1 C663.66 2266.96 664.44 2263.83 664.44 2260.69 C664.44 2248.15 664.44 2235.6 664.44 2223.06 C664.44 2220.97 663.78 2218.88 663.5 2216.79 C662.94 2212.61 662 2208.43 662 2204.25 C662 2200.59 663.5 2196.93 663.5 2193.27 C663.5 2187.52 660.93 2181.77 659.5 2176.02 C658.72 2172.89 657 2169.75 657 2166.62 C657 2163.48 659.53 2160.34 660.5 2157.21 C661.47 2154.07 663 2150.94 663 2147.8 C663 2141.69 663 2135.57 663 2129.46Z" fill="#ff8000" stroke="#000" stroke-width="1.15" stroke-linejoin="round"/>
<line x1="658.74" y1="2161.91" x2="670.26" y2="2161.91" stroke="#000" stroke-width="1.25" stroke-linecap="butt"/>
<line x1="658.06" y1="2170.85" x2="670.94" y2="2170.85" stroke="#000" stroke-width="2.6" stroke-linecap="butt"/>
<line x1="663.8" y1="2193.27" x2="665.2" y2="2193.27" stroke="#000" stroke-width="1.25" stroke-linecap="butt"/>
<path d="M686.6 2137.3 L692.2 2137.3 C692.07 2141.32 691.4 2145.35 691.4 2149.37 C691.4 2153.03 692.61 2156.69 693.4 2160.34 C694.41 2165.05 697.2 2169.75 697.2 2174.46 C697.2 2178.11 694.32 2181.77 693.4 2185.43 C692.09 2190.66 690.73 2195.88 690.4 2201.11 C690.07 2206.34 689.8 2211.56 689.8 2216.79 C689.8 2227.24 689.8 2237.69 689.8 2248.15 C689.8 2252.33 690.42 2256.51 690.9 2260.69 C691.26 2263.83 692.15 2266.96 692.4 2270.1 L686.4 2270.1 C686.65 2266.96 687.54 2263.83 687.9 2260.69 C688.38 2256.51 689 2252.33 689 2248.15 C689 2237.69 689 2227.24 689 2216.79 C689 2211.56 688.73 2206.34 688.4 2201.11 C688.07 2195.88 686.71 2190.66 685.4 2185.43 C684.48 2181.77 681.6 2178.11 681.6 2174.46 C681.6 2169.75 684.39 2165.05 685.4 2160.34 C686.19 2156.69 687.4 2153.03 687.4 2149.37 C687.4 2145.35 686.73 2141.32 686.6 2137.3Z" fill="#d4d4d4" stroke="#000" stroke-width="1.15" stroke-linejoin="round"/>
<line x1="686.36" y1="2157.52" x2="692.44" y2="2157.52" stroke="#000" stroke-width="1.25" stroke-linecap="butt"/>
<line x1="681.94" y1="2173.99" x2="696.86" y2="2173.99" stroke="#000" stroke-width="2.6" stroke-linecap="butt"/>
<line x1="685.16" y1="2183.86" x2="693.64" y2="2183.86" stroke="#000" stroke-width="1.25" stroke-linecap="butt"/>
<path d="M712.5 2123.97 L716.1 2123.97 C716.3 2128.78 716.82 2133.59 717.3 2138.39 C717.82 2143.62 718.55 2148.85 719.3 2154.07 C720.05 2159.3 721.86 2164.53 721.9 2169.75 C721.97 2180.2 722 2190.66 722 2201.11 C722 2206.34 721.71 2211.56 721.3 2216.79 C720.97 2220.97 718.71 2225.15 717.8 2229.33 C716.78 2234.04 715.3 2238.74 715.3 2243.44 C715.3 2247.62 715.92 2251.81 716.3 2255.99 C716.73 2260.69 717.55 2265.39 717.8 2270.1 L710.8 2270.1 C711.05 2265.39 711.87 2260.69 712.3 2255.99 C712.68 2251.81 713.3 2247.62 713.3 2243.44 C713.3 2238.74 711.82 2234.04 710.8 2229.33 C709.89 2225.15 707.63 2220.97 707.3 2216.79 C706.89 2211.56 706.6 2206.34 706.6 2201.11 C706.6 2190.66 706.63 2180.2 706.7 2169.75 C706.74 2164.53 708.55 2159.3 709.3 2154.07 C710.05 2148.85 710.78 2143.62 711.3 2138.39 C711.78 2133.59 712.3 2128.78 712.5 2123.97Z" fill="#d4d4d4" stroke="#000" stroke-width="1.15" stroke-linejoin="round"/>
<line x1="707.61" y1="2164.74" x2="720.99" y2="2164.74" stroke="#000" stroke-width="1.25" stroke-linecap="butt"/>
<line x1="706.72" y1="2189.82" x2="721.88" y2="2189.82" stroke="#000" stroke-width="2.6" stroke-linecap="butt"/>
<line x1="708.64" y1="2221.18" x2="719.96" y2="2221.18" stroke="#000" stroke-width="1.25" stroke-linecap="butt"/>
<path d="M732.4 2123.5 L746 2123.5 C746.12 2126.9 746.7 2130.29 746.7 2133.69 C746.7 2137.87 744.38 2142.05 743.7 2146.23 C743.28 2148.85 742.7 2151.46 742.7 2154.07 C742.7 2159.3 742.98 2164.53 743.2 2169.75 C743.42 2174.98 744.2 2180.2 744.2 2185.43 C744.2 2190.66 742.94 2195.88 742.2 2201.11 C741.6 2205.29 740.4 2209.47 740.2 2213.65 C739.9 2219.92 739.7 2226.2 739.7 2232.47 C739.7 2245.01 739.95 2257.55 740 2270.1 L738.4 2270.1 C738.45 2257.55 738.7 2245.01 738.7 2232.47 C738.7 2226.2 738.5 2219.92 738.2 2213.65 C738 2209.47 736.8 2205.29 736.2 2201.11 C735.46 2195.88 734.2 2190.66 734.2 2185.43 C734.2 2180.2 734.98 2174.98 735.2 2169.75 C735.42 2164.53 735.7 2159.3 735.7 2154.07 C735.7 2151.46 735.12 2148.85 734.7 2146.23 C734.02 2142.05 731.7 2137.87 731.7 2133.69 C731.7 2130.29 732.28 2126.9 732.4 2123.5Z" fill="#90c0f5" stroke="#000" stroke-width="1.15" stroke-linejoin="round"/>
<line x1="731.94" y1="2132.12" x2="746.46" y2="2132.12" stroke="#000" stroke-width="1.25" stroke-linecap="butt"/>
<line x1="735.98" y1="2153.76" x2="742.42" y2="2153.76" stroke="#000" stroke-width="2.6" stroke-linecap="butt"/>
<line x1="734.91" y1="2190.45" x2="743.49" y2="2190.45" stroke="#000" stroke-width="1.25" stroke-linecap="butt"/>
<path d="M761.5 2133.38 L766.7 2133.38 C766.85 2138.19 767.16 2142.99 767.6 2147.8 C768.03 2152.51 769.49 2157.21 770.1 2161.91 C770.78 2167.14 771.7 2172.37 771.7 2177.59 C771.7 2182.82 771.11 2188.04 770.6 2193.27 C770.09 2198.5 768.82 2203.72 768.1 2208.95 C767.02 2216.79 765.46 2224.63 765.3 2232.47 C765.18 2238.22 765.1 2243.97 765.1 2249.71 C765.1 2253.37 766.48 2257.03 767.1 2260.69 C767.63 2263.83 768.35 2266.96 768.6 2270.1 L759.6 2270.1 C759.85 2266.96 760.57 2263.83 761.1 2260.69 C761.72 2257.03 763.1 2253.37 763.1 2249.71 C763.1 2243.97 763.02 2238.22 762.9 2232.47 C762.74 2224.63 761.18 2216.79 760.1 2208.95 C759.38 2203.72 758.11 2198.5 757.6 2193.27 C757.09 2188.04 756.5 2182.82 756.5 2177.59 C756.5 2172.37 757.42 2167.14 758.1 2161.91 C758.71 2157.21 760.17 2152.51 760.6 2147.8 C761.04 2142.99 761.35 2138.19 761.5 2133.38Z" fill="#90c0f5" stroke="#000" stroke-width="1.15" stroke-linejoin="round"/>
<line x1="757.49" y1="2168.65" x2="770.71" y2="2168.65" stroke="#000" stroke-width="1.25" stroke-linecap="butt"/>
<line x1="757.16" y1="2186.22" x2="771.04" y2="2186.22" stroke="#000" stroke-width="2.6" stroke-linecap="butt"/>
<line x1="763.32" y1="2250.5" x2="764.88" y2="2250.5" stroke="#000" stroke-width="1.25" stroke-linecap="butt"/>
<path d="M787.6 2086.34 L790.4 2086.34 C790.38 2099.51 790.36 2112.68 790.3 2125.85 C790.25 2135.26 789.5 2144.67 789.5 2154.07 C789.5 2159.3 790.42 2164.53 791 2169.75 C791.87 2177.59 794.2 2185.43 794.2 2193.27 C794.2 2198.5 793.54 2203.72 793 2208.95 C792.46 2214.18 790.86 2219.4 790.5 2224.63 C790.14 2229.85 789.8 2235.08 789.8 2240.31 C789.8 2245.53 790.97 2250.76 792 2255.99 C792.92 2260.69 795.75 2265.39 796.5 2270.1 L781.5 2270.1 C782.25 2265.39 785.08 2260.69 786 2255.99 C787.03 2250.76 788.2 2245.53 788.2 2240.31 C788.2 2235.08 787.86 2229.85 787.5 2224.63 C787.14 2219.4 785.54 2214.18 785 2208.95 C784.46 2203.72 783.8 2198.5 783.8 2193.27 C783.8 2185.43 786.13 2177.59 787 2169.75 C787.58 2164.53 788.5 2159.3 788.5 2154.07 C788.5 2144.67 787.75 2135.26 787.7 2125.85 C787.64 2112.68 787.62 2099.51 787.6 2086.34Z" fill="#ffffff" stroke="#000" stroke-width="1.15" stroke-linejoin="round"/>
<line x1="784.65" y1="2187.31" x2="793.35" y2="2187.31" stroke="#000" stroke-width="1.25" stroke-linecap="butt"/>
<line x1="788.5" y1="2240.31" x2="789.5" y2="2240.31" stroke="#000" stroke-width="2.6" stroke-linecap="butt"/>
<path d="M813.3 2141.53 L814.5 2141.53 C814.48 2150.94 814.4 2160.34 814.4 2169.75 C814.4 2174.98 815.33 2180.2 815.9 2185.43 C816.76 2193.27 819 2201.11 819 2208.95 C819 2214.18 818.05 2219.4 817.4 2224.63 C816.75 2229.85 815.28 2235.08 814.9 2240.31 C814.71 2242.92 814.5 2245.53 814.5 2248.15 C814.5 2251.28 815.97 2254.42 816.9 2257.55 C818.14 2261.74 820.65 2265.92 821.4 2270.1 L806.4 2270.1 C807.15 2265.92 809.66 2261.74 810.9 2257.55 C811.83 2254.42 813.3 2251.28 813.3 2248.15 C813.3 2245.53 813.09 2242.92 812.9 2240.31 C812.52 2235.08 811.05 2229.85 810.4 2224.63 C809.75 2219.4 808.8 2214.18 808.8 2208.95 C808.8 2201.11 811.04 2193.27 811.9 2185.43 C812.47 2180.2 813.4 2174.98 813.4 2169.75 C813.4 2160.34 813.32 2150.94 813.3 2141.53Z" fill="#ffffff" stroke="#000" stroke-width="1.15" stroke-linejoin="round"/>
<line x1="809.1" y1="2208.95" x2="818.7" y2="2208.95" stroke="#000" stroke-width="1.25" stroke-linecap="butt"/>
<line x1="813.63" y1="2247.36" x2="814.17" y2="2247.36" stroke="#000" stroke-width="2.6" stroke-linecap="butt"/>
<path d="M833.5 2142 L844.1 2142 C844.45 2146.02 846.16 2150.05 846.2 2154.07 C846.27 2161.91 846.3 2169.75 846.3 2177.59 C846.3 2182.82 845.78 2188.04 845.3 2193.27 C844.82 2198.5 843.63 2203.72 842.8 2208.95 C841.97 2214.18 840.3 2219.4 840.3 2224.63 C840.3 2229.85 840.3 2235.08 840.3 2240.31 C840.3 2245.53 841.15 2250.76 841.8 2255.99 C842.39 2260.69 843.88 2265.39 844.3 2270.1 L833.3 2270.1 C833.72 2265.39 835.21 2260.69 835.8 2255.99 C836.45 2250.76 837.3 2245.53 837.3 2240.31 C837.3 2235.08 837.3 2229.85 837.3 2224.63 C837.3 2219.4 835.63 2214.18 834.8 2208.95 C833.97 2203.72 832.78 2198.5 832.3 2193.27 C831.82 2188.04 831.3 2182.82 831.3 2177.59 C831.3 2169.75 831.33 2161.91 831.4 2154.07 C831.44 2150.05 833.15 2146.02 833.5 2142Z" fill="#40f0b0" stroke="#000" stroke-width="1.15" stroke-linejoin="round"/>
<line x1="831.41" y1="2162.38" x2="846.19" y2="2162.38" stroke="#000" stroke-width="1.25" stroke-linecap="butt"/>
<line x1="831.96" y1="2185.9" x2="845.64" y2="2185.9" stroke="#000" stroke-width="2.6" stroke-linecap="butt"/>
<line x1="834.54" y1="2265.08" x2="843.06" y2="2265.08" stroke="#000" stroke-width="1.25" stroke-linecap="butt"/>
<path d="M861.5 2172.57 L865.9 2172.57 C866.2 2176.86 867.04 2181.15 867.7 2185.43 C868.5 2190.66 870.4 2195.88 870.4 2201.11 C870.4 2206.34 868.47 2211.56 867.7 2216.79 C866.93 2222.02 866.49 2227.24 865.7 2232.47 C865.3 2235.08 864.3 2237.69 864.3 2240.31 C864.3 2242.92 864.77 2245.53 865.2 2248.15 C865.88 2252.33 868.14 2256.51 869.2 2260.69 C869.99 2263.83 870.87 2266.96 871.2 2270.1 L856.2 2270.1 C856.53 2266.96 857.41 2263.83 858.2 2260.69 C859.26 2256.51 861.52 2252.33 862.2 2248.15 C862.63 2245.53 863.1 2242.92 863.1 2240.31 C863.1 2237.69 862.1 2235.08 861.7 2232.47 C860.91 2227.24 860.47 2222.02 859.7 2216.79 C858.93 2211.56 857 2206.34 857 2201.11 C857 2195.88 858.9 2190.66 859.7 2185.43 C860.36 2181.15 861.2 2176.86 861.5 2172.57Z" fill="#40f0b0" stroke="#000" stroke-width="1.15" stroke-linejoin="round"/>
<line x1="857.62" y1="2197.19" x2="869.78" y2="2197.19" stroke="#000" stroke-width="1.25" stroke-linecap="butt"/>
<line x1="860.43" y1="2219.92" x2="866.97" y2="2219.92" stroke="#000" stroke-width="2.6" stroke-linecap="butt"/>
<line x1="140.8" y1="2063.7" x2="166.1" y2="2063.7" stroke="#000" stroke-width="2.6" stroke-linecap="butt"/>
<text x="153.2" y="2059.6" font-size="12.5" text-anchor="middle" fill="#000">#</text>
<line x1="191.3" y1="2073.5" x2="216.6" y2="2073.5" stroke="#000" stroke-width="2.6" stroke-linecap="butt"/>
<text x="203" y="2069.5" font-size="12.5" text-anchor="middle" fill="#000">#</text>
<line x1="240.8" y1="2040.8" x2="266.5" y2="2040.8" stroke="#000" stroke-width="2.6" stroke-linecap="butt"/>
<text x="254.1" y="2034.7" font-size="12.5" text-anchor="middle" fill="#000">#</text>
<line x1="391.1" y1="2101.8" x2="416.5" y2="2101.8" stroke="#000" stroke-width="2.6" stroke-linecap="butt"/>
<text x="404.4" y="2102.3" font-size="18" text-anchor="middle" fill="#000" letter-spacing="3">**</text>
<line x1="442.5" y1="2101.8" x2="467.8" y2="2101.8" stroke="#000" stroke-width="2.6" stroke-linecap="butt"/>
<text x="454.6" y="2102.3" font-size="18" text-anchor="middle" fill="#000">*</text>
<line x1="488.8" y1="2109.8" x2="514.2" y2="2109.8" stroke="#000" stroke-width="2.6" stroke-linecap="butt"/>
<text x="502.1" y="2103.8" font-size="12.5" text-anchor="middle" fill="#000">#</text>
<line x1="539.4" y1="2111.8" x2="564.8" y2="2111.8" stroke="#000" stroke-width="2.6" stroke-linecap="butt"/>
<text x="552.7" y="2105.3" font-size="12.5" text-anchor="middle" fill="#000">#</text>
<line x1="592.3" y1="2099.6" x2="617.6" y2="2099.6" stroke="#000" stroke-width="2.6" stroke-linecap="butt"/>
<text x="605.5" y="2093.2" font-size="12.5" text-anchor="middle" fill="#000">#</text>
<line x1="639.1" y1="2104.4" x2="664.7" y2="2104.4" stroke="#000" stroke-width="2.6" stroke-linecap="butt"/>
<text x="652.5" y="2097.6" font-size="12.5" text-anchor="middle" fill="#000">#</text>
<line x1="689.3" y1="2111.7" x2="714.9" y2="2111.7" stroke="#000" stroke-width="2.6" stroke-linecap="butt"/>
<text x="702.8" y="2105.5" font-size="12.5" text-anchor="middle" fill="#000">#</text>
<line x1="740.4" y1="2108.1" x2="765.8" y2="2108.1" stroke="#000" stroke-width="2.6" stroke-linecap="butt"/>
<text x="754" y="2109" font-size="18" text-anchor="middle" fill="#000" letter-spacing="3">**</text>
<line x1="841.4" y1="2134" x2="866.9" y2="2134" stroke="#000" stroke-width="2.6" stroke-linecap="butt"/>
<text x="854.7" y="2128.2" font-size="12.5" text-anchor="middle" fill="#000">#</text>
<text x="1067.3" y="1977.8" font-size="60" font-weight="bold" fill="#000">j</text>
<line x1="1166" y1="2007.44" x2="1166" y2="2259" stroke="#000" stroke-width="2.4" stroke-linecap="butt"/>
<line x1="1164.8" y1="2257.8" x2="1922.4" y2="2257.8" stroke="#000" stroke-width="2.4" stroke-linecap="butt"/>
<line x1="1155.5" y1="2257.8" x2="1166" y2="2257.8" stroke="#000" stroke-width="2.4" stroke-linecap="butt"/>
<text x="1152.5" y="2264.64" font-size="19" text-anchor="end" fill="#000">0</text>
<line x1="1155.5" y1="2195.46" x2="1166" y2="2195.46" stroke="#000" stroke-width="2.4" stroke-linecap="butt"/>
<text x="1152.5" y="2202.3" font-size="19" text-anchor="end" fill="#000">2</text>
<line x1="1155.5" y1="2133.12" x2="1166" y2="2133.12" stroke="#000" stroke-width="2.4" stroke-linecap="butt"/>
<text x="1152.5" y="2139.96" font-size="19" text-anchor="end" fill="#000">4</text>
<line x1="1155.5" y1="2070.78" x2="1166" y2="2070.78" stroke="#000" stroke-width="2.4" stroke-linecap="butt"/>
<text x="1152.5" y="2077.62" font-size="19" text-anchor="end" fill="#000">6</text>
<line x1="1155.5" y1="2008.44" x2="1166" y2="2008.44" stroke="#000" stroke-width="2.4" stroke-linecap="butt"/>
<text x="1152.5" y="2015.28" font-size="19" text-anchor="end" fill="#000">8</text>
<line x1="1182.2" y1="2257.8" x2="1182.2" y2="2268.3" stroke="#000" stroke-width="2.4" stroke-linecap="butt"/>
<line x1="1207.1" y1="2257.8" x2="1207.1" y2="2268.3" stroke="#000" stroke-width="2.4" stroke-linecap="butt"/>
<line x1="1232" y1="2257.8" x2="1232" y2="2268.3" stroke="#000" stroke-width="2.4" stroke-linecap="butt"/>
<line x1="1256.9" y1="2257.8" x2="1256.9" y2="2268.3" stroke="#000" stroke-width="2.4" stroke-linecap="butt"/>
<line x1="1281.8" y1="2257.8" x2="1281.8" y2="2268.3" stroke="#000" stroke-width="2.4" stroke-linecap="butt"/>
<line x1="1306.7" y1="2257.8" x2="1306.7" y2="2268.3" stroke="#000" stroke-width="2.4" stroke-linecap="butt"/>
<line x1="1331.6" y1="2257.8" x2="1331.6" y2="2268.3" stroke="#000" stroke-width="2.4" stroke-linecap="butt"/>
<line x1="1356.5" y1="2257.8" x2="1356.5" y2="2268.3" stroke="#000" stroke-width="2.4" stroke-linecap="butt"/>
<line x1="1381.4" y1="2257.8" x2="1381.4" y2="2268.3" stroke="#000" stroke-width="2.4" stroke-linecap="butt"/>
<line x1="1406.3" y1="2257.8" x2="1406.3" y2="2268.3" stroke="#000" stroke-width="2.4" stroke-linecap="butt"/>
<line x1="1431.2" y1="2257.8" x2="1431.2" y2="2268.3" stroke="#000" stroke-width="2.4" stroke-linecap="butt"/>
<line x1="1456.1" y1="2257.8" x2="1456.1" y2="2268.3" stroke="#000" stroke-width="2.4" stroke-linecap="butt"/>
<line x1="1481" y1="2257.8" x2="1481" y2="2268.3" stroke="#000" stroke-width="2.4" stroke-linecap="butt"/>
<line x1="1505.9" y1="2257.8" x2="1505.9" y2="2268.3" stroke="#000" stroke-width="2.4" stroke-linecap="butt"/>
<line x1="1530.8" y1="2257.8" x2="1530.8" y2="2268.3" stroke="#000" stroke-width="2.4" stroke-linecap="butt"/>
<line x1="1555.7" y1="2257.8" x2="1555.7" y2="2268.3" stroke="#000" stroke-width="2.4" stroke-linecap="butt"/>
<line x1="1580.6" y1="2257.8" x2="1580.6" y2="2268.3" stroke="#000" stroke-width="2.4" stroke-linecap="butt"/>
<line x1="1605.5" y1="2257.8" x2="1605.5" y2="2268.3" stroke="#000" stroke-width="2.4" stroke-linecap="butt"/>
<line x1="1630.4" y1="2257.8" x2="1630.4" y2="2268.3" stroke="#000" stroke-width="2.4" stroke-linecap="butt"/>
<line x1="1655.3" y1="2257.8" x2="1655.3" y2="2268.3" stroke="#000" stroke-width="2.4" stroke-linecap="butt"/>
<line x1="1680.2" y1="2257.8" x2="1680.2" y2="2268.3" stroke="#000" stroke-width="2.4" stroke-linecap="butt"/>
<line x1="1705.1" y1="2257.8" x2="1705.1" y2="2268.3" stroke="#000" stroke-width="2.4" stroke-linecap="butt"/>
<line x1="1730" y1="2257.8" x2="1730" y2="2268.3" stroke="#000" stroke-width="2.4" stroke-linecap="butt"/>
<line x1="1754.9" y1="2257.8" x2="1754.9" y2="2268.3" stroke="#000" stroke-width="2.4" stroke-linecap="butt"/>
<line x1="1779.8" y1="2257.8" x2="1779.8" y2="2268.3" stroke="#000" stroke-width="2.4" stroke-linecap="butt"/>
<line x1="1804.7" y1="2257.8" x2="1804.7" y2="2268.3" stroke="#000" stroke-width="2.4" stroke-linecap="butt"/>
<line x1="1829.6" y1="2257.8" x2="1829.6" y2="2268.3" stroke="#000" stroke-width="2.4" stroke-linecap="butt"/>
<line x1="1854.5" y1="2257.8" x2="1854.5" y2="2268.3" stroke="#000" stroke-width="2.4" stroke-linecap="butt"/>
<line x1="1879.4" y1="2257.8" x2="1879.4" y2="2268.3" stroke="#000" stroke-width="2.4" stroke-linecap="butt"/>
<line x1="1904.3" y1="2257.8" x2="1904.3" y2="2268.3" stroke="#000" stroke-width="2.4" stroke-linecap="butt"/>
<text transform="translate(1127.6 2129.6) rotate(-90)" font-size="17.6" font-weight="bold" text-anchor="middle" fill="#000">Log<tspan font-size="12.6" dy="3.6">10</tspan><tspan dy="-3.6">(16S rRNA gene copies/ml milk)</tspan></text>
<text x="1543" y="1977" font-size="23.3" text-anchor="middle" fill="#000">Hindmilk (HM) vs Foremilk (FM) at 9 months</text>
<text transform="translate(1191.6 2282.4) rotate(-45)" font-size="19.2" text-anchor="end" fill="#000">Streptococcus (HM)</text>
<text transform="translate(1216.5 2282.4) rotate(-45)" font-size="19.2" text-anchor="end" fill="#000">Streptococcus (FM)</text>
<text transform="translate(1241.4 2282.4) rotate(-45)" font-size="19.2" text-anchor="end" fill="#000">Staphylococcus (HM)</text>
<text transform="translate(1266.3 2282.4) rotate(-45)" font-size="19.2" text-anchor="end" fill="#000">Staphylococcus (FM)</text>
<text transform="translate(1291.2 2282.4) rotate(-45)" font-size="19.2" text-anchor="end" fill="#000">Bacillus (HM)</text>
<text transform="translate(1316.1 2282.4) rotate(-45)" font-size="19.2" text-anchor="end" fill="#000">Bacillus (FM)</text>
<text transform="translate(1341 2282.4) rotate(-45)" font-size="19.2" text-anchor="end" fill="#000">Pseudomonas (HM)</text>
<text transform="translate(1365.9 2282.4) rotate(-45)" font-size="19.2" text-anchor="end" fill="#000">Pseudomonas (FM)</text>
<text transform="translate(1390.8 2282.4) rotate(-45)" font-size="19.2" text-anchor="end" fill="#000">Acinetobacter (HM)</text>
<text transform="translate(1415.7 2282.4) rotate(-45)" font-size="19.2" text-anchor="end" fill="#000">Acinetobacter (FM)</text>
<text transform="translate(1440.6 2282.4) rotate(-45)" font-size="19.2" text-anchor="end" fill="#000">Propionibacterium (HM)</text>
<text transform="translate(1465.5 2282.4) rotate(-45)" font-size="19.2" text-anchor="end" fill="#000">Propionibacterium (FM)</text>
<text transform="translate(1490.4 2282.4) rotate(-45)" font-size="19.2" text-anchor="end" fill="#000">Veillonella (HM)</text>
<text transform="translate(1515.3 2282.4) rotate(-45)" font-size="19.2" text-anchor="end" fill="#000">Veillonella (FM)</text>
<text transform="translate(1540.2 2282.4) rotate(-45)" font-size="19.2" text-anchor="end" fill="#000">Rothia (HM)</text>
<text transform="translate(1565.1 2282.4) rotate(-45)" font-size="19.2" text-anchor="end" fill="#000">Rothia (FM)</text>
<text transform="translate(1590 2282.4) rotate(-45)" font-size="19.2" text-anchor="end" fill="#000">Gemella (HM)</text>
<text transform="translate(1614.9 2282.4) rotate(-45)" font-size="19.2" text-anchor="end" fill="#000">Gemella (FM)</text>
<text transform="translate(1639.8 2282.4) rotate(-45)" font-size="19.2" text-anchor="end" fill="#000">Neisseria (HM)</text>
<text transform="translate(1664.7 2282.4) rotate(-45)" font-size="19.2" text-anchor="end" fill="#000">Neisseria (FM)</text>
<text transform="translate(1689.6 2282.4) rotate(-45)" font-size="19.2" text-anchor="end" fill="#000">Granulicatella (HM)</text>
<text transform="translate(1714.5 2282.4) rotate(-45)" font-size="19.2" text-anchor="end" fill="#000">Granulicatella (FM)</text>
<text transform="translate(1739.4 2282.4) rotate(-45)" font-size="19.2" text-anchor="end" fill="#000">Corynebacterium (HM)</text>
<text transform="translate(1764.3 2282.4) rotate(-45)" font-size="19.2" text-anchor="end" fill="#000">Corynebacterium (FM)</text>
<text transform="translate(1789.2 2282.4) rotate(-45)" font-size="19.2" text-anchor="end" fill="#000">Actinomyces (HM)</text>
<text transform="translate(1814.1 2282.4) rotate(-45)" font-size="19.2" text-anchor="end" fill="#000">Actinomyces (FM)</text>
<text transform="translate(1839 2282.4) rotate(-45)" font-size="19.2" text-anchor="end" fill="#000">Caulobacter (HM)</text>
<text transform="translate(1863.9 2282.4) rotate(-45)" font-size="19.2" text-anchor="end" fill="#000">Caulobacter (FM)</text>
<text transform="translate(1888.8 2282.4) rotate(-45)" font-size="19.2" text-anchor="end" fill="#000">Prevotella (HM)</text>
<text transform="translate(1913.7 2282.4) rotate(-45)" font-size="19.2" text-anchor="end" fill="#000">Prevotella (FM)</text>
<path d="M1178.8 2044.36 L1185.6 2044.36 C1185.95 2047.38 1187.1 2050.4 1187.7 2053.42 C1188.39 2056.94 1189.5 2060.46 1189.5 2063.98 C1189.5 2069.52 1189.5 2075.06 1189.5 2080.59 C1189.5 2085.63 1189.1 2090.66 1188.7 2095.69 C1188.3 2100.73 1186.94 2105.76 1186.2 2110.79 C1185.46 2115.82 1184.86 2120.86 1184.2 2125.89 C1183.54 2130.92 1182.26 2135.96 1182.26 2140.99 C1182.26 2173.7 1182.26 2206.42 1182.26 2239.13 C1182.26 2241.65 1183 2244.16 1183 2246.68 C1183 2250.2 1183 2253.73 1183 2257.25 L1181.4 2257.25 C1181.4 2253.73 1181.4 2250.2 1181.4 2246.68 C1181.4 2244.16 1182.14 2241.65 1182.14 2239.13 C1182.14 2206.42 1182.14 2173.7 1182.14 2140.99 C1182.14 2135.96 1180.86 2130.92 1180.2 2125.89 C1179.54 2120.86 1178.94 2115.82 1178.2 2110.79 C1177.46 2105.76 1176.1 2100.73 1175.7 2095.69 C1175.3 2090.66 1174.9 2085.63 1174.9 2080.59 C1174.9 2075.06 1174.9 2069.52 1174.9 2063.98 C1174.9 2060.46 1176.01 2056.94 1176.7 2053.42 C1177.3 2050.4 1178.45 2047.38 1178.8 2044.36Z" fill="#c8c000" stroke="#000" stroke-width="1.15" stroke-linejoin="round"/>
<line x1="1175.18" y1="2064.44" x2="1189.22" y2="2064.44" stroke="#000" stroke-width="1.25" stroke-linecap="butt"/>
<line x1="1175.22" y1="2081.35" x2="1189.18" y2="2081.35" stroke="#000" stroke-width="2.6" stroke-linecap="butt"/>
<line x1="1176.9" y1="2101.73" x2="1187.5" y2="2101.73" stroke="#000" stroke-width="1.25" stroke-linecap="butt"/>
<path d="M1202.6 2072.74 L1211.6 2072.74 C1211.93 2075.36 1213.14 2077.98 1213.6 2080.59 C1214.04 2083.11 1214.6 2085.63 1214.6 2088.14 C1214.6 2090.66 1212.75 2093.18 1212.1 2095.69 C1211.06 2099.72 1209.6 2103.75 1209.6 2107.77 C1209.6 2112.3 1209.6 2116.83 1209.6 2121.36 C1209.6 2125.39 1210.1 2129.41 1210.1 2133.44 C1210.1 2138.47 1208.8 2143.51 1208.6 2148.54 C1208.5 2151.05 1208.43 2153.57 1208.4 2156.09 C1208.34 2160.87 1208.32 2165.65 1208.3 2170.43 L1205.9 2170.43 C1205.88 2165.65 1205.86 2160.87 1205.8 2156.09 C1205.77 2153.57 1205.7 2151.05 1205.6 2148.54 C1205.4 2143.51 1204.1 2138.47 1204.1 2133.44 C1204.1 2129.41 1204.6 2125.39 1204.6 2121.36 C1204.6 2116.83 1204.6 2112.3 1204.6 2107.77 C1204.6 2103.75 1203.14 2099.72 1202.1 2095.69 C1201.45 2093.18 1199.6 2090.66 1199.6 2088.14 C1199.6 2085.63 1200.16 2083.11 1200.6 2080.59 C1201.06 2077.98 1202.27 2075.36 1202.6 2072.74Z" fill="#c8c000" stroke="#000" stroke-width="1.15" stroke-linejoin="round"/>
<line x1="1199.92" y1="2086.63" x2="1214.28" y2="2086.63" stroke="#000" stroke-width="1.25" stroke-linecap="butt"/>
<line x1="1201.61" y1="2093.43" x2="1212.59" y2="2093.43" stroke="#000" stroke-width="2.6" stroke-linecap="butt"/>
<line x1="1204.41" y1="2130.42" x2="1209.79" y2="2130.42" stroke="#000" stroke-width="1.25" stroke-linecap="butt"/>
<path d="M1227.7 2081.8 L1236.3 2081.8 C1236.25 2084.42 1236.16 2087.04 1236 2089.65 C1235.82 2092.67 1234.5 2095.69 1234.5 2098.71 C1234.5 2102.24 1235.78 2105.76 1236.5 2109.28 C1237.42 2113.81 1239.5 2118.34 1239.5 2122.87 C1239.5 2126.39 1238.04 2129.92 1237.5 2133.44 C1237.11 2135.96 1236.5 2138.47 1236.5 2140.99 C1236.5 2144.01 1236.8 2147.03 1237 2150.05 C1237.14 2152.06 1237.5 2154.07 1237.5 2156.09 C1237.5 2159.11 1235.83 2162.13 1235.5 2165.15 L1228.5 2165.15 C1228.17 2162.13 1226.5 2159.11 1226.5 2156.09 C1226.5 2154.07 1226.86 2152.06 1227 2150.05 C1227.2 2147.03 1227.5 2144.01 1227.5 2140.99 C1227.5 2138.47 1226.89 2135.96 1226.5 2133.44 C1225.96 2129.92 1224.5 2126.39 1224.5 2122.87 C1224.5 2118.34 1226.58 2113.81 1227.5 2109.28 C1228.22 2105.76 1229.5 2102.24 1229.5 2098.71 C1229.5 2095.69 1228.18 2092.67 1228 2089.65 C1227.84 2087.04 1227.75 2084.42 1227.7 2081.8Z" fill="#828000" stroke="#000" stroke-width="1.15" stroke-linejoin="round"/>
<line x1="1227.73" y1="2109.58" x2="1236.27" y2="2109.58" stroke="#000" stroke-width="1.25" stroke-linecap="butt"/>
<line x1="1225.11" y1="2126.19" x2="1238.89" y2="2126.19" stroke="#000" stroke-width="2.6" stroke-linecap="butt"/>
<line x1="1227.03" y1="2152.31" x2="1236.97" y2="2152.31" stroke="#000" stroke-width="1.25" stroke-linecap="butt"/>
<path d="M1255.4 2068.51 L1258.4 2068.51 C1258.57 2072.54 1258.96 2076.57 1259.4 2080.59 C1259.95 2085.63 1261.07 2090.66 1261.9 2095.69 C1262.73 2100.73 1264.4 2105.76 1264.4 2110.79 C1264.4 2115.82 1262.97 2120.86 1262.4 2125.89 C1261.83 2130.92 1261.15 2135.96 1260.9 2140.99 C1260.65 2146.02 1260.65 2151.05 1260.4 2156.09 C1260.15 2161.12 1259.35 2166.15 1258.9 2171.19 C1258.54 2175.21 1257.9 2179.24 1257.9 2183.27 C1257.9 2186.54 1258.07 2189.81 1258.1 2193.08 L1255.7 2193.08 C1255.73 2189.81 1255.9 2186.54 1255.9 2183.27 C1255.9 2179.24 1255.26 2175.21 1254.9 2171.19 C1254.45 2166.15 1253.65 2161.12 1253.4 2156.09 C1253.15 2151.05 1253.15 2146.02 1252.9 2140.99 C1252.65 2135.96 1251.97 2130.92 1251.4 2125.89 C1250.83 2120.86 1249.4 2115.82 1249.4 2110.79 C1249.4 2105.76 1251.07 2100.73 1251.9 2095.69 C1252.73 2090.66 1253.85 2085.63 1254.4 2080.59 C1254.84 2076.57 1255.23 2072.54 1255.4 2068.51Z" fill="#828000" stroke="#000" stroke-width="1.15" stroke-linejoin="round"/>
<line x1="1250.67" y1="2103.24" x2="1263.13" y2="2103.24" stroke="#000" stroke-width="1.25" stroke-linecap="butt"/>
<line x1="1250.46" y1="2118.34" x2="1263.34" y2="2118.34" stroke="#000" stroke-width="2.6" stroke-linecap="butt"/>
<line x1="1253.41" y1="2146.27" x2="1260.39" y2="2146.27" stroke="#000" stroke-width="1.25" stroke-linecap="butt"/>
<path d="M1279.2 2049.34 L1284.4 2049.34 C1284.3 2054.72 1284.09 2060.11 1283.8 2065.49 C1283.53 2070.53 1282.3 2075.56 1282.3 2080.59 C1282.3 2085.63 1282.6 2090.66 1282.8 2095.69 C1283.19 2105.76 1283.67 2115.82 1284.3 2125.89 C1284.92 2135.96 1285.94 2146.02 1286.8 2156.09 C1287.45 2163.64 1288.8 2171.19 1288.8 2178.74 C1288.8 2183.77 1287.92 2188.8 1287.3 2193.84 C1286.67 2198.87 1284.8 2203.9 1284.8 2208.93 C1284.8 2213.97 1284.8 2219 1284.8 2224.03 C1284.8 2229.07 1286.63 2234.1 1287.3 2239.13 C1288.1 2245.17 1288.97 2251.21 1289.3 2257.25 L1274.3 2257.25 C1274.63 2251.21 1275.5 2245.17 1276.3 2239.13 C1276.97 2234.1 1278.8 2229.07 1278.8 2224.03 C1278.8 2219 1278.8 2213.97 1278.8 2208.93 C1278.8 2203.9 1276.92 2198.87 1276.3 2193.84 C1275.67 2188.8 1274.8 2183.77 1274.8 2178.74 C1274.8 2171.19 1276.15 2163.64 1276.8 2156.09 C1277.66 2146.02 1278.67 2135.96 1279.3 2125.89 C1279.92 2115.82 1280.41 2105.76 1280.8 2095.69 C1281 2090.66 1281.3 2085.63 1281.3 2080.59 C1281.3 2075.56 1280.07 2070.53 1279.8 2065.49 C1279.51 2060.11 1279.3 2054.72 1279.2 2049.34Z" fill="#b4f5e1" stroke="#000" stroke-width="1.15" stroke-linejoin="round"/>
<line x1="1278.83" y1="2136.16" x2="1284.77" y2="2136.16" stroke="#000" stroke-width="1.25" stroke-linecap="butt"/>
<line x1="1275.77" y1="2187.8" x2="1287.83" y2="2187.8" stroke="#000" stroke-width="2.6" stroke-linecap="butt"/>
<path d="M1304.2 2045.56 L1309.2 2045.56 C1309.03 2052.21 1308.51 2058.85 1308.2 2065.49 C1307.84 2073.04 1307.4 2080.59 1307.2 2088.14 C1307 2095.69 1306.76 2103.24 1306.76 2110.79 C1306.76 2118.34 1307.59 2125.89 1308.2 2133.44 C1308.81 2140.99 1310.31 2148.54 1310.7 2156.09 C1311.23 2166.15 1311.7 2176.22 1311.7 2186.29 C1311.7 2193.84 1311.7 2201.38 1311.7 2208.93 C1311.7 2213.97 1311.99 2219 1312.2 2224.03 C1312.66 2235.11 1313.87 2246.18 1314.2 2257.25 L1299.2 2257.25 C1299.53 2246.18 1300.74 2235.11 1301.2 2224.03 C1301.41 2219 1301.7 2213.97 1301.7 2208.93 C1301.7 2201.38 1301.7 2193.84 1301.7 2186.29 C1301.7 2176.22 1302.17 2166.15 1302.7 2156.09 C1303.09 2148.54 1304.59 2140.99 1305.2 2133.44 C1305.81 2125.89 1306.64 2118.34 1306.64 2110.79 C1306.64 2103.24 1306.4 2095.69 1306.2 2088.14 C1306 2080.59 1305.56 2073.04 1305.2 2065.49 C1304.89 2058.85 1304.37 2052.21 1304.2 2045.56Z" fill="#b4f5e1" stroke="#000" stroke-width="1.15" stroke-linejoin="round"/>
<line x1="1302.5" y1="2165.9" x2="1310.9" y2="2165.9" stroke="#000" stroke-width="1.25" stroke-linecap="butt"/>
<line x1="1301.94" y1="2212.26" x2="1311.46" y2="2212.26" stroke="#000" stroke-width="2.6" stroke-linecap="butt"/>
<path d="M1330.6 2070.78 L1332.6 2070.78 C1332.57 2079.08 1332.5 2087.39 1332.4 2095.69 C1332.34 2100.73 1332.1 2105.76 1332.1 2110.79 C1332.1 2115.82 1333.03 2120.86 1333.6 2125.89 C1334.17 2130.92 1334.97 2135.96 1335.6 2140.99 C1336.85 2151.05 1339.1 2161.12 1339.1 2171.19 C1339.1 2178.74 1337.51 2186.29 1336.6 2193.84 C1335.99 2198.87 1335.04 2203.9 1334.6 2208.93 C1334.16 2213.97 1333.6 2219 1333.6 2224.03 C1333.6 2229.07 1334.83 2234.1 1335.6 2239.13 C1336.52 2245.17 1338.35 2251.21 1338.9 2257.25 L1324.3 2257.25 C1324.85 2251.21 1326.68 2245.17 1327.6 2239.13 C1328.37 2234.1 1329.6 2229.07 1329.6 2224.03 C1329.6 2219 1329.04 2213.97 1328.6 2208.93 C1328.16 2203.9 1327.21 2198.87 1326.6 2193.84 C1325.69 2186.29 1324.1 2178.74 1324.1 2171.19 C1324.1 2161.12 1326.35 2151.05 1327.6 2140.99 C1328.23 2135.96 1329.03 2130.92 1329.6 2125.89 C1330.17 2120.86 1331.1 2115.82 1331.1 2110.79 C1331.1 2105.76 1330.86 2100.73 1330.8 2095.69 C1330.7 2087.39 1330.63 2079.08 1330.6 2070.78Z" fill="#a0004c" stroke="#000" stroke-width="1.15" stroke-linejoin="round"/>
<line x1="1325.46" y1="2158.35" x2="1337.74" y2="2158.35" stroke="#000" stroke-width="1.25" stroke-linecap="butt"/>
<line x1="1325.87" y1="2186.59" x2="1337.33" y2="2186.59" stroke="#000" stroke-width="2.6" stroke-linecap="butt"/>
<path d="M1355.5 2086.33 L1357.5 2086.33 C1357.47 2094.48 1357.3 2102.64 1357.3 2110.79 C1357.3 2115.82 1358.06 2120.86 1358.5 2125.89 C1359.38 2135.96 1360.71 2146.02 1361.5 2156.09 C1362.09 2163.64 1363 2171.19 1363 2178.74 C1363 2183.77 1362.07 2188.8 1361.5 2193.84 C1360.93 2198.87 1359.94 2203.9 1359.5 2208.93 C1359.06 2213.97 1358.5 2219 1358.5 2224.03 C1358.5 2229.07 1359.73 2234.1 1360.5 2239.13 C1361.42 2245.17 1363.25 2251.21 1363.8 2257.25 L1349.2 2257.25 C1349.75 2251.21 1351.58 2245.17 1352.5 2239.13 C1353.27 2234.1 1354.5 2229.07 1354.5 2224.03 C1354.5 2219 1353.94 2213.97 1353.5 2208.93 C1353.06 2203.9 1352.07 2198.87 1351.5 2193.84 C1350.93 2188.8 1350 2183.77 1350 2178.74 C1350 2171.19 1350.91 2163.64 1351.5 2156.09 C1352.29 2146.02 1353.62 2135.96 1354.5 2125.89 C1354.94 2120.86 1355.7 2115.82 1355.7 2110.79 C1355.7 2102.64 1355.53 2094.48 1355.5 2086.33Z" fill="#a0004c" stroke="#000" stroke-width="1.15" stroke-linejoin="round"/>
<line x1="1351.51" y1="2159.41" x2="1361.49" y2="2159.41" stroke="#000" stroke-width="1.25" stroke-linecap="butt"/>
<line x1="1351.52" y1="2191.57" x2="1361.48" y2="2191.57" stroke="#000" stroke-width="2.6" stroke-linecap="butt"/>
<path d="M1380.2 2026.99 L1382.6 2026.99 C1382.57 2030.77 1382.47 2034.54 1382.4 2038.32 C1382.13 2052.41 1381.46 2066.5 1381.46 2080.59 C1381.46 2090.66 1381.66 2100.73 1382 2110.79 C1382.17 2115.82 1383.34 2120.86 1383.9 2125.89 C1384.46 2130.92 1384.8 2135.96 1385.4 2140.99 C1386.3 2148.54 1388.9 2156.09 1388.9 2163.64 C1388.9 2168.67 1387.31 2173.7 1386.4 2178.74 C1385.49 2183.77 1384.23 2188.8 1383.4 2193.84 C1382.82 2197.36 1381.9 2200.88 1381.9 2204.4 C1381.9 2218.5 1381.9 2232.59 1381.9 2246.68 C1381.9 2250.2 1382.73 2253.73 1382.9 2257.25 L1379.9 2257.25 C1380.07 2253.73 1380.9 2250.2 1380.9 2246.68 C1380.9 2232.59 1380.9 2218.5 1380.9 2204.4 C1380.9 2200.88 1379.98 2197.36 1379.4 2193.84 C1378.57 2188.8 1377.31 2183.77 1376.4 2178.74 C1375.49 2173.7 1373.9 2168.67 1373.9 2163.64 C1373.9 2156.09 1376.5 2148.54 1377.4 2140.99 C1378 2135.96 1378.34 2130.92 1378.9 2125.89 C1379.46 2120.86 1380.63 2115.82 1380.8 2110.79 C1381.14 2100.73 1381.34 2090.66 1381.34 2080.59 C1381.34 2066.5 1380.67 2052.41 1380.4 2038.32 C1380.33 2034.54 1380.23 2030.77 1380.2 2026.99Z" fill="#9c6a20" stroke="#000" stroke-width="1.15" stroke-linejoin="round"/>
<line x1="1378.13" y1="2137.21" x2="1384.67" y2="2137.21" stroke="#000" stroke-width="1.25" stroke-linecap="butt"/>
<line x1="1374.23" y1="2164.85" x2="1388.57" y2="2164.85" stroke="#000" stroke-width="2.6" stroke-linecap="butt"/>
<line x1="1376.55" y1="2177.98" x2="1386.25" y2="2177.98" stroke="#000" stroke-width="1.25" stroke-linecap="butt"/>
<path d="M1405.3 2008.87 L1407.3 2008.87 C1407.14 2022.71 1406.36 2036.55 1406.36 2050.4 C1406.36 2055.43 1407 2060.46 1407.3 2065.49 C1407.65 2071.53 1408.3 2077.57 1408.3 2083.61 C1408.3 2087.64 1406.9 2091.67 1406.9 2095.69 C1406.9 2100.73 1406.98 2105.76 1407.1 2110.79 C1407.22 2115.82 1408.6 2120.86 1409.3 2125.89 C1410 2130.92 1410.69 2135.96 1411.3 2140.99 C1412.21 2148.54 1413.8 2156.09 1413.8 2163.64 C1413.8 2171.19 1412.97 2178.74 1412.3 2186.29 C1411.63 2193.84 1410.15 2201.38 1409.3 2208.93 C1408.73 2213.97 1407.98 2219 1407.8 2224.03 C1407.64 2228.56 1407.55 2233.09 1407.5 2237.62 L1405.1 2237.62 C1405.05 2233.09 1404.96 2228.56 1404.8 2224.03 C1404.62 2219 1403.87 2213.97 1403.3 2208.93 C1402.45 2201.38 1400.97 2193.84 1400.3 2186.29 C1399.63 2178.74 1398.8 2171.19 1398.8 2163.64 C1398.8 2156.09 1400.39 2148.54 1401.3 2140.99 C1401.91 2135.96 1402.6 2130.92 1403.3 2125.89 C1404 2120.86 1405.38 2115.82 1405.5 2110.79 C1405.62 2105.76 1405.7 2100.73 1405.7 2095.69 C1405.7 2091.67 1404.3 2087.64 1404.3 2083.61 C1404.3 2077.57 1404.95 2071.53 1405.3 2065.49 C1405.6 2060.46 1406.24 2055.43 1406.24 2050.4 C1406.24 2036.55 1405.46 2022.71 1405.3 2008.87Z" fill="#9c6a20" stroke="#000" stroke-width="1.15" stroke-linejoin="round"/>
<line x1="1401.78" y1="2139.48" x2="1410.82" y2="2139.48" stroke="#000" stroke-width="1.25" stroke-linecap="butt"/>
<line x1="1399.13" y1="2162.88" x2="1413.47" y2="2162.88" stroke="#000" stroke-width="2.6" stroke-linecap="butt"/>
<line x1="1400.93" y1="2189.31" x2="1411.67" y2="2189.31" stroke="#000" stroke-width="1.25" stroke-linecap="butt"/>
<path d="M1429.2 2051.41 L1433.2 2051.41 C1433.23 2056.04 1433.4 2060.67 1433.4 2065.3 C1433.4 2068.82 1432.62 2072.34 1432.2 2075.87 C1431.9 2078.38 1431.26 2080.9 1431.26 2083.42 C1431.26 2087.44 1431.43 2091.47 1431.7 2095.49 C1431.91 2098.51 1433.78 2101.53 1434.7 2104.55 C1435.78 2108.08 1437.7 2111.6 1437.7 2115.12 C1437.7 2118.65 1435.51 2122.17 1435.2 2125.69 C1434.93 2128.71 1434.7 2131.73 1434.7 2134.75 C1434.7 2139.28 1438.7 2143.81 1438.7 2148.34 C1438.7 2151.86 1438.36 2155.39 1437.7 2158.91 C1437.46 2160.17 1435.62 2161.43 1435.2 2162.68 L1427.2 2162.68 C1426.78 2161.43 1424.94 2160.17 1424.7 2158.91 C1424.04 2155.39 1423.7 2151.86 1423.7 2148.34 C1423.7 2143.81 1427.7 2139.28 1427.7 2134.75 C1427.7 2131.73 1427.47 2128.71 1427.2 2125.69 C1426.89 2122.17 1424.7 2118.65 1424.7 2115.12 C1424.7 2111.6 1426.62 2108.08 1427.7 2104.55 C1428.62 2101.53 1430.49 2098.51 1430.7 2095.49 C1430.97 2091.47 1431.14 2087.44 1431.14 2083.42 C1431.14 2080.9 1430.5 2078.38 1430.2 2075.87 C1429.78 2072.34 1429 2068.82 1429 2065.3 C1429 2060.67 1429.17 2056.04 1429.2 2051.41Z" fill="#ffe3e3" stroke="#000" stroke-width="1.15" stroke-linejoin="round"/>
<line x1="1425.05" y1="2114.67" x2="1437.35" y2="2114.67" stroke="#000" stroke-width="1.25" stroke-linecap="butt"/>
<line x1="1428.16" y1="2132.79" x2="1434.24" y2="2132.79" stroke="#000" stroke-width="2.6" stroke-linecap="butt"/>
<line x1="1423.89" y1="2151.66" x2="1438.51" y2="2151.66" stroke="#000" stroke-width="1.25" stroke-linecap="butt"/>
<path d="M1454.1 2094.44 L1458.1 2094.44 C1457.97 2097.81 1457.3 2101.18 1457.3 2104.55 C1457.3 2109.08 1457.79 2113.61 1458.3 2118.14 C1458.7 2121.67 1459.87 2125.19 1460.6 2128.71 C1461.65 2133.75 1463.6 2138.78 1463.6 2143.81 C1463.6 2147.84 1461.39 2151.86 1460.6 2155.89 C1460.01 2158.91 1459.42 2161.93 1459.1 2164.95 C1458.63 2169.48 1458.54 2174.01 1458.1 2178.54 C1457.75 2182.06 1456.67 2185.58 1456.6 2189.11 C1456.26 2205.72 1456.16 2222.33 1456.16 2238.93 C1456.16 2242.46 1457.6 2245.98 1457.6 2249.5 C1457.6 2252.02 1457.18 2254.54 1457.1 2257.05 L1455.1 2257.05 C1455.02 2254.54 1454.6 2252.02 1454.6 2249.5 C1454.6 2245.98 1456.04 2242.46 1456.04 2238.93 C1456.04 2222.33 1455.94 2205.72 1455.6 2189.11 C1455.53 2185.58 1454.45 2182.06 1454.1 2178.54 C1453.66 2174.01 1453.57 2169.48 1453.1 2164.95 C1452.78 2161.93 1452.19 2158.91 1451.6 2155.89 C1450.81 2151.86 1448.6 2147.84 1448.6 2143.81 C1448.6 2138.78 1450.55 2133.75 1451.6 2128.71 C1452.33 2125.19 1453.5 2121.67 1453.9 2118.14 C1454.41 2113.61 1454.9 2109.08 1454.9 2104.55 C1454.9 2101.18 1454.23 2097.81 1454.1 2094.44Z" fill="#ffe3e3" stroke="#000" stroke-width="1.15" stroke-linejoin="round"/>
<line x1="1450.52" y1="2134.3" x2="1461.68" y2="2134.3" stroke="#000" stroke-width="1.25" stroke-linecap="butt"/>
<line x1="1449.02" y1="2145.32" x2="1463.18" y2="2145.32" stroke="#000" stroke-width="2.6" stroke-linecap="butt"/>
<line x1="1453.51" y1="2166.16" x2="1458.69" y2="2166.16" stroke="#000" stroke-width="1.25" stroke-linecap="butt"/>
<path d="M1479.3 2080.4 L1482.7 2080.4 C1483.08 2084.42 1484.09 2088.45 1485 2092.47 C1485.91 2096.5 1488.34 2100.53 1488.4 2104.55 C1488.46 2108.58 1488.5 2112.61 1488.5 2116.63 C1488.5 2119.65 1486.77 2122.67 1486 2125.69 C1485.1 2129.22 1483.63 2132.74 1483.5 2136.26 C1483.3 2141.8 1483.38 2147.33 1483.2 2152.87 C1483.07 2156.9 1482.28 2160.92 1481.8 2164.95 C1481.56 2166.96 1481.06 2168.98 1481.06 2170.99 C1481.06 2196.15 1481.13 2221.32 1481.4 2246.48 C1481.44 2250.01 1481.9 2253.53 1482 2257.05 L1480 2257.05 C1480.1 2253.53 1480.56 2250.01 1480.6 2246.48 C1480.87 2221.32 1480.94 2196.15 1480.94 2170.99 C1480.94 2168.98 1480.44 2166.96 1480.2 2164.95 C1479.72 2160.92 1478.93 2156.9 1478.8 2152.87 C1478.62 2147.33 1478.7 2141.8 1478.5 2136.26 C1478.37 2132.74 1476.9 2129.22 1476 2125.69 C1475.23 2122.67 1473.5 2119.65 1473.5 2116.63 C1473.5 2112.61 1473.54 2108.58 1473.6 2104.55 C1473.66 2100.53 1476.09 2096.5 1477 2092.47 C1477.91 2088.45 1478.92 2084.42 1479.3 2080.4Z" fill="#d0006c" stroke="#000" stroke-width="1.15" stroke-linejoin="round"/>
<line x1="1474.56" y1="2101.53" x2="1487.44" y2="2101.53" stroke="#000" stroke-width="1.25" stroke-linecap="butt"/>
<line x1="1473.8" y1="2116.63" x2="1488.2" y2="2116.63" stroke="#000" stroke-width="2.6" stroke-linecap="butt"/>
<line x1="1478.8" y1="2136.26" x2="1483.2" y2="2136.26" stroke="#000" stroke-width="1.25" stroke-linecap="butt"/>
<path d="M1499.4 2114.82 L1512.4 2114.82 C1512.53 2118.44 1513.2 2122.07 1513.2 2125.69 C1513.2 2129.22 1510.08 2132.74 1509.9 2136.26 C1509.56 2142.8 1509.59 2149.35 1509.4 2155.89 C1509.25 2160.92 1509.15 2165.96 1508.9 2170.99 C1508.65 2176.02 1507.82 2181.05 1507.4 2186.09 C1506.98 2191.12 1506.3 2196.15 1506.3 2201.19 C1506.3 2211.25 1506.3 2221.32 1506.3 2231.38 C1506.3 2236.42 1506.68 2241.45 1506.9 2246.48 C1507.05 2250.01 1507.32 2253.53 1507.4 2257.05 L1504.4 2257.05 C1504.48 2253.53 1504.75 2250.01 1504.9 2246.48 C1505.12 2241.45 1505.5 2236.42 1505.5 2231.38 C1505.5 2221.32 1505.5 2211.25 1505.5 2201.19 C1505.5 2196.15 1504.82 2191.12 1504.4 2186.09 C1503.98 2181.05 1503.15 2176.02 1502.9 2170.99 C1502.65 2165.96 1502.55 2160.92 1502.4 2155.89 C1502.21 2149.35 1502.24 2142.8 1501.9 2136.26 C1501.72 2132.74 1498.6 2129.22 1498.6 2125.69 C1498.6 2122.07 1499.27 2118.44 1499.4 2114.82Z" fill="#d0006c" stroke="#000" stroke-width="1.15" stroke-linejoin="round"/>
<line x1="1498.8" y1="2123.43" x2="1513" y2="2123.43" stroke="#000" stroke-width="1.25" stroke-linecap="butt"/>
<line x1="1502.2" y1="2136.26" x2="1509.6" y2="2136.26" stroke="#000" stroke-width="2.6" stroke-linecap="butt"/>
<line x1="1503.32" y1="2172.5" x2="1508.48" y2="2172.5" stroke="#000" stroke-width="1.25" stroke-linecap="butt"/>
<path d="M1528.3 2083.11 L1533.3 2083.11 C1533.55 2087.24 1534.23 2091.37 1534.8 2095.49 C1535.5 2100.53 1536.79 2105.56 1537.3 2110.59 C1537.81 2115.63 1538.4 2120.66 1538.4 2125.69 C1538.4 2130.73 1537.39 2135.76 1536.8 2140.79 C1536.21 2145.82 1535.37 2150.86 1534.8 2155.89 C1534.23 2160.92 1533.87 2165.96 1533.3 2170.99 C1532.73 2176.02 1531.3 2181.05 1531.3 2186.09 C1531.3 2193.64 1531.3 2201.19 1531.3 2208.74 C1531.3 2211.25 1532.1 2213.77 1532.1 2216.29 C1532.1 2218.3 1532.02 2220.31 1532 2222.33 L1529.6 2222.33 C1529.58 2220.31 1529.5 2218.3 1529.5 2216.29 C1529.5 2213.77 1530.3 2211.25 1530.3 2208.74 C1530.3 2201.19 1530.3 2193.64 1530.3 2186.09 C1530.3 2181.05 1528.87 2176.02 1528.3 2170.99 C1527.73 2165.96 1527.37 2160.92 1526.8 2155.89 C1526.23 2150.86 1525.39 2145.82 1524.8 2140.79 C1524.21 2135.76 1523.2 2130.73 1523.2 2125.69 C1523.2 2120.66 1523.79 2115.63 1524.3 2110.59 C1524.81 2105.56 1526.1 2100.53 1526.8 2095.49 C1527.37 2091.37 1528.05 2087.24 1528.3 2083.11Z" fill="#a50000" stroke="#000" stroke-width="1.15" stroke-linejoin="round"/>
<line x1="1524.74" y1="2109.54" x2="1536.86" y2="2109.54" stroke="#000" stroke-width="1.25" stroke-linecap="butt"/>
<line x1="1523.56" y1="2127.2" x2="1538.04" y2="2127.2" stroke="#000" stroke-width="2.6" stroke-linecap="butt"/>
<line x1="1526.25" y1="2149.4" x2="1535.35" y2="2149.4" stroke="#000" stroke-width="1.25" stroke-linecap="butt"/>
<path d="M1550.4 2106.82 L1561 2106.82 C1561.37 2110.59 1563.2 2114.37 1563.2 2118.14 C1563.2 2123.18 1561.77 2128.21 1561.2 2133.24 C1560.63 2138.27 1559.7 2143.31 1559.7 2148.34 C1559.7 2153.37 1563.2 2158.41 1563.2 2163.44 C1563.2 2168.47 1561.44 2173.51 1560.7 2178.54 C1559.96 2183.57 1559.37 2188.6 1558.7 2193.64 C1558.03 2198.67 1557.13 2203.7 1556.7 2208.74 C1556.27 2213.77 1555.76 2218.8 1555.76 2223.84 C1555.76 2228.87 1555.99 2233.9 1556.2 2238.93 C1556.46 2244.97 1557.45 2251.01 1557.7 2257.05 L1553.7 2257.05 C1553.95 2251.01 1554.94 2244.97 1555.2 2238.93 C1555.41 2233.9 1555.64 2228.87 1555.64 2223.84 C1555.64 2218.8 1555.13 2213.77 1554.7 2208.74 C1554.27 2203.7 1553.37 2198.67 1552.7 2193.64 C1552.03 2188.6 1551.44 2183.57 1550.7 2178.54 C1549.96 2173.51 1548.2 2168.47 1548.2 2163.44 C1548.2 2158.41 1551.7 2153.37 1551.7 2148.34 C1551.7 2143.31 1550.77 2138.27 1550.2 2133.24 C1549.63 2128.21 1548.2 2123.18 1548.2 2118.14 C1548.2 2114.37 1550.03 2110.59 1550.4 2106.82Z" fill="#a50000" stroke="#000" stroke-width="1.15" stroke-linejoin="round"/>
<line x1="1548.92" y1="2123.43" x2="1562.48" y2="2123.43" stroke="#000" stroke-width="1.25" stroke-linecap="butt"/>
<line x1="1549.8" y1="2157.1" x2="1561.6" y2="2157.1" stroke="#000" stroke-width="2.6" stroke-linecap="butt"/>
<line x1="1550.43" y1="2175.52" x2="1560.97" y2="2175.52" stroke="#000" stroke-width="1.25" stroke-linecap="butt"/>
<path d="M1577.7 2089.91 L1583.5 2089.91 C1583.93 2094.29 1585.33 2098.67 1586.1 2103.04 C1586.8 2107.07 1588 2111.1 1588 2115.12 C1588 2119.65 1586.89 2124.18 1586.1 2128.71 C1585.23 2133.75 1582.6 2138.78 1582.6 2143.81 C1582.6 2148.84 1583.1 2153.88 1583.1 2158.91 C1583.1 2165.45 1581.6 2172 1581.6 2178.54 C1581.6 2182.31 1581.6 2186.09 1581.6 2189.86 L1579.6 2189.86 C1579.6 2186.09 1579.6 2182.31 1579.6 2178.54 C1579.6 2172 1578.1 2165.45 1578.1 2158.91 C1578.1 2153.88 1578.6 2148.84 1578.6 2143.81 C1578.6 2138.78 1575.97 2133.75 1575.1 2128.71 C1574.31 2124.18 1573.2 2119.65 1573.2 2115.12 C1573.2 2111.1 1574.4 2107.07 1575.1 2103.04 C1575.87 2098.67 1577.27 2094.29 1577.7 2089.91Z" fill="#ffc285" stroke="#000" stroke-width="1.15" stroke-linejoin="round"/>
<line x1="1574.64" y1="2106.82" x2="1586.56" y2="2106.82" stroke="#000" stroke-width="1.25" stroke-linecap="butt"/>
<line x1="1574.53" y1="2124.18" x2="1586.67" y2="2124.18" stroke="#000" stroke-width="2.6" stroke-linecap="butt"/>
<line x1="1578.94" y1="2144.57" x2="1582.26" y2="2144.57" stroke="#000" stroke-width="1.25" stroke-linecap="butt"/>
<path d="M1600.7 2105.76 L1610.3 2105.76 C1610.67 2109.89 1612.5 2114.02 1612.5 2118.14 C1612.5 2120.66 1612.5 2123.18 1612.5 2125.69 C1612.5 2133.24 1611.78 2140.79 1611.5 2148.34 C1611.31 2153.37 1611.28 2158.41 1611 2163.44 C1610.72 2168.47 1609.12 2173.51 1608.5 2178.54 C1607.88 2183.57 1607.32 2188.6 1607 2193.64 C1606.53 2201.19 1606 2208.74 1606 2216.29 C1606 2223.84 1606.15 2231.38 1606.3 2238.93 C1606.42 2244.97 1606.88 2251.01 1607 2257.05 L1604 2257.05 C1604.12 2251.01 1604.58 2244.97 1604.7 2238.93 C1604.85 2231.38 1605 2223.84 1605 2216.29 C1605 2208.74 1604.47 2201.19 1604 2193.64 C1603.68 2188.6 1603.12 2183.57 1602.5 2178.54 C1601.88 2173.51 1600.28 2168.47 1600 2163.44 C1599.72 2158.41 1599.69 2153.37 1599.5 2148.34 C1599.22 2140.79 1598.5 2133.24 1598.5 2125.69 C1598.5 2123.18 1598.5 2120.66 1598.5 2118.14 C1598.5 2114.02 1600.33 2109.89 1600.7 2105.76Z" fill="#ffc285" stroke="#000" stroke-width="1.15" stroke-linejoin="round"/>
<line x1="1598.72" y1="2123.73" x2="1612.28" y2="2123.73" stroke="#000" stroke-width="1.25" stroke-linecap="butt"/>
<line x1="1599.84" y1="2149.55" x2="1611.16" y2="2149.55" stroke="#000" stroke-width="2.6" stroke-linecap="butt"/>
<line x1="1602.75" y1="2178.24" x2="1608.25" y2="2178.24" stroke="#000" stroke-width="1.25" stroke-linecap="butt"/>
<path d="M1626.5 2092.93 L1634.3 2092.93 C1634.48 2096.8 1634.9 2100.68 1635.4 2104.55 C1635.92 2108.58 1637.9 2112.61 1637.9 2116.63 C1637.9 2119.65 1636.41 2122.67 1635.9 2125.69 C1635.05 2130.73 1634.47 2135.76 1633.9 2140.79 C1633.33 2145.82 1632.72 2150.86 1632.4 2155.89 C1632.08 2160.92 1631.98 2165.96 1631.7 2170.99 C1631.48 2175.02 1630.9 2179.04 1630.9 2183.07 C1630.9 2201.69 1630.9 2220.31 1630.9 2238.93 C1630.9 2244.97 1631.48 2251.01 1631.6 2257.05 L1629.2 2257.05 C1629.32 2251.01 1629.9 2244.97 1629.9 2238.93 C1629.9 2220.31 1629.9 2201.69 1629.9 2183.07 C1629.9 2179.04 1629.32 2175.02 1629.1 2170.99 C1628.82 2165.96 1628.72 2160.92 1628.4 2155.89 C1628.08 2150.86 1627.47 2145.82 1626.9 2140.79 C1626.33 2135.76 1625.75 2130.73 1624.9 2125.69 C1624.39 2122.67 1622.9 2119.65 1622.9 2116.63 C1622.9 2112.61 1624.88 2108.58 1625.4 2104.55 C1625.9 2100.68 1626.32 2096.8 1626.5 2092.93Z" fill="#ff1a8c" stroke="#000" stroke-width="1.15" stroke-linejoin="round"/>
<line x1="1623.99" y1="2111.65" x2="1636.81" y2="2111.65" stroke="#000" stroke-width="1.25" stroke-linecap="butt"/>
<line x1="1623.6" y1="2119.65" x2="1637.2" y2="2119.65" stroke="#000" stroke-width="2.6" stroke-linecap="butt"/>
<line x1="1628.43" y1="2152.57" x2="1632.37" y2="2152.57" stroke="#000" stroke-width="1.25" stroke-linecap="butt"/>
<path d="M1651.7 2105.76 L1658.9 2105.76 C1659.13 2109.89 1659.89 2114.02 1660.3 2118.14 C1661.06 2125.69 1661.96 2133.24 1662.3 2140.79 C1662.59 2147.33 1662.9 2153.88 1662.9 2160.42 C1662.9 2163.94 1661.37 2167.47 1660.8 2170.99 C1659.99 2176.02 1659.37 2181.05 1658.8 2186.09 C1658.23 2191.12 1657.7 2196.15 1657.3 2201.19 C1656.9 2206.22 1656.41 2211.25 1656.3 2216.29 C1656.19 2221.32 1656.1 2226.35 1656.1 2231.38 C1656.1 2236.42 1657.16 2241.45 1657.8 2246.48 C1658.25 2250.01 1659.05 2253.53 1659.3 2257.05 L1651.3 2257.05 C1651.55 2253.53 1652.35 2250.01 1652.8 2246.48 C1653.44 2241.45 1654.5 2236.42 1654.5 2231.38 C1654.5 2226.35 1654.41 2221.32 1654.3 2216.29 C1654.19 2211.25 1653.7 2206.22 1653.3 2201.19 C1652.9 2196.15 1652.37 2191.12 1651.8 2186.09 C1651.23 2181.05 1650.61 2176.02 1649.8 2170.99 C1649.23 2167.47 1647.7 2163.94 1647.7 2160.42 C1647.7 2153.88 1648.01 2147.33 1648.3 2140.79 C1648.64 2133.24 1649.54 2125.69 1650.3 2118.14 C1650.71 2114.02 1651.47 2109.89 1651.7 2105.76Z" fill="#ff1a8c" stroke="#000" stroke-width="1.15" stroke-linejoin="round"/>
<line x1="1649.07" y1="2134.3" x2="1661.53" y2="2134.3" stroke="#000" stroke-width="1.25" stroke-linecap="butt"/>
<line x1="1648.65" y1="2164.65" x2="1661.95" y2="2164.65" stroke="#000" stroke-width="2.6" stroke-linecap="butt"/>
<line x1="1653.96" y1="2205.72" x2="1656.64" y2="2205.72" stroke="#000" stroke-width="1.25" stroke-linecap="butt"/>
<path d="M1677 2092.36 L1683.4 2092.36 C1683.37 2095.34 1683.2 2098.32 1683.2 2101.3 C1683.2 2104.55 1685.5 2107.8 1686.2 2111.06 C1686.9 2114.31 1687.8 2117.56 1687.8 2120.81 C1687.8 2125.15 1686.44 2129.49 1685.7 2133.82 C1684.77 2139.24 1683.46 2144.66 1682.7 2150.08 C1682.09 2154.42 1681.64 2158.75 1681.2 2163.09 C1680.98 2165.26 1680.6 2167.43 1680.6 2169.59 C1680.6 2194.53 1680.6 2219.46 1680.6 2244.39 C1680.6 2248.73 1681.1 2253.06 1681.2 2257.4 L1679.2 2257.4 C1679.3 2253.06 1679.8 2248.73 1679.8 2244.39 C1679.8 2219.46 1679.8 2194.53 1679.8 2169.59 C1679.8 2167.43 1679.42 2165.26 1679.2 2163.09 C1678.76 2158.75 1678.31 2154.42 1677.7 2150.08 C1676.94 2144.66 1675.63 2139.24 1674.7 2133.82 C1673.96 2129.49 1672.6 2125.15 1672.6 2120.81 C1672.6 2117.56 1673.5 2114.31 1674.2 2111.06 C1674.9 2107.8 1677.2 2104.55 1677.2 2101.3 C1677.2 2098.32 1677.03 2095.34 1677 2092.36Z" fill="#ff8000" stroke="#000" stroke-width="1.15" stroke-linejoin="round"/>
<line x1="1674.74" y1="2110.24" x2="1685.66" y2="2110.24" stroke="#000" stroke-width="1.25" stroke-linecap="butt"/>
<line x1="1672.98" y1="2122.11" x2="1687.42" y2="2122.11" stroke="#000" stroke-width="2.6" stroke-linecap="butt"/>
<line x1="1675.84" y1="2138.37" x2="1684.56" y2="2138.37" stroke="#000" stroke-width="1.25" stroke-linecap="butt"/>
<path d="M1702.7 2108.62 L1707.5 2108.62 C1707.68 2111.6 1708.12 2114.58 1708.6 2117.56 C1709.47 2122.98 1712.7 2128.4 1712.7 2133.82 C1712.7 2139.24 1710.38 2144.66 1710.1 2150.08 C1709.82 2155.5 1709.6 2160.92 1709.6 2166.34 C1709.6 2171.76 1709.6 2177.18 1709.6 2182.6 C1709.6 2188.02 1707.43 2193.44 1706.6 2198.86 C1706.18 2201.57 1705.5 2204.28 1705.5 2206.99 C1705.5 2217.83 1705.5 2228.67 1705.5 2239.51 C1705.5 2245.47 1706.67 2251.44 1706.9 2257.4 L1703.3 2257.4 C1703.53 2251.44 1704.7 2245.47 1704.7 2239.51 C1704.7 2228.67 1704.7 2217.83 1704.7 2206.99 C1704.7 2204.28 1704.02 2201.57 1703.6 2198.86 C1702.77 2193.44 1700.6 2188.02 1700.6 2182.6 C1700.6 2177.18 1700.6 2171.76 1700.6 2166.34 C1700.6 2160.92 1700.38 2155.5 1700.1 2150.08 C1699.82 2144.66 1697.5 2139.24 1697.5 2133.82 C1697.5 2128.4 1700.73 2122.98 1701.6 2117.56 C1702.08 2114.58 1702.52 2111.6 1702.7 2108.62Z" fill="#ff8000" stroke="#000" stroke-width="1.15" stroke-linejoin="round"/>
<line x1="1698.17" y1="2130.89" x2="1712.03" y2="2130.89" stroke="#000" stroke-width="1.25" stroke-linecap="butt"/>
<line x1="1699.74" y1="2146.02" x2="1710.46" y2="2146.02" stroke="#000" stroke-width="2.6" stroke-linecap="butt"/>
<line x1="1700.7" y1="2177.4" x2="1709.5" y2="2177.4" stroke="#000" stroke-width="1.25" stroke-linecap="butt"/>
<path d="M1728.4 2077.24 L1731.6 2077.24 C1731.5 2082.55 1731.23 2087.86 1731 2093.17 C1730.88 2095.88 1730.6 2098.59 1730.6 2101.3 C1730.6 2104.01 1732.14 2106.72 1732.5 2109.43 C1733 2113.22 1733.14 2117.02 1733.5 2120.81 C1733.81 2124.07 1733.97 2127.32 1734.5 2130.57 C1734.94 2133.28 1737.5 2135.99 1737.5 2138.7 C1737.5 2142.49 1735.69 2146.29 1735 2150.08 C1734.01 2155.5 1733.53 2160.92 1732.5 2166.34 C1731.99 2169.05 1730.6 2171.76 1730.6 2174.47 C1730.6 2177.18 1731.5 2179.89 1731.5 2182.6 C1731.5 2185.31 1730.5 2188.02 1730.5 2190.73 C1730.5 2208.62 1730.5 2226.5 1730.5 2244.39 C1730.5 2248.73 1731.08 2253.06 1731.2 2257.4 L1728.8 2257.4 C1728.92 2253.06 1729.5 2248.73 1729.5 2244.39 C1729.5 2226.5 1729.5 2208.62 1729.5 2190.73 C1729.5 2188.02 1728.5 2185.31 1728.5 2182.6 C1728.5 2179.89 1729.4 2177.18 1729.4 2174.47 C1729.4 2171.76 1728.01 2169.05 1727.5 2166.34 C1726.47 2160.92 1725.99 2155.5 1725 2150.08 C1724.31 2146.29 1722.5 2142.49 1722.5 2138.7 C1722.5 2135.99 1725.06 2133.28 1725.5 2130.57 C1726.03 2127.32 1726.19 2124.07 1726.5 2120.81 C1726.86 2117.02 1727 2113.22 1727.5 2109.43 C1727.86 2106.72 1729.4 2104.01 1729.4 2101.3 C1729.4 2098.59 1729.12 2095.88 1729 2093.17 C1728.77 2087.86 1728.5 2082.55 1728.4 2077.24Z" fill="#d4d4d4" stroke="#000" stroke-width="1.15" stroke-linejoin="round"/>
<line x1="1726.14" y1="2128.62" x2="1733.86" y2="2128.62" stroke="#000" stroke-width="1.25" stroke-linecap="butt"/>
<line x1="1722.88" y1="2139.84" x2="1737.12" y2="2139.84" stroke="#000" stroke-width="2.6" stroke-linecap="butt"/>
<line x1="1726.09" y1="2154.96" x2="1733.91" y2="2154.96" stroke="#000" stroke-width="1.25" stroke-linecap="butt"/>
<path d="M1753.3 2101.79 L1756.5 2101.79 C1756.53 2107.05 1756.58 2112.3 1756.7 2117.56 C1756.83 2122.98 1758.94 2128.4 1759.9 2133.82 C1760.86 2139.24 1762.5 2144.66 1762.5 2150.08 C1762.5 2155.5 1761.91 2160.92 1761.4 2166.34 C1760.89 2171.76 1759.64 2177.18 1758.9 2182.6 C1758.16 2188.02 1757.47 2193.44 1756.9 2198.86 C1756.33 2204.28 1755.46 2209.7 1755.4 2215.12 C1755.34 2220.54 1755.3 2225.96 1755.3 2231.38 C1755.3 2235.72 1756.05 2240.05 1756.4 2244.39 C1756.75 2248.73 1757.23 2253.06 1757.4 2257.4 L1752.4 2257.4 C1752.57 2253.06 1753.05 2248.73 1753.4 2244.39 C1753.75 2240.05 1754.5 2235.72 1754.5 2231.38 C1754.5 2225.96 1754.46 2220.54 1754.4 2215.12 C1754.34 2209.7 1753.47 2204.28 1752.9 2198.86 C1752.33 2193.44 1751.64 2188.02 1750.9 2182.6 C1750.16 2177.18 1748.91 2171.76 1748.4 2166.34 C1747.89 2160.92 1747.3 2155.5 1747.3 2150.08 C1747.3 2144.66 1748.94 2139.24 1749.9 2133.82 C1750.86 2128.4 1752.97 2122.98 1753.1 2117.56 C1753.22 2112.3 1753.27 2107.05 1753.3 2101.79Z" fill="#d4d4d4" stroke="#000" stroke-width="1.15" stroke-linejoin="round"/>
<line x1="1748.22" y1="2144.39" x2="1761.58" y2="2144.39" stroke="#000" stroke-width="1.25" stroke-linecap="butt"/>
<line x1="1748.3" y1="2162.76" x2="1761.5" y2="2162.76" stroke="#000" stroke-width="2.6" stroke-linecap="butt"/>
<line x1="1751.49" y1="2184.72" x2="1758.31" y2="2184.72" stroke="#000" stroke-width="1.25" stroke-linecap="butt"/>
<path d="M1774.5 2099.67 L1785.1 2099.67 C1785.38 2102.93 1786.47 2106.18 1786.8 2109.43 C1787.08 2112.14 1787.4 2114.85 1787.4 2117.56 C1787.4 2121.9 1785.3 2126.23 1785.3 2130.57 C1785.3 2137.07 1785.3 2143.58 1785.3 2150.08 C1785.3 2155.5 1783.54 2160.92 1782.8 2166.34 C1782.06 2171.76 1781.29 2177.18 1780.8 2182.6 C1780.56 2185.31 1780.2 2188.02 1780.2 2190.73 C1780.2 2204.28 1780.2 2217.83 1780.2 2231.38 C1780.2 2236.8 1781.44 2242.22 1781.8 2247.64 C1782.01 2250.89 1782.22 2254.15 1782.3 2257.4 L1777.3 2257.4 C1777.38 2254.15 1777.59 2250.89 1777.8 2247.64 C1778.16 2242.22 1779.4 2236.8 1779.4 2231.38 C1779.4 2217.83 1779.4 2204.28 1779.4 2190.73 C1779.4 2188.02 1779.04 2185.31 1778.8 2182.6 C1778.31 2177.18 1777.54 2171.76 1776.8 2166.34 C1776.06 2160.92 1774.3 2155.5 1774.3 2150.08 C1774.3 2143.58 1774.3 2137.07 1774.3 2130.57 C1774.3 2126.23 1772.2 2121.9 1772.2 2117.56 C1772.2 2114.85 1772.52 2112.14 1772.8 2109.43 C1773.13 2106.18 1774.22 2102.93 1774.5 2099.67Z" fill="#90c0f5" stroke="#000" stroke-width="1.15" stroke-linejoin="round"/>
<line x1="1772.54" y1="2114.31" x2="1787.06" y2="2114.31" stroke="#000" stroke-width="1.25" stroke-linecap="butt"/>
<line x1="1774.71" y1="2135.45" x2="1784.89" y2="2135.45" stroke="#000" stroke-width="2.6" stroke-linecap="butt"/>
<line x1="1776.39" y1="2161.95" x2="1783.21" y2="2161.95" stroke="#000" stroke-width="1.25" stroke-linecap="butt"/>
<path d="M1799.8 2122.76 L1809.6 2122.76 C1809.78 2126.45 1810.34 2130.14 1810.7 2133.82 C1811.24 2139.24 1812.3 2144.66 1812.3 2150.08 C1812.3 2155.5 1810.88 2160.92 1810.2 2166.34 C1809.52 2171.76 1808.77 2177.18 1808.2 2182.6 C1807.63 2188.02 1806.7 2193.44 1806.7 2198.86 C1806.7 2206.99 1806.7 2215.12 1806.7 2223.25 C1806.7 2231.38 1806.2 2239.51 1806.2 2247.64 C1806.2 2250.89 1806.45 2254.15 1806.5 2257.4 L1802.9 2257.4 C1802.95 2254.15 1803.2 2250.89 1803.2 2247.64 C1803.2 2239.51 1802.7 2231.38 1802.7 2223.25 C1802.7 2215.12 1802.7 2206.99 1802.7 2198.86 C1802.7 2193.44 1801.77 2188.02 1801.2 2182.6 C1800.63 2177.18 1799.88 2171.76 1799.2 2166.34 C1798.52 2160.92 1797.1 2155.5 1797.1 2150.08 C1797.1 2144.66 1798.16 2139.24 1798.7 2133.82 C1799.06 2130.14 1799.62 2126.45 1799.8 2122.76Z" fill="#90c0f5" stroke="#000" stroke-width="1.15" stroke-linejoin="round"/>
<line x1="1798.29" y1="2139.51" x2="1811.11" y2="2139.51" stroke="#000" stroke-width="1.25" stroke-linecap="butt"/>
<line x1="1798.18" y1="2157.89" x2="1811.22" y2="2157.89" stroke="#000" stroke-width="2.6" stroke-linecap="butt"/>
<line x1="1802.87" y1="2196.42" x2="1806.53" y2="2196.42" stroke="#000" stroke-width="1.25" stroke-linecap="butt"/>
<path d="M1827.4 2103.74 L1831.8 2103.74 C1831.77 2108.35 1831.72 2112.95 1831.6 2117.56 C1831.49 2121.9 1830.1 2126.23 1830.1 2130.57 C1830.1 2134.36 1830.1 2138.16 1830.1 2141.95 C1830.1 2147.37 1831.73 2152.79 1832.6 2158.21 C1833.47 2163.63 1835.3 2169.05 1835.3 2174.47 C1835.3 2179.89 1833.88 2185.31 1833.1 2190.73 C1832.32 2196.15 1830.6 2201.57 1830.6 2206.99 C1830.6 2212.41 1830.81 2217.83 1831.1 2223.25 C1831.39 2228.67 1833.12 2234.09 1834.1 2239.51 C1835.18 2245.47 1836.77 2251.44 1837.3 2257.4 L1821.9 2257.4 C1822.43 2251.44 1824.02 2245.47 1825.1 2239.51 C1826.08 2234.09 1827.81 2228.67 1828.1 2223.25 C1828.39 2217.83 1828.6 2212.41 1828.6 2206.99 C1828.6 2201.57 1826.88 2196.15 1826.1 2190.73 C1825.32 2185.31 1823.9 2179.89 1823.9 2174.47 C1823.9 2169.05 1825.73 2163.63 1826.6 2158.21 C1827.47 2152.79 1829.1 2147.37 1829.1 2141.95 C1829.1 2138.16 1829.1 2134.36 1829.1 2130.57 C1829.1 2126.23 1827.71 2121.9 1827.6 2117.56 C1827.48 2112.95 1827.43 2108.35 1827.4 2103.74Z" fill="#ffffff" stroke="#000" stroke-width="1.15" stroke-linejoin="round"/>
<line x1="1824.24" y1="2173.66" x2="1834.96" y2="2173.66" stroke="#000" stroke-width="1.25" stroke-linecap="butt"/>
<line x1="1828.58" y1="2203.74" x2="1830.62" y2="2203.74" stroke="#000" stroke-width="2.6" stroke-linecap="butt"/>
<path d="M1852.5 2117.24 L1856.5 2117.24 C1856.47 2122.76 1856.41 2128.29 1856.3 2133.82 C1856.19 2139.24 1855.2 2144.66 1855.2 2150.08 C1855.2 2155.5 1855.95 2160.92 1856.5 2166.34 C1857.33 2174.47 1860.1 2182.6 1860.1 2190.73 C1860.1 2195.07 1858.31 2199.4 1857.5 2203.74 C1856.79 2207.53 1855.5 2211.33 1855.5 2215.12 C1855.5 2220.54 1856.72 2225.96 1857.5 2231.38 C1858.74 2240.05 1861.33 2248.73 1862.1 2257.4 L1846.9 2257.4 C1847.67 2248.73 1850.26 2240.05 1851.5 2231.38 C1852.28 2225.96 1853.5 2220.54 1853.5 2215.12 C1853.5 2211.33 1852.21 2207.53 1851.5 2203.74 C1850.69 2199.4 1848.9 2195.07 1848.9 2190.73 C1848.9 2182.6 1851.67 2174.47 1852.5 2166.34 C1853.05 2160.92 1853.8 2155.5 1853.8 2150.08 C1853.8 2144.66 1852.81 2139.24 1852.7 2133.82 C1852.59 2128.29 1852.53 2122.76 1852.5 2117.24Z" fill="#ffffff" stroke="#000" stroke-width="1.15" stroke-linejoin="round"/>
<line x1="1849.71" y1="2184.72" x2="1859.29" y2="2184.72" stroke="#000" stroke-width="1.25" stroke-linecap="butt"/>
<line x1="1851.8" y1="2203.74" x2="1857.2" y2="2203.74" stroke="#000" stroke-width="2.6" stroke-linecap="butt"/>
<path d="M1876.7 2093.98 L1882.1 2093.98 C1882.32 2099.13 1882.84 2104.28 1883.4 2109.43 C1883.99 2114.85 1885.27 2120.27 1885.9 2125.69 C1886.34 2129.49 1887 2133.28 1887 2137.07 C1887 2141.41 1884.95 2145.75 1884.4 2150.08 C1883.71 2155.5 1883.47 2160.92 1882.9 2166.34 C1882.33 2171.76 1881.6 2177.18 1880.9 2182.6 C1880.55 2185.31 1879.8 2188.02 1879.8 2190.73 C1879.8 2206.99 1879.8 2223.25 1879.8 2239.51 C1879.8 2242.76 1880.9 2246.02 1880.9 2249.27 C1880.9 2251.98 1880.65 2254.69 1880.6 2257.4 L1878.2 2257.4 C1878.15 2254.69 1877.9 2251.98 1877.9 2249.27 C1877.9 2246.02 1879 2242.76 1879 2239.51 C1879 2223.25 1879 2206.99 1879 2190.73 C1879 2188.02 1878.25 2185.31 1877.9 2182.6 C1877.2 2177.18 1876.47 2171.76 1875.9 2166.34 C1875.33 2160.92 1875.09 2155.5 1874.4 2150.08 C1873.85 2145.75 1871.8 2141.41 1871.8 2137.07 C1871.8 2133.28 1872.46 2129.49 1872.9 2125.69 C1873.53 2120.27 1874.81 2114.85 1875.4 2109.43 C1875.96 2104.28 1876.48 2099.13 1876.7 2093.98Z" fill="#40f0b0" stroke="#000" stroke-width="1.15" stroke-linejoin="round"/>
<line x1="1874.8" y1="2115.61" x2="1884" y2="2115.61" stroke="#000" stroke-width="1.25" stroke-linecap="butt"/>
<line x1="1872.09" y1="2135.93" x2="1886.71" y2="2135.93" stroke="#000" stroke-width="2.6" stroke-linecap="butt"/>
<line x1="1875.45" y1="2157.4" x2="1883.35" y2="2157.4" stroke="#000" stroke-width="1.25" stroke-linecap="butt"/>
<path d="M1900.2 2120.49 L1908.4 2120.49 C1908.47 2124.93 1908.6 2129.38 1908.8 2133.82 C1909.04 2139.24 1909.88 2144.66 1910.3 2150.08 C1910.93 2158.21 1911.9 2166.34 1911.9 2174.47 C1911.9 2179.89 1910.72 2185.31 1909.8 2190.73 C1908.88 2196.15 1906.66 2201.57 1905.8 2206.99 C1905.37 2209.7 1904.8 2212.41 1904.8 2215.12 C1904.8 2223.25 1904.8 2231.38 1904.8 2239.51 C1904.8 2243.31 1905.8 2247.1 1905.8 2250.89 C1905.8 2253.06 1905.8 2255.23 1905.8 2257.4 L1902.8 2257.4 C1902.8 2255.23 1902.8 2253.06 1902.8 2250.89 C1902.8 2247.1 1903.8 2243.31 1903.8 2239.51 C1903.8 2231.38 1903.8 2223.25 1903.8 2215.12 C1903.8 2212.41 1903.23 2209.7 1902.8 2206.99 C1901.94 2201.57 1899.72 2196.15 1898.8 2190.73 C1897.88 2185.31 1896.7 2179.89 1896.7 2174.47 C1896.7 2166.34 1897.67 2158.21 1898.3 2150.08 C1898.72 2144.66 1899.56 2139.24 1899.8 2133.82 C1900 2129.38 1900.13 2124.93 1900.2 2120.49Z" fill="#40f0b0" stroke="#000" stroke-width="1.15" stroke-linejoin="round"/>
<line x1="1899.21" y1="2143.58" x2="1909.39" y2="2143.58" stroke="#000" stroke-width="1.25" stroke-linecap="butt"/>
<line x1="1897.1" y1="2168.78" x2="1911.5" y2="2168.78" stroke="#000" stroke-width="2.6" stroke-linecap="butt"/>
<line x1="1898.35" y1="2186.67" x2="1910.25" y2="2186.67" stroke="#000" stroke-width="1.25" stroke-linecap="butt"/>
<line x1="1182.2" y1="2034.2" x2="1207.6" y2="2034.2" stroke="#000" stroke-width="2.6" stroke-linecap="butt"/>
<text x="1194" y="2034.6" font-size="18" text-anchor="middle" fill="#000">*</text>
<line x1="1231.7" y1="2056.7" x2="1257.4" y2="2056.7" stroke="#000" stroke-width="2.6" stroke-linecap="butt"/>
<text x="1243.8" y="2057.3" font-size="18" text-anchor="middle" fill="#000">*</text>
<line x1="1433.4" y1="2039.3" x2="1459.1" y2="2039.3" stroke="#000" stroke-width="2.6" stroke-linecap="butt"/>
<text x="1448" y="2039.7" font-size="18" text-anchor="middle" fill="#000" letter-spacing="3">**</text>
<line x1="1480.2" y1="2062" x2="1505.6" y2="2062" stroke="#000" stroke-width="2.6" stroke-linecap="butt"/>
<text x="1494.5" y="2062.3" font-size="18" text-anchor="middle" fill="#000" letter-spacing="3">**</text>
<line x1="1530.5" y1="2069.4" x2="1555.7" y2="2069.4" stroke="#000" stroke-width="2.6" stroke-linecap="butt"/>
<text x="1542.6" y="2069.9" font-size="18" text-anchor="middle" fill="#000">*</text>
<line x1="1576.5" y1="2074.7" x2="1601.8" y2="2074.7" stroke="#000" stroke-width="2.6" stroke-linecap="butt"/>
<text x="1588.6" y="2075.2" font-size="18" text-anchor="middle" fill="#000">*</text>
<line x1="1630.4" y1="2078.9" x2="1655.8" y2="2078.9" stroke="#000" stroke-width="2.6" stroke-linecap="butt"/>
<text x="1642.5" y="2079.7" font-size="18" text-anchor="middle" fill="#000">*</text>
<line x1="1678.2" y1="2079.3" x2="1703.6" y2="2079.3" stroke="#000" stroke-width="2.6" stroke-linecap="butt"/>
<text x="1690.4" y="2080.1" font-size="18" text-anchor="middle" fill="#000">*</text>
<line x1="1727.5" y1="2061" x2="1753" y2="2061" stroke="#000" stroke-width="2.6" stroke-linecap="butt"/>
<text x="1739.3" y="2061.4" font-size="18" text-anchor="middle" fill="#000">*</text>
<line x1="1780.3" y1="2089.6" x2="1805.9" y2="2089.6" stroke="#000" stroke-width="2.6" stroke-linecap="butt"/>
<text x="1792.5" y="2090.6" font-size="18" text-anchor="middle" fill="#000">*</text>
<line x1="1880.7" y1="2078.9" x2="1905.9" y2="2078.9" stroke="#000" stroke-width="2.6" stroke-linecap="butt"/>
<text x="1892.8" y="2079.2" font-size="18" text-anchor="middle" fill="#000">*</text>
</svg>
</body></html>
